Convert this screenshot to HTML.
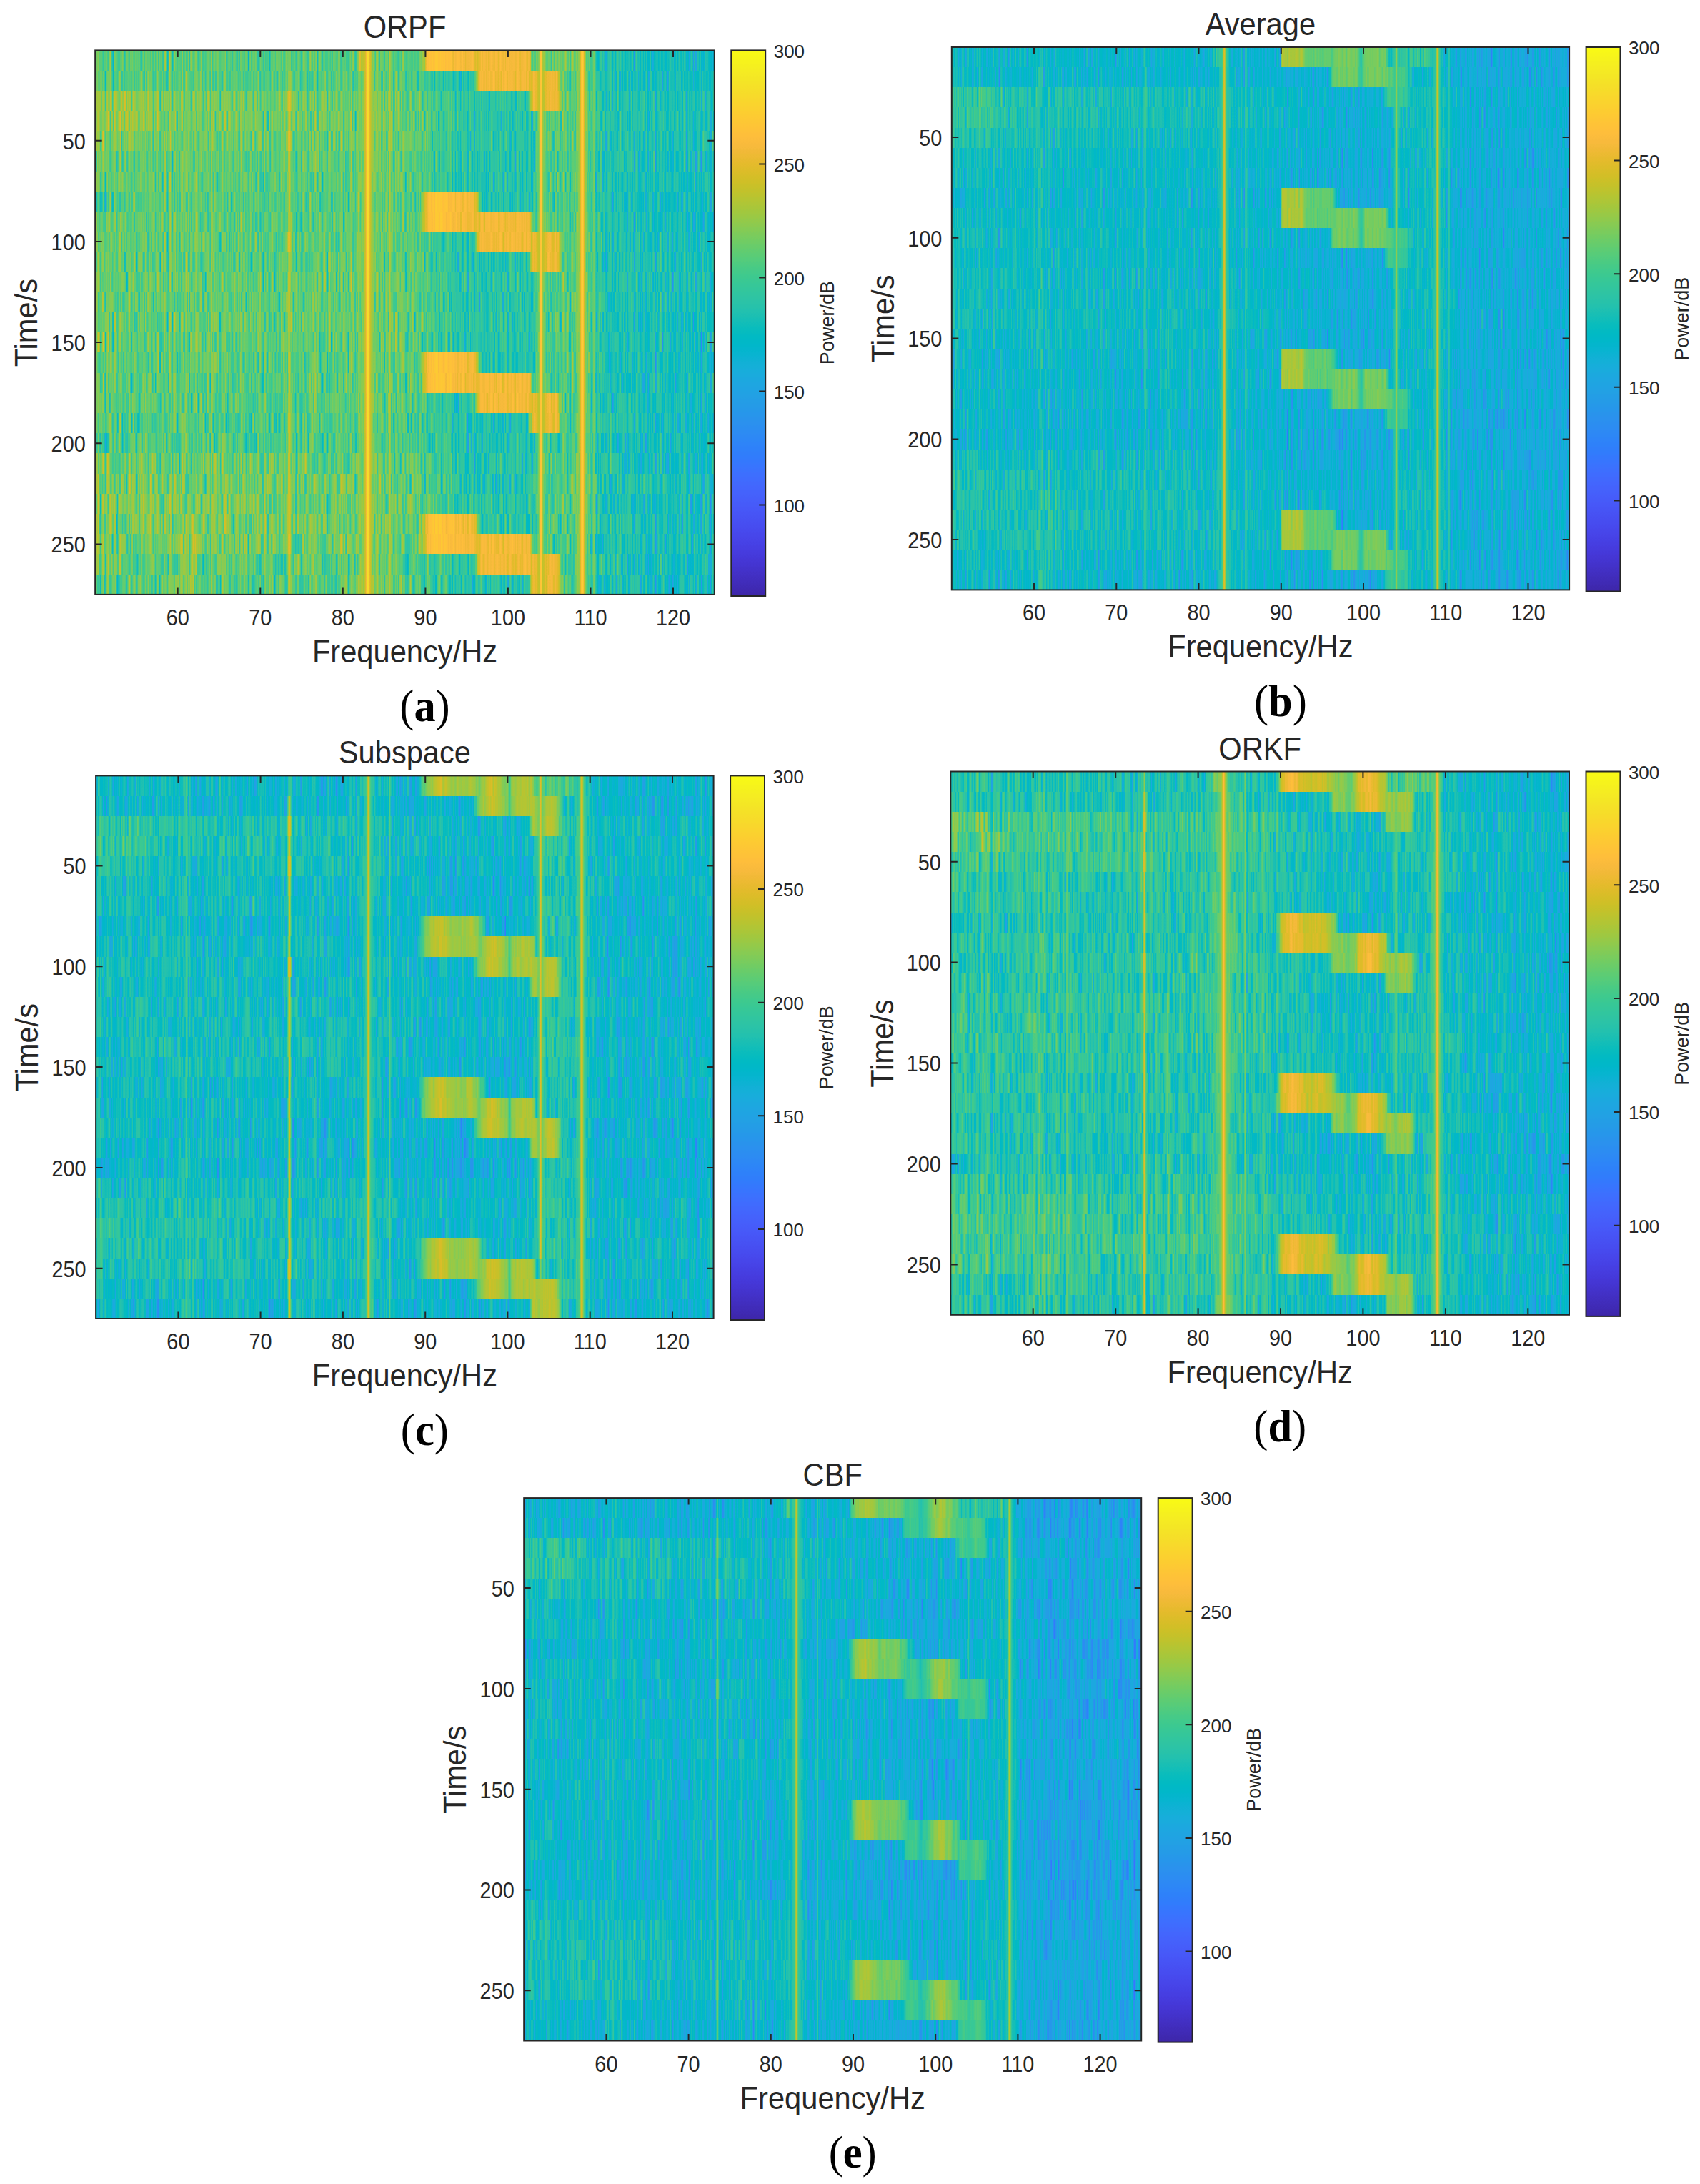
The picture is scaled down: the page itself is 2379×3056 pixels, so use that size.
<!DOCTYPE html>
<html><head><meta charset="utf-8"><title>Figure</title>
<style>
html,body{margin:0;padding:0;background:#fff}
svg{display:block}
text{font-family:"Liberation Sans",sans-serif;fill:#262626}
text.s{font-family:"Liberation Serif",serif;fill:#000}
</style></head><body>
<svg width="2379" height="3056" viewBox="0 0 2379 3056">
<defs>
<linearGradient id="cb" x1="0" y1="0" x2="0" y2="1"><stop offset="0" stop-color="#fff"/><stop offset="1" stop-color="#000"/></linearGradient>
<filter id="cm" x="0" y="0" width="1" height="1" color-interpolation-filters="sRGB"><feComponentTransfer><feFuncR type="table" tableValues=".242 .250 .258 .265 .271 .275 .278 .280 .281 .281 .280 .276 .270 .260 .244 .221 .196 .183 .179 .176 .169 .154 .146 .138 .125 .111 .095 .069 .030 .004 .007 .043 .096 .141 .172 .194 .216 .247 .291 .341 .391 .446 .504 .562 .617 .672 .724 .774 .820 .863 .903 .939 .973 .996 .997 .995 .989 .979 .968 .961 .960 .963 .969 .977"/><feFuncG type="table" tableValues=".150 .165 .182 .198 .215 .234 .256 .278 .301 .323 .345 .367 .389 .412 .436 .460 .485 .507 .529 .550 .570 .590 .609 .628 .646 .663 .680 .695 .708 .720 .731 .741 .750 .758 .767 .776 .784 .792 .797 .801 .803 .802 .799 .794 .788 .779 .770 .760 .750 .741 .733 .729 .730 .743 .766 .789 .814 .839 .864 .889 .913 .937 .961 .984"/><feFuncB type="table" tableValues=".660 .708 .751 .795 .836 .871 .899 .922 .941 .958 .972 .983 .991 .995 .999 .997 .989 .980 .968 .952 .936 .922 .908 .897 .888 .876 .860 .839 .816 .792 .766 .739 .712 .684 .655 .625 .592 .557 .519 .479 .435 .391 .348 .304 .261 .223 .191 .165 .153 .160 .177 .210 .239 .237 .220 .203 .189 .177 .164 .154 .142 .127 .106 .081"/></feComponentTransfer></filter>
<linearGradient id="a0"><stop offset=".0006" stop-color="#4cff00"/><stop offset=".0271" stop-color="#48ff00"/><stop offset=".2659" stop-color="#45ff00"/><stop offset=".3997" stop-color="#46ff00"/><stop offset=".4216" stop-color="#48ff00"/><stop offset=".4227" stop-color="#48ff00"/><stop offset=".4273" stop-color="#6bff00"/><stop offset=".4285" stop-color="#71ff00"/><stop offset=".4423" stop-color="#71ff00"/><stop offset=".4435" stop-color="#6bff00"/><stop offset=".4481" stop-color="#49ff00"/><stop offset=".4608" stop-color="#4aff00"/><stop offset=".5058" stop-color="#46ff00"/><stop offset=".5185" stop-color="#43ff00"/><stop offset=".5208" stop-color="#47f600"/><stop offset=".5219" stop-color="#4bed00"/><stop offset=".5231" stop-color="#51e200"/><stop offset=".5242" stop-color="#58d600"/><stop offset=".5265" stop-color="#69b900"/><stop offset=".5334" stop-color="#a46400"/><stop offset=".5358" stop-color="#b35300"/><stop offset=".5369" stop-color="#b84e00"/><stop offset=".5381" stop-color="#bb4d00"/><stop offset=".5392" stop-color="#bc4d00"/><stop offset=".5496" stop-color="#c34d00"/><stop offset=".5865" stop-color="#b94d00"/><stop offset=".6107" stop-color="#b74d00"/><stop offset=".6119" stop-color="#b74d00"/><stop offset=".6153" stop-color="#a95f00"/><stop offset=".6165" stop-color="#a66300"/><stop offset=".6176" stop-color="#a66300"/><stop offset=".6188" stop-color="#a85f00"/><stop offset=".6223" stop-color="#b64d00"/><stop offset=".6234" stop-color="#b74d00"/><stop offset=".6995" stop-color="#b64d00"/><stop offset=".7007" stop-color="#b25300"/><stop offset=".7018" stop-color="#a86100"/><stop offset=".703" stop-color="#997400"/><stop offset=".7065" stop-color="#64bf00"/><stop offset=".7076" stop-color="#55d600"/><stop offset=".7088" stop-color="#49ea00"/><stop offset=".7099" stop-color="#42f800"/><stop offset=".7111" stop-color="#40ff00"/><stop offset=".7134" stop-color="#45ff00"/><stop offset=".7203" stop-color="#4dff00"/><stop offset=".7734" stop-color="#50ff00"/><stop offset=".7849" stop-color="#3eff00"/><stop offset=".8264" stop-color="#2eff00"/><stop offset=".9994" stop-color="#26ff00"/></linearGradient>
<linearGradient id="a1"><stop offset=".0006" stop-color="#4bff00"/><stop offset=".0271" stop-color="#47ff00"/><stop offset=".267" stop-color="#44ff00"/><stop offset=".3997" stop-color="#45ff00"/><stop offset=".4608" stop-color="#49ff00"/><stop offset=".5069" stop-color="#45ff00"/><stop offset=".5727" stop-color="#35ff00"/><stop offset=".6096" stop-color="#30ff00"/><stop offset=".6107" stop-color="#34fa00"/><stop offset=".6119" stop-color="#3cee00"/><stop offset=".613" stop-color="#49dd00"/><stop offset=".6142" stop-color="#58c900"/><stop offset=".6188" stop-color="#9b7100"/><stop offset=".62" stop-color="#a86000"/><stop offset=".6211" stop-color="#b15300"/><stop offset=".6223" stop-color="#b64d00"/><stop offset=".6234" stop-color="#b74d00"/><stop offset=".6995" stop-color="#b64d00"/><stop offset=".703" stop-color="#a95f00"/><stop offset=".7042" stop-color="#a85f00"/><stop offset=".7076" stop-color="#b64d00"/><stop offset=".7088" stop-color="#b64c00"/><stop offset=".7445" stop-color="#b54d00"/><stop offset=".7457" stop-color="#b25000"/><stop offset=".7468" stop-color="#ab5c00"/><stop offset=".748" stop-color="#9f6e00"/><stop offset=".7526" stop-color="#60cf00"/><stop offset=".7537" stop-color="#52e400"/><stop offset=".7549" stop-color="#48f500"/><stop offset=".7561" stop-color="#42fe00"/><stop offset=".7572" stop-color="#42ff00"/><stop offset=".7734" stop-color="#43ff00"/><stop offset=".8276" stop-color="#2dff00"/><stop offset=".9994" stop-color="#26ff00"/></linearGradient>
<linearGradient id="a2"><stop offset=".0006" stop-color="#5bff00"/><stop offset=".034" stop-color="#57ff00"/><stop offset=".0456" stop-color="#5eff00"/><stop offset=".0606" stop-color="#5eff00"/><stop offset=".0721" stop-color="#56ff00"/><stop offset=".1067" stop-color="#53ff00"/><stop offset=".2659" stop-color="#4fff00"/><stop offset=".3997" stop-color="#4eff00"/><stop offset=".4608" stop-color="#52ff00"/><stop offset=".5069" stop-color="#4dff00"/><stop offset=".5727" stop-color="#3cff00"/><stop offset=".613" stop-color="#35ff00"/><stop offset=".6972" stop-color="#34ff00"/><stop offset=".6984" stop-color="#38fa00"/><stop offset=".6995" stop-color="#43eb00"/><stop offset=".7007" stop-color="#53d500"/><stop offset=".7042" stop-color="#908100"/><stop offset=".7053" stop-color="#a26900"/><stop offset=".7065" stop-color="#af5700"/><stop offset=".7076" stop-color="#b64d00"/><stop offset=".7088" stop-color="#b64d00"/><stop offset=".7445" stop-color="#b54d00"/><stop offset=".7457" stop-color="#b35000"/><stop offset=".7468" stop-color="#ab5c00"/><stop offset=".748" stop-color="#a06e00"/><stop offset=".7526" stop-color="#64cf00"/><stop offset=".7537" stop-color="#57e400"/><stop offset=".7549" stop-color="#4df500"/><stop offset=".7561" stop-color="#47fe00"/><stop offset=".7572" stop-color="#47ff00"/><stop offset=".7734" stop-color="#48ff00"/><stop offset=".8276" stop-color="#32ff00"/><stop offset=".9994" stop-color="#2bff00"/></linearGradient>
<linearGradient id="a3"><stop offset=".0006" stop-color="#5bff00"/><stop offset=".034" stop-color="#57ff00"/><stop offset=".0456" stop-color="#5eff00"/><stop offset=".0606" stop-color="#5eff00"/><stop offset=".0721" stop-color="#56ff00"/><stop offset=".1067" stop-color="#53ff00"/><stop offset=".2659" stop-color="#4fff00"/><stop offset=".3997" stop-color="#4eff00"/><stop offset=".4608" stop-color="#52ff00"/><stop offset=".5069" stop-color="#4dff00"/><stop offset=".5727" stop-color="#3cff00"/><stop offset=".6142" stop-color="#34ff00"/><stop offset=".7065" stop-color="#34ff00"/><stop offset=".7203" stop-color="#44ff00"/><stop offset=".7734" stop-color="#48ff00"/><stop offset=".8276" stop-color="#32ff00"/><stop offset=".9994" stop-color="#2bff00"/></linearGradient>
<linearGradient id="a4"><stop offset=".0006" stop-color="#55ff00"/><stop offset=".0271" stop-color="#51ff00"/><stop offset=".0456" stop-color="#54ff00"/><stop offset=".0606" stop-color="#54ff00"/><stop offset=".0721" stop-color="#50ff00"/><stop offset=".1067" stop-color="#4fff00"/><stop offset=".267" stop-color="#4cff00"/><stop offset=".3997" stop-color="#4cff00"/><stop offset=".4608" stop-color="#50ff00"/><stop offset=".5069" stop-color="#4cff00"/><stop offset=".5727" stop-color="#3aff00"/><stop offset=".6142" stop-color="#33ff00"/><stop offset=".7065" stop-color="#33ff00"/><stop offset=".7203" stop-color="#43ff00"/><stop offset=".7734" stop-color="#47ff00"/><stop offset=".8276" stop-color="#31ff00"/><stop offset=".9994" stop-color="#2aff00"/></linearGradient>
<linearGradient id="a5"><stop offset=".0006" stop-color="#50ff00"/><stop offset=".0271" stop-color="#4bff00"/><stop offset=".267" stop-color="#48ff00"/><stop offset=".3997" stop-color="#49ff00"/><stop offset=".4608" stop-color="#4dff00"/><stop offset=".5069" stop-color="#49ff00"/><stop offset=".5727" stop-color="#38ff00"/><stop offset=".6142" stop-color="#32ff00"/><stop offset=".7065" stop-color="#32ff00"/><stop offset=".7203" stop-color="#42ff00"/><stop offset=".7734" stop-color="#45ff00"/><stop offset=".8276" stop-color="#30ff00"/><stop offset=".9994" stop-color="#28ff00"/></linearGradient>
<linearGradient id="a6"><stop offset=".0006" stop-color="#4fff00"/><stop offset=".0271" stop-color="#4bff00"/><stop offset=".267" stop-color="#47ff00"/><stop offset=".3997" stop-color="#48ff00"/><stop offset=".4608" stop-color="#4dff00"/><stop offset=".5069" stop-color="#48ff00"/><stop offset=".5727" stop-color="#38ff00"/><stop offset=".6142" stop-color="#31ff00"/><stop offset=".7065" stop-color="#31ff00"/><stop offset=".7203" stop-color="#41ff00"/><stop offset=".7734" stop-color="#45ff00"/><stop offset=".8276" stop-color="#2fff00"/><stop offset=".9994" stop-color="#28ff00"/></linearGradient>
<linearGradient id="a7"><stop offset=".0006" stop-color="#35ff00"/><stop offset=".0167" stop-color="#32ff00"/><stop offset=".0179" stop-color="#34ff00"/><stop offset=".0236" stop-color="#47ff00"/><stop offset=".0248" stop-color="#48ff00"/><stop offset=".267" stop-color="#45ff00"/><stop offset=".3997" stop-color="#46ff00"/><stop offset=".4596" stop-color="#4aff00"/><stop offset=".5058" stop-color="#46ff00"/><stop offset=".5185" stop-color="#43ff00"/><stop offset=".5208" stop-color="#47f600"/><stop offset=".5219" stop-color="#4bed00"/><stop offset=".5231" stop-color="#51e200"/><stop offset=".5242" stop-color="#58d600"/><stop offset=".5265" stop-color="#69b900"/><stop offset=".5334" stop-color="#a46400"/><stop offset=".5358" stop-color="#b35300"/><stop offset=".5369" stop-color="#b84e00"/><stop offset=".5381" stop-color="#bb4d00"/><stop offset=".5392" stop-color="#bc4d00"/><stop offset=".5496" stop-color="#c34d00"/><stop offset=".5865" stop-color="#b94d00"/><stop offset=".6119" stop-color="#b74d00"/><stop offset=".613" stop-color="#b25300"/><stop offset=".6142" stop-color="#aa5e00"/><stop offset=".6153" stop-color="#9e6d00"/><stop offset=".6165" stop-color="#907f00"/><stop offset=".6211" stop-color="#53d100"/><stop offset=".6223" stop-color="#46e200"/><stop offset=".6234" stop-color="#3bf000"/><stop offset=".6246" stop-color="#33fa00"/><stop offset=".6257" stop-color="#30ff00"/><stop offset=".7065" stop-color="#30ff00"/><stop offset=".7203" stop-color="#40ff00"/><stop offset=".7734" stop-color="#43ff00"/><stop offset=".8276" stop-color="#2eff00"/><stop offset=".9994" stop-color="#26ff00"/></linearGradient>
<linearGradient id="a8"><stop offset=".0006" stop-color="#4fff00"/><stop offset=".0271" stop-color="#4bff00"/><stop offset=".267" stop-color="#47ff00"/><stop offset=".3997" stop-color="#48ff00"/><stop offset=".4596" stop-color="#4dff00"/><stop offset=".5058" stop-color="#49ff00"/><stop offset=".5185" stop-color="#45ff00"/><stop offset=".5208" stop-color="#49f600"/><stop offset=".5219" stop-color="#4ded00"/><stop offset=".5231" stop-color="#53e200"/><stop offset=".5242" stop-color="#59d600"/><stop offset=".5265" stop-color="#6ab900"/><stop offset=".5334" stop-color="#a46400"/><stop offset=".5358" stop-color="#b35300"/><stop offset=".5369" stop-color="#b84e00"/><stop offset=".5381" stop-color="#bb4d00"/><stop offset=".5392" stop-color="#bc4d00"/><stop offset=".5496" stop-color="#c34d00"/><stop offset=".5865" stop-color="#b94d00"/><stop offset=".6107" stop-color="#b74d00"/><stop offset=".6119" stop-color="#b74d00"/><stop offset=".6153" stop-color="#a95f00"/><stop offset=".6165" stop-color="#a66300"/><stop offset=".6176" stop-color="#a66300"/><stop offset=".6188" stop-color="#a95f00"/><stop offset=".6223" stop-color="#b64d00"/><stop offset=".6234" stop-color="#b74d00"/><stop offset=".6995" stop-color="#b64d00"/><stop offset=".7007" stop-color="#b25300"/><stop offset=".7018" stop-color="#a76100"/><stop offset=".703" stop-color="#997400"/><stop offset=".7065" stop-color="#61bf00"/><stop offset=".7076" stop-color="#51d600"/><stop offset=".7088" stop-color="#43ea00"/><stop offset=".7099" stop-color="#3af800"/><stop offset=".7111" stop-color="#37ff00"/><stop offset=".7203" stop-color="#41ff00"/><stop offset=".7734" stop-color="#45ff00"/><stop offset=".8276" stop-color="#2fff00"/><stop offset=".9994" stop-color="#28ff00"/></linearGradient>
<linearGradient id="a9"><stop offset=".0006" stop-color="#50ff00"/><stop offset=".0271" stop-color="#4bff00"/><stop offset=".267" stop-color="#48ff00"/><stop offset=".3997" stop-color="#49ff00"/><stop offset=".4608" stop-color="#4dff00"/><stop offset=".5069" stop-color="#49ff00"/><stop offset=".5727" stop-color="#38ff00"/><stop offset=".6096" stop-color="#33ff00"/><stop offset=".6107" stop-color="#36fa00"/><stop offset=".6119" stop-color="#3fee00"/><stop offset=".613" stop-color="#4bdd00"/><stop offset=".6142" stop-color="#5ac900"/><stop offset=".6188" stop-color="#9c7100"/><stop offset=".62" stop-color="#a86000"/><stop offset=".6211" stop-color="#b25300"/><stop offset=".6223" stop-color="#b64d00"/><stop offset=".6234" stop-color="#b74d00"/><stop offset=".6995" stop-color="#b64d00"/><stop offset=".703" stop-color="#a95f00"/><stop offset=".7042" stop-color="#a85f00"/><stop offset=".7076" stop-color="#b64d00"/><stop offset=".7088" stop-color="#b64c00"/><stop offset=".7445" stop-color="#b54d00"/><stop offset=".7457" stop-color="#b25000"/><stop offset=".7468" stop-color="#ab5c00"/><stop offset=".748" stop-color="#a06e00"/><stop offset=".7526" stop-color="#62cf00"/><stop offset=".7537" stop-color="#55e400"/><stop offset=".7549" stop-color="#4bf500"/><stop offset=".7561" stop-color="#45fe00"/><stop offset=".7572" stop-color="#44ff00"/><stop offset=".7734" stop-color="#45ff00"/><stop offset=".8276" stop-color="#30ff00"/><stop offset=".9994" stop-color="#28ff00"/></linearGradient>
<linearGradient id="a10"><stop offset=".0006" stop-color="#4fff00"/><stop offset=".0271" stop-color="#4bff00"/><stop offset=".267" stop-color="#47ff00"/><stop offset=".3997" stop-color="#48ff00"/><stop offset=".4608" stop-color="#4dff00"/><stop offset=".5069" stop-color="#48ff00"/><stop offset=".5727" stop-color="#38ff00"/><stop offset=".613" stop-color="#31ff00"/><stop offset=".6972" stop-color="#31ff00"/><stop offset=".6984" stop-color="#35fa00"/><stop offset=".6995" stop-color="#40eb00"/><stop offset=".7007" stop-color="#51d500"/><stop offset=".7042" stop-color="#8f8100"/><stop offset=".7053" stop-color="#a16900"/><stop offset=".7065" stop-color="#af5700"/><stop offset=".7076" stop-color="#b64d00"/><stop offset=".7088" stop-color="#b64d00"/><stop offset=".7445" stop-color="#b54d00"/><stop offset=".7457" stop-color="#b25000"/><stop offset=".7468" stop-color="#ab5c00"/><stop offset=".748" stop-color="#9f6e00"/><stop offset=".7526" stop-color="#62cf00"/><stop offset=".7537" stop-color="#54e400"/><stop offset=".7549" stop-color="#4af500"/><stop offset=".7561" stop-color="#44fe00"/><stop offset=".7572" stop-color="#44ff00"/><stop offset=".7734" stop-color="#45ff00"/><stop offset=".8276" stop-color="#2fff00"/><stop offset=".9994" stop-color="#28ff00"/></linearGradient>
<linearGradient id="a11"><stop offset=".0006" stop-color="#50ff00"/><stop offset=".0271" stop-color="#4cff00"/><stop offset=".267" stop-color="#49ff00"/><stop offset=".3997" stop-color="#4aff00"/><stop offset=".4608" stop-color="#4eff00"/><stop offset=".5069" stop-color="#4aff00"/><stop offset=".5727" stop-color="#39ff00"/><stop offset=".6142" stop-color="#32ff00"/><stop offset=".7065" stop-color="#32ff00"/><stop offset=".7203" stop-color="#42ff00"/><stop offset=".7734" stop-color="#46ff00"/><stop offset=".8276" stop-color="#30ff00"/><stop offset=".9994" stop-color="#29ff00"/></linearGradient>
<linearGradient id="a12"><stop offset=".0006" stop-color="#50ff00"/><stop offset=".0271" stop-color="#4cff00"/><stop offset=".267" stop-color="#49ff00"/><stop offset=".3997" stop-color="#4aff00"/><stop offset=".4608" stop-color="#4eff00"/><stop offset=".5069" stop-color="#4aff00"/><stop offset=".5727" stop-color="#39ff00"/><stop offset=".6142" stop-color="#32ff00"/><stop offset=".7065" stop-color="#32ff00"/><stop offset=".7203" stop-color="#42ff00"/><stop offset=".7734" stop-color="#46ff00"/><stop offset=".8276" stop-color="#30ff00"/><stop offset=".9994" stop-color="#29ff00"/></linearGradient>
<linearGradient id="a13"><stop offset=".0006" stop-color="#51ff00"/><stop offset=".0271" stop-color="#4dff00"/><stop offset=".267" stop-color="#4aff00"/><stop offset=".3997" stop-color="#4bff00"/><stop offset=".4608" stop-color="#4fff00"/><stop offset=".5069" stop-color="#4bff00"/><stop offset=".5727" stop-color="#3aff00"/><stop offset=".6142" stop-color="#33ff00"/><stop offset=".7065" stop-color="#33ff00"/><stop offset=".7203" stop-color="#43ff00"/><stop offset=".7734" stop-color="#46ff00"/><stop offset=".8276" stop-color="#31ff00"/><stop offset=".9994" stop-color="#29ff00"/></linearGradient>
<linearGradient id="a14"><stop offset=".0006" stop-color="#50ff00"/><stop offset=".0271" stop-color="#4bff00"/><stop offset=".267" stop-color="#48ff00"/><stop offset=".3997" stop-color="#49ff00"/><stop offset=".4608" stop-color="#4dff00"/><stop offset=".5069" stop-color="#49ff00"/><stop offset=".5727" stop-color="#38ff00"/><stop offset=".6142" stop-color="#32ff00"/><stop offset=".7065" stop-color="#32ff00"/><stop offset=".7203" stop-color="#42ff00"/><stop offset=".7734" stop-color="#45ff00"/><stop offset=".8276" stop-color="#30ff00"/><stop offset=".9994" stop-color="#28ff00"/></linearGradient>
<linearGradient id="a15"><stop offset=".0006" stop-color="#4dff00"/><stop offset=".0271" stop-color="#49ff00"/><stop offset=".267" stop-color="#46ff00"/><stop offset=".3997" stop-color="#47ff00"/><stop offset=".4596" stop-color="#4bff00"/><stop offset=".5058" stop-color="#47ff00"/><stop offset=".5185" stop-color="#44ff00"/><stop offset=".5208" stop-color="#48f600"/><stop offset=".5219" stop-color="#4ced00"/><stop offset=".5231" stop-color="#51e200"/><stop offset=".5242" stop-color="#58d600"/><stop offset=".5265" stop-color="#69b900"/><stop offset=".5334" stop-color="#a46400"/><stop offset=".5358" stop-color="#b35300"/><stop offset=".5369" stop-color="#b84e00"/><stop offset=".5381" stop-color="#bb4d00"/><stop offset=".5392" stop-color="#bc4d00"/><stop offset=".5496" stop-color="#c34d00"/><stop offset=".5865" stop-color="#b94d00"/><stop offset=".6119" stop-color="#b74d00"/><stop offset=".613" stop-color="#b25300"/><stop offset=".6142" stop-color="#aa5e00"/><stop offset=".6153" stop-color="#9e6d00"/><stop offset=".6165" stop-color="#917f00"/><stop offset=".6211" stop-color="#53d100"/><stop offset=".6223" stop-color="#46e200"/><stop offset=".6234" stop-color="#3bf000"/><stop offset=".6246" stop-color="#34fa00"/><stop offset=".6257" stop-color="#31ff00"/><stop offset=".7065" stop-color="#30ff00"/><stop offset=".7203" stop-color="#40ff00"/><stop offset=".7734" stop-color="#44ff00"/><stop offset=".8276" stop-color="#2eff00"/><stop offset=".9994" stop-color="#27ff00"/></linearGradient>
<linearGradient id="a16"><stop offset=".0006" stop-color="#4dff00"/><stop offset=".0271" stop-color="#49ff00"/><stop offset=".267" stop-color="#46ff00"/><stop offset=".3997" stop-color="#47ff00"/><stop offset=".4596" stop-color="#4bff00"/><stop offset=".5058" stop-color="#47ff00"/><stop offset=".5185" stop-color="#44ff00"/><stop offset=".5208" stop-color="#48f600"/><stop offset=".5219" stop-color="#4ced00"/><stop offset=".5231" stop-color="#51e200"/><stop offset=".5242" stop-color="#58d600"/><stop offset=".5265" stop-color="#69b900"/><stop offset=".5334" stop-color="#a46400"/><stop offset=".5358" stop-color="#b35300"/><stop offset=".5369" stop-color="#b84e00"/><stop offset=".5381" stop-color="#bb4d00"/><stop offset=".5392" stop-color="#bc4d00"/><stop offset=".5496" stop-color="#c34d00"/><stop offset=".5865" stop-color="#b94d00"/><stop offset=".6107" stop-color="#b74d00"/><stop offset=".6119" stop-color="#b74d00"/><stop offset=".6153" stop-color="#a95f00"/><stop offset=".6165" stop-color="#a66300"/><stop offset=".6176" stop-color="#a66300"/><stop offset=".6188" stop-color="#a95f00"/><stop offset=".6223" stop-color="#b64d00"/><stop offset=".6234" stop-color="#b74d00"/><stop offset=".6995" stop-color="#b64d00"/><stop offset=".7007" stop-color="#b25300"/><stop offset=".7018" stop-color="#a76100"/><stop offset=".703" stop-color="#997400"/><stop offset=".7065" stop-color="#61bf00"/><stop offset=".7076" stop-color="#50d600"/><stop offset=".7088" stop-color="#42ea00"/><stop offset=".7099" stop-color="#39f800"/><stop offset=".7111" stop-color="#36ff00"/><stop offset=".7203" stop-color="#40ff00"/><stop offset=".7734" stop-color="#44ff00"/><stop offset=".8276" stop-color="#2eff00"/><stop offset=".9994" stop-color="#27ff00"/></linearGradient>
<linearGradient id="a17"><stop offset=".0006" stop-color="#4cff00"/><stop offset=".0271" stop-color="#48ff00"/><stop offset=".267" stop-color="#45ff00"/><stop offset=".3997" stop-color="#46ff00"/><stop offset=".4608" stop-color="#4aff00"/><stop offset=".5069" stop-color="#46ff00"/><stop offset=".5727" stop-color="#36ff00"/><stop offset=".6096" stop-color="#31ff00"/><stop offset=".6107" stop-color="#34fa00"/><stop offset=".6119" stop-color="#3dee00"/><stop offset=".613" stop-color="#49dd00"/><stop offset=".6142" stop-color="#58c900"/><stop offset=".6188" stop-color="#9b7100"/><stop offset=".62" stop-color="#a86000"/><stop offset=".6211" stop-color="#b15300"/><stop offset=".6223" stop-color="#b64d00"/><stop offset=".6234" stop-color="#b74d00"/><stop offset=".6995" stop-color="#b64d00"/><stop offset=".703" stop-color="#a95f00"/><stop offset=".7042" stop-color="#a85f00"/><stop offset=".7076" stop-color="#b64d00"/><stop offset=".7088" stop-color="#b64c00"/><stop offset=".7445" stop-color="#b54d00"/><stop offset=".7457" stop-color="#b25000"/><stop offset=".7468" stop-color="#ab5c00"/><stop offset=".748" stop-color="#9f6e00"/><stop offset=".7526" stop-color="#60cf00"/><stop offset=".7537" stop-color="#53e400"/><stop offset=".7549" stop-color="#49f500"/><stop offset=".7561" stop-color="#43fe00"/><stop offset=".7572" stop-color="#42ff00"/><stop offset=".7734" stop-color="#43ff00"/><stop offset=".8276" stop-color="#2eff00"/><stop offset=".9994" stop-color="#26ff00"/></linearGradient>
<linearGradient id="a18"><stop offset=".0006" stop-color="#4aff00"/><stop offset=".0271" stop-color="#46ff00"/><stop offset=".267" stop-color="#43ff00"/><stop offset=".3997" stop-color="#44ff00"/><stop offset=".4596" stop-color="#48ff00"/><stop offset=".5069" stop-color="#44ff00"/><stop offset=".5727" stop-color="#35ff00"/><stop offset=".613" stop-color="#2fff00"/><stop offset=".6972" stop-color="#2fff00"/><stop offset=".6984" stop-color="#33fa00"/><stop offset=".6995" stop-color="#3eeb00"/><stop offset=".7007" stop-color="#4fd500"/><stop offset=".7042" stop-color="#8e8100"/><stop offset=".7053" stop-color="#a16900"/><stop offset=".7065" stop-color="#af5700"/><stop offset=".7076" stop-color="#b64d00"/><stop offset=".7088" stop-color="#b64d00"/><stop offset=".7445" stop-color="#b54d00"/><stop offset=".7457" stop-color="#b25000"/><stop offset=".7468" stop-color="#ab5c00"/><stop offset=".748" stop-color="#9f6e00"/><stop offset=".7526" stop-color="#60cf00"/><stop offset=".7537" stop-color="#52e400"/><stop offset=".7549" stop-color="#48f500"/><stop offset=".7561" stop-color="#42fe00"/><stop offset=".7572" stop-color="#41ff00"/><stop offset=".7734" stop-color="#42ff00"/><stop offset=".8276" stop-color="#2dff00"/><stop offset=".9994" stop-color="#25ff00"/></linearGradient>
<linearGradient id="a19"><stop offset=".0006" stop-color="#3bff00"/><stop offset=".0167" stop-color="#38ff00"/><stop offset=".0236" stop-color="#45ff00"/><stop offset=".0248" stop-color="#46ff00"/><stop offset=".267" stop-color="#42ff00"/><stop offset=".3997" stop-color="#43ff00"/><stop offset=".4596" stop-color="#48ff00"/><stop offset=".5069" stop-color="#43ff00"/><stop offset=".5727" stop-color="#34ff00"/><stop offset=".613" stop-color="#2eff00"/><stop offset=".7065" stop-color="#2eff00"/><stop offset=".7203" stop-color="#3eff00"/><stop offset=".7734" stop-color="#41ff00"/><stop offset=".8276" stop-color="#2cff00"/><stop offset=".9994" stop-color="#25ff00"/></linearGradient>
<linearGradient id="a20"><stop offset=".0006" stop-color="#53ff00"/><stop offset=".0271" stop-color="#4fff00"/><stop offset=".267" stop-color="#4aff00"/><stop offset=".3997" stop-color="#4aff00"/><stop offset=".4596" stop-color="#4dff00"/><stop offset=".5069" stop-color="#48ff00"/><stop offset=".5727" stop-color="#37ff00"/><stop offset=".6142" stop-color="#31ff00"/><stop offset=".7065" stop-color="#31ff00"/><stop offset=".7203" stop-color="#41ff00"/><stop offset=".7734" stop-color="#44ff00"/><stop offset=".8276" stop-color="#2fff00"/><stop offset=".9994" stop-color="#27ff00"/></linearGradient>
<linearGradient id="a21"><stop offset=".0006" stop-color="#57ff00"/><stop offset=".0271" stop-color="#53ff00"/><stop offset=".267" stop-color="#4fff00"/><stop offset=".3997" stop-color="#4eff00"/><stop offset=".4596" stop-color="#51ff00"/><stop offset=".5069" stop-color="#4cff00"/><stop offset=".5727" stop-color="#3aff00"/><stop offset=".6142" stop-color="#33ff00"/><stop offset=".7065" stop-color="#33ff00"/><stop offset=".7203" stop-color="#43ff00"/><stop offset=".7734" stop-color="#47ff00"/><stop offset=".8276" stop-color="#31ff00"/><stop offset=".9994" stop-color="#2aff00"/></linearGradient>
<linearGradient id="a22"><stop offset=".0006" stop-color="#57ff00"/><stop offset=".0271" stop-color="#53ff00"/><stop offset=".1298" stop-color="#52ff00"/><stop offset=".1413" stop-color="#58ff00"/><stop offset=".1586" stop-color="#58ff00"/><stop offset=".1701" stop-color="#51ff00"/><stop offset=".267" stop-color="#4fff00"/><stop offset=".3997" stop-color="#4eff00"/><stop offset=".4596" stop-color="#51ff00"/><stop offset=".5069" stop-color="#4cff00"/><stop offset=".5727" stop-color="#3aff00"/><stop offset=".6142" stop-color="#33ff00"/><stop offset=".7065" stop-color="#33ff00"/><stop offset=".7203" stop-color="#43ff00"/><stop offset=".7734" stop-color="#47ff00"/><stop offset=".8276" stop-color="#31ff00"/><stop offset=".9994" stop-color="#2aff00"/></linearGradient>
<linearGradient id="a23"><stop offset=".0006" stop-color="#57ff00"/><stop offset=".0271" stop-color="#53ff00"/><stop offset=".1298" stop-color="#52ff00"/><stop offset=".1413" stop-color="#5cff00"/><stop offset=".1586" stop-color="#5bff00"/><stop offset=".1701" stop-color="#51ff00"/><stop offset=".3997" stop-color="#4eff00"/><stop offset=".4596" stop-color="#51ff00"/><stop offset=".5058" stop-color="#4cff00"/><stop offset=".5185" stop-color="#49ff00"/><stop offset=".5208" stop-color="#4cf600"/><stop offset=".5219" stop-color="#50ed00"/><stop offset=".5231" stop-color="#55e200"/><stop offset=".5242" stop-color="#5cd600"/><stop offset=".5265" stop-color="#6cb900"/><stop offset=".5334" stop-color="#a46400"/><stop offset=".5358" stop-color="#b35300"/><stop offset=".5369" stop-color="#b84e00"/><stop offset=".5381" stop-color="#bb4d00"/><stop offset=".5392" stop-color="#bc4d00"/><stop offset=".5496" stop-color="#c34d00"/><stop offset=".5865" stop-color="#b94d00"/><stop offset=".6119" stop-color="#b74d00"/><stop offset=".613" stop-color="#b25300"/><stop offset=".6142" stop-color="#aa5e00"/><stop offset=".6153" stop-color="#9f6d00"/><stop offset=".6165" stop-color="#917f00"/><stop offset=".6211" stop-color="#55d100"/><stop offset=".6223" stop-color="#49e200"/><stop offset=".6234" stop-color="#3ef000"/><stop offset=".6246" stop-color="#37fa00"/><stop offset=".6257" stop-color="#34ff00"/><stop offset=".7065" stop-color="#33ff00"/><stop offset=".7203" stop-color="#43ff00"/><stop offset=".7734" stop-color="#47ff00"/><stop offset=".8276" stop-color="#31ff00"/><stop offset=".9994" stop-color="#2aff00"/></linearGradient>
<linearGradient id="a24"><stop offset=".0006" stop-color="#57ff00"/><stop offset=".0271" stop-color="#52ff00"/><stop offset=".1298" stop-color="#51ff00"/><stop offset=".1413" stop-color="#5eff00"/><stop offset=".1586" stop-color="#5dff00"/><stop offset=".1701" stop-color="#50ff00"/><stop offset=".3997" stop-color="#4dff00"/><stop offset=".4596" stop-color="#50ff00"/><stop offset=".5058" stop-color="#4bff00"/><stop offset=".5185" stop-color="#48ff00"/><stop offset=".5208" stop-color="#4bf600"/><stop offset=".5219" stop-color="#4fed00"/><stop offset=".5231" stop-color="#55e200"/><stop offset=".5242" stop-color="#5bd600"/><stop offset=".5265" stop-color="#6bb900"/><stop offset=".5334" stop-color="#a46400"/><stop offset=".5358" stop-color="#b35300"/><stop offset=".5369" stop-color="#b84e00"/><stop offset=".5381" stop-color="#bb4d00"/><stop offset=".5392" stop-color="#bc4d00"/><stop offset=".5496" stop-color="#c34d00"/><stop offset=".5865" stop-color="#b94d00"/><stop offset=".6107" stop-color="#b74d00"/><stop offset=".6119" stop-color="#b74d00"/><stop offset=".6153" stop-color="#a95f00"/><stop offset=".6165" stop-color="#a66300"/><stop offset=".6176" stop-color="#a66300"/><stop offset=".6188" stop-color="#a95f00"/><stop offset=".6223" stop-color="#b64d00"/><stop offset=".6234" stop-color="#b74d00"/><stop offset=".6995" stop-color="#b64d00"/><stop offset=".7007" stop-color="#b25300"/><stop offset=".7018" stop-color="#a86100"/><stop offset=".703" stop-color="#997400"/><stop offset=".7065" stop-color="#62bf00"/><stop offset=".7076" stop-color="#52d600"/><stop offset=".7088" stop-color="#45ea00"/><stop offset=".7099" stop-color="#3cf800"/><stop offset=".7111" stop-color="#38ff00"/><stop offset=".7203" stop-color="#43ff00"/><stop offset=".7734" stop-color="#46ff00"/><stop offset=".8276" stop-color="#31ff00"/><stop offset=".9994" stop-color="#29ff00"/></linearGradient>
<linearGradient id="a25"><stop offset=".0006" stop-color="#4fff00"/><stop offset=".0271" stop-color="#4bff00"/><stop offset=".1298" stop-color="#49ff00"/><stop offset=".1424" stop-color="#56ff00"/><stop offset=".1586" stop-color="#56ff00"/><stop offset=".1701" stop-color="#49ff00"/><stop offset=".3997" stop-color="#48ff00"/><stop offset=".4608" stop-color="#4dff00"/><stop offset=".5069" stop-color="#48ff00"/><stop offset=".5727" stop-color="#38ff00"/><stop offset=".6096" stop-color="#32ff00"/><stop offset=".6107" stop-color="#36fa00"/><stop offset=".6119" stop-color="#3eee00"/><stop offset=".613" stop-color="#4bdd00"/><stop offset=".6142" stop-color="#5ac900"/><stop offset=".6188" stop-color="#9b7100"/><stop offset=".62" stop-color="#a86000"/><stop offset=".6211" stop-color="#b25300"/><stop offset=".6223" stop-color="#b64d00"/><stop offset=".6234" stop-color="#b74d00"/><stop offset=".6995" stop-color="#b64d00"/><stop offset=".703" stop-color="#a95f00"/><stop offset=".7042" stop-color="#a85f00"/><stop offset=".7076" stop-color="#b64d00"/><stop offset=".7088" stop-color="#b64c00"/><stop offset=".7445" stop-color="#b54d00"/><stop offset=".7457" stop-color="#b25000"/><stop offset=".7468" stop-color="#ab5c00"/><stop offset=".748" stop-color="#9f6e00"/><stop offset=".7526" stop-color="#62cf00"/><stop offset=".7537" stop-color="#54e400"/><stop offset=".7549" stop-color="#4af500"/><stop offset=".7561" stop-color="#44fe00"/><stop offset=".7572" stop-color="#44ff00"/><stop offset=".7734" stop-color="#45ff00"/><stop offset=".8276" stop-color="#2fff00"/><stop offset=".9994" stop-color="#28ff00"/></linearGradient>
<linearGradient id="a26"><stop offset=".0006" stop-color="#4cff00"/><stop offset=".0271" stop-color="#48ff00"/><stop offset=".1298" stop-color="#47ff00"/><stop offset=".1413" stop-color="#53ff00"/><stop offset=".1586" stop-color="#53ff00"/><stop offset=".1701" stop-color="#46ff00"/><stop offset=".3997" stop-color="#46ff00"/><stop offset=".4262" stop-color="#48ff00"/><stop offset=".4273" stop-color="#4cff00"/><stop offset=".4319" stop-color="#64ff00"/><stop offset=".4469" stop-color="#66ff00"/><stop offset=".4481" stop-color="#65ff00"/><stop offset=".4527" stop-color="#4dff00"/><stop offset=".4539" stop-color="#4aff00"/><stop offset=".5069" stop-color="#46ff00"/><stop offset=".5727" stop-color="#36ff00"/><stop offset=".613" stop-color="#30ff00"/><stop offset=".6972" stop-color="#30ff00"/><stop offset=".6984" stop-color="#34fa00"/><stop offset=".6995" stop-color="#3feb00"/><stop offset=".7007" stop-color="#50d500"/><stop offset=".7042" stop-color="#8f8100"/><stop offset=".7053" stop-color="#a16900"/><stop offset=".7065" stop-color="#af5700"/><stop offset=".7076" stop-color="#b64d00"/><stop offset=".7088" stop-color="#b64d00"/><stop offset=".7445" stop-color="#b54d00"/><stop offset=".7457" stop-color="#b25000"/><stop offset=".7468" stop-color="#ab5c00"/><stop offset=".748" stop-color="#9f6e00"/><stop offset=".7526" stop-color="#60cf00"/><stop offset=".7537" stop-color="#53e400"/><stop offset=".7549" stop-color="#49f500"/><stop offset=".7561" stop-color="#43fe00"/><stop offset=".7572" stop-color="#42ff00"/><stop offset=".7734" stop-color="#43ff00"/><stop offset=".8276" stop-color="#2eff00"/><stop offset=".9994" stop-color="#26ff00"/></linearGradient>
<linearGradient id="aL0" gradientUnits="userSpaceOnUse" x1="245.63" x2="272.66"><stop offset="0" stop-color="#50ff00" stop-opacity=".001"/><stop offset=".1538" stop-color="#50ff00" stop-opacity=".039"/><stop offset=".2692" stop-color="#50ff00" stop-opacity=".237"/><stop offset=".3654" stop-color="#50ff00" stop-opacity=".613"/><stop offset=".4423" stop-color="#50ff00" stop-opacity=".914"/><stop offset=".5" stop-color="#50ff00" stop-opacity="1"/><stop offset=".5577" stop-color="#50ff00" stop-opacity=".914"/><stop offset=".6346" stop-color="#50ff00" stop-opacity=".613"/><stop offset=".7308" stop-color="#50ff00" stop-opacity=".237"/><stop offset=".8462" stop-color="#50ff00" stop-opacity=".039"/><stop offset="1" stop-color="#50ff00" stop-opacity=".001"/></linearGradient>
<linearGradient id="aL1" gradientUnits="userSpaceOnUse" x1="423.57" x2="450.61"><stop offset="0" stop-color="#4eff00" stop-opacity=".001"/><stop offset=".1538" stop-color="#4eff00" stop-opacity=".039"/><stop offset=".2692" stop-color="#4eff00" stop-opacity=".237"/><stop offset=".3654" stop-color="#4eff00" stop-opacity=".613"/><stop offset=".4423" stop-color="#4eff00" stop-opacity=".914"/><stop offset=".5" stop-color="#4eff00" stop-opacity="1"/><stop offset=".5577" stop-color="#4eff00" stop-opacity=".914"/><stop offset=".6346" stop-color="#4eff00" stop-opacity=".613"/><stop offset=".7308" stop-color="#4eff00" stop-opacity=".237"/><stop offset=".8462" stop-color="#4eff00" stop-opacity=".039"/><stop offset="1" stop-color="#4eff00" stop-opacity=".001"/></linearGradient>
<linearGradient id="aL2" gradientUnits="userSpaceOnUse" x1="293.28" x2="298.96"><stop offset="0" stop-color="#b90000" stop-opacity=".001"/><stop offset=".1538" stop-color="#b90000" stop-opacity=".039"/><stop offset=".2692" stop-color="#b90000" stop-opacity=".237"/><stop offset=".3654" stop-color="#b90000" stop-opacity=".613"/><stop offset=".4423" stop-color="#b90000" stop-opacity=".914"/><stop offset=".5" stop-color="#b90000" stop-opacity="1"/><stop offset=".5577" stop-color="#b90000" stop-opacity=".914"/><stop offset=".6346" stop-color="#b90000" stop-opacity=".613"/><stop offset=".7308" stop-color="#b90000" stop-opacity=".237"/><stop offset=".8462" stop-color="#b90000" stop-opacity=".039"/><stop offset="1" stop-color="#b90000" stop-opacity=".001"/></linearGradient>
<linearGradient id="aL3" gradientUnits="userSpaceOnUse" x1="400.68" x2="408.79"><stop offset="0" stop-color="#d20000" stop-opacity=".001"/><stop offset=".1538" stop-color="#d20000" stop-opacity=".039"/><stop offset=".2692" stop-color="#d20000" stop-opacity=".237"/><stop offset=".3654" stop-color="#d20000" stop-opacity=".613"/><stop offset=".4423" stop-color="#d20000" stop-opacity=".914"/><stop offset=".5" stop-color="#d20000" stop-opacity="1"/><stop offset=".5577" stop-color="#d20000" stop-opacity=".914"/><stop offset=".6346" stop-color="#d20000" stop-opacity=".613"/><stop offset=".7308" stop-color="#d20000" stop-opacity=".237"/><stop offset=".8462" stop-color="#d20000" stop-opacity=".039"/><stop offset="1" stop-color="#d20000" stop-opacity=".001"/></linearGradient>
<linearGradient id="aL4" gradientUnits="userSpaceOnUse" x1="398.73" x2="410.74"><stop offset="0" stop-color="#ca0000" stop-opacity=".001"/><stop offset=".1538" stop-color="#ca0000" stop-opacity=".039"/><stop offset=".2692" stop-color="#ca0000" stop-opacity=".237"/><stop offset=".3654" stop-color="#ca0000" stop-opacity=".613"/><stop offset=".4423" stop-color="#ca0000" stop-opacity=".914"/><stop offset=".5" stop-color="#ca0000" stop-opacity="1"/><stop offset=".5577" stop-color="#ca0000" stop-opacity=".914"/><stop offset=".6346" stop-color="#ca0000" stop-opacity=".613"/><stop offset=".7308" stop-color="#ca0000" stop-opacity=".237"/><stop offset=".8462" stop-color="#ca0000" stop-opacity=".039"/><stop offset="1" stop-color="#ca0000" stop-opacity=".001"/></linearGradient>
<linearGradient id="aL5" gradientUnits="userSpaceOnUse" x1="491.97" x2="537.04"><stop offset="0" stop-color="#b70000" stop-opacity=".001"/><stop offset=".1538" stop-color="#b70000" stop-opacity=".039"/><stop offset=".2692" stop-color="#b70000" stop-opacity=".237"/><stop offset=".3654" stop-color="#b70000" stop-opacity=".613"/><stop offset=".4423" stop-color="#b70000" stop-opacity=".914"/><stop offset=".5" stop-color="#b70000" stop-opacity="1"/><stop offset=".5577" stop-color="#b70000" stop-opacity=".914"/><stop offset=".6346" stop-color="#b70000" stop-opacity=".613"/><stop offset=".7308" stop-color="#b70000" stop-opacity=".237"/><stop offset=".8462" stop-color="#b70000" stop-opacity=".039"/><stop offset="1" stop-color="#b70000" stop-opacity=".001"/></linearGradient>
<linearGradient id="aL6" gradientUnits="userSpaceOnUse" x1="505.72" x2="523.75"><stop offset="0" stop-color="#d00000" stop-opacity=".001"/><stop offset=".1538" stop-color="#d00000" stop-opacity=".039"/><stop offset=".2692" stop-color="#d00000" stop-opacity=".237"/><stop offset=".3654" stop-color="#d00000" stop-opacity=".613"/><stop offset=".4423" stop-color="#d00000" stop-opacity=".914"/><stop offset=".5" stop-color="#d00000" stop-opacity="1"/><stop offset=".5577" stop-color="#d00000" stop-opacity=".914"/><stop offset=".6346" stop-color="#d00000" stop-opacity=".613"/><stop offset=".7308" stop-color="#d00000" stop-opacity=".237"/><stop offset=".8462" stop-color="#d00000" stop-opacity=".039"/><stop offset="1" stop-color="#d00000" stop-opacity=".001"/></linearGradient>
<linearGradient id="aL7" gradientUnits="userSpaceOnUse" x1="509.87" x2="519.60"><stop offset="0" stop-color="#ee0000" stop-opacity=".001"/><stop offset=".1538" stop-color="#ee0000" stop-opacity=".039"/><stop offset=".2692" stop-color="#ee0000" stop-opacity=".237"/><stop offset=".3654" stop-color="#ee0000" stop-opacity=".613"/><stop offset=".4423" stop-color="#ee0000" stop-opacity=".914"/><stop offset=".5" stop-color="#ee0000" stop-opacity="1"/><stop offset=".5577" stop-color="#ee0000" stop-opacity=".914"/><stop offset=".6346" stop-color="#ee0000" stop-opacity=".613"/><stop offset=".7308" stop-color="#ee0000" stop-opacity=".237"/><stop offset=".8462" stop-color="#ee0000" stop-opacity=".039"/><stop offset="1" stop-color="#ee0000" stop-opacity=".001"/></linearGradient>
<linearGradient id="aL8" gradientUnits="userSpaceOnUse" x1="542.86" x2="548.54"><stop offset="0" stop-color="#bb0000" stop-opacity=".001"/><stop offset=".1538" stop-color="#bb0000" stop-opacity=".039"/><stop offset=".2692" stop-color="#bb0000" stop-opacity=".237"/><stop offset=".3654" stop-color="#bb0000" stop-opacity=".613"/><stop offset=".4423" stop-color="#bb0000" stop-opacity=".914"/><stop offset=".5" stop-color="#bb0000" stop-opacity="1"/><stop offset=".5577" stop-color="#bb0000" stop-opacity=".914"/><stop offset=".6346" stop-color="#bb0000" stop-opacity=".613"/><stop offset=".7308" stop-color="#bb0000" stop-opacity=".237"/><stop offset=".8462" stop-color="#bb0000" stop-opacity=".039"/><stop offset="1" stop-color="#bb0000" stop-opacity=".001"/></linearGradient>
<linearGradient id="aL9" gradientUnits="userSpaceOnUse" x1="743.63" x2="770.67"><stop offset="0" stop-color="#b20000" stop-opacity=".001"/><stop offset=".1538" stop-color="#b20000" stop-opacity=".039"/><stop offset=".2692" stop-color="#b20000" stop-opacity=".237"/><stop offset=".3654" stop-color="#b20000" stop-opacity=".613"/><stop offset=".4423" stop-color="#b20000" stop-opacity=".914"/><stop offset=".5" stop-color="#b20000" stop-opacity="1"/><stop offset=".5577" stop-color="#b20000" stop-opacity=".914"/><stop offset=".6346" stop-color="#b20000" stop-opacity=".613"/><stop offset=".7308" stop-color="#b20000" stop-opacity=".237"/><stop offset=".8462" stop-color="#b20000" stop-opacity=".039"/><stop offset="1" stop-color="#b20000" stop-opacity=".001"/></linearGradient>
<linearGradient id="aL10" gradientUnits="userSpaceOnUse" x1="753.10" x2="761.21"><stop offset="0" stop-color="#e10000" stop-opacity=".001"/><stop offset=".1538" stop-color="#e10000" stop-opacity=".039"/><stop offset=".2692" stop-color="#e10000" stop-opacity=".237"/><stop offset=".3654" stop-color="#e10000" stop-opacity=".613"/><stop offset=".4423" stop-color="#e10000" stop-opacity=".914"/><stop offset=".5" stop-color="#e10000" stop-opacity="1"/><stop offset=".5577" stop-color="#e10000" stop-opacity=".914"/><stop offset=".6346" stop-color="#e10000" stop-opacity=".613"/><stop offset=".7308" stop-color="#e10000" stop-opacity=".237"/><stop offset=".8462" stop-color="#e10000" stop-opacity=".039"/><stop offset="1" stop-color="#e10000" stop-opacity=".001"/></linearGradient>
<linearGradient id="aL11" gradientUnits="userSpaceOnUse" x1="796.90" x2="832.95"><stop offset="0" stop-color="#bb0000" stop-opacity=".001"/><stop offset=".1538" stop-color="#bb0000" stop-opacity=".039"/><stop offset=".2692" stop-color="#bb0000" stop-opacity=".237"/><stop offset=".3654" stop-color="#bb0000" stop-opacity=".613"/><stop offset=".4423" stop-color="#bb0000" stop-opacity=".914"/><stop offset=".5" stop-color="#bb0000" stop-opacity="1"/><stop offset=".5577" stop-color="#bb0000" stop-opacity=".914"/><stop offset=".6346" stop-color="#bb0000" stop-opacity=".613"/><stop offset=".7308" stop-color="#bb0000" stop-opacity=".237"/><stop offset=".8462" stop-color="#bb0000" stop-opacity=".039"/><stop offset="1" stop-color="#bb0000" stop-opacity=".001"/></linearGradient>
<linearGradient id="aL12" gradientUnits="userSpaceOnUse" x1="809.25" x2="820.60"><stop offset="0" stop-color="#e80000" stop-opacity=".001"/><stop offset=".1538" stop-color="#e80000" stop-opacity=".039"/><stop offset=".2692" stop-color="#e80000" stop-opacity=".237"/><stop offset=".3654" stop-color="#e80000" stop-opacity=".613"/><stop offset=".4423" stop-color="#e80000" stop-opacity=".914"/><stop offset=".5" stop-color="#e80000" stop-opacity="1"/><stop offset=".5577" stop-color="#e80000" stop-opacity=".914"/><stop offset=".6346" stop-color="#e80000" stop-opacity=".613"/><stop offset=".7308" stop-color="#e80000" stop-opacity=".237"/><stop offset=".8462" stop-color="#e80000" stop-opacity=".039"/><stop offset="1" stop-color="#e80000" stop-opacity=".001"/></linearGradient>
<linearGradient id="aL13" gradientUnits="userSpaceOnUse" x1="827.05" x2="835.16"><stop offset="0" stop-color="#a90000" stop-opacity=".001"/><stop offset=".1538" stop-color="#a90000" stop-opacity=".039"/><stop offset=".2692" stop-color="#a90000" stop-opacity=".237"/><stop offset=".3654" stop-color="#a90000" stop-opacity=".613"/><stop offset=".4423" stop-color="#a90000" stop-opacity=".914"/><stop offset=".5" stop-color="#a90000" stop-opacity="1"/><stop offset=".5577" stop-color="#a90000" stop-opacity=".914"/><stop offset=".6346" stop-color="#a90000" stop-opacity=".613"/><stop offset=".7308" stop-color="#a90000" stop-opacity=".237"/><stop offset=".8462" stop-color="#a90000" stop-opacity=".039"/><stop offset="1" stop-color="#a90000" stop-opacity=".001"/></linearGradient>
<filter id="Fa" filterUnits="userSpaceOnUse" x="133" y="70" width="867" height="762" color-interpolation-filters="sRGB"><feTurbulence type="fractalNoise" baseFrequency="0.3 0.0003" numOctaves="3" seed="1" x="133" y="70" width="867" height="29" result="f0"/><feTurbulence type="fractalNoise" baseFrequency="0.045 0.0003" numOctaves="2" seed="101" x="133" y="70" width="867" height="29" result="c0"/><feTurbulence type="fractalNoise" baseFrequency="0.3 0.0003" numOctaves="3" seed="8" x="133" y="99" width="867" height="28" result="f1"/><feTurbulence type="fractalNoise" baseFrequency="0.045 0.0003" numOctaves="2" seed="108" x="133" y="99" width="867" height="28" result="c1"/><feTurbulence type="fractalNoise" baseFrequency="0.3 0.0003" numOctaves="3" seed="15" x="133" y="127" width="867" height="28" result="f2"/><feTurbulence type="fractalNoise" baseFrequency="0.045 0.0003" numOctaves="2" seed="115" x="133" y="127" width="867" height="28" result="c2"/><feTurbulence type="fractalNoise" baseFrequency="0.3 0.0003" numOctaves="3" seed="22" x="133" y="155" width="867" height="28" result="f3"/><feTurbulence type="fractalNoise" baseFrequency="0.045 0.0003" numOctaves="2" seed="122" x="133" y="155" width="867" height="28" result="c3"/><feTurbulence type="fractalNoise" baseFrequency="0.3 0.0003" numOctaves="3" seed="29" x="133" y="183" width="867" height="28" result="f4"/><feTurbulence type="fractalNoise" baseFrequency="0.045 0.0003" numOctaves="2" seed="129" x="133" y="183" width="867" height="28" result="c4"/><feTurbulence type="fractalNoise" baseFrequency="0.3 0.0003" numOctaves="3" seed="36" x="133" y="211" width="867" height="29" result="f5"/><feTurbulence type="fractalNoise" baseFrequency="0.045 0.0003" numOctaves="2" seed="136" x="133" y="211" width="867" height="29" result="c5"/><feTurbulence type="fractalNoise" baseFrequency="0.3 0.0003" numOctaves="3" seed="43" x="133" y="240" width="867" height="28" result="f6"/><feTurbulence type="fractalNoise" baseFrequency="0.045 0.0003" numOctaves="2" seed="143" x="133" y="240" width="867" height="28" result="c6"/><feTurbulence type="fractalNoise" baseFrequency="0.3 0.0003" numOctaves="3" seed="50" x="133" y="268" width="867" height="28" result="f7"/><feTurbulence type="fractalNoise" baseFrequency="0.045 0.0003" numOctaves="2" seed="150" x="133" y="268" width="867" height="28" result="c7"/><feTurbulence type="fractalNoise" baseFrequency="0.3 0.0003" numOctaves="3" seed="57" x="133" y="296" width="867" height="28" result="f8"/><feTurbulence type="fractalNoise" baseFrequency="0.045 0.0003" numOctaves="2" seed="157" x="133" y="296" width="867" height="28" result="c8"/><feTurbulence type="fractalNoise" baseFrequency="0.3 0.0003" numOctaves="3" seed="64" x="133" y="324" width="867" height="28" result="f9"/><feTurbulence type="fractalNoise" baseFrequency="0.045 0.0003" numOctaves="2" seed="164" x="133" y="324" width="867" height="28" result="c9"/><feTurbulence type="fractalNoise" baseFrequency="0.3 0.0003" numOctaves="3" seed="71" x="133" y="352" width="867" height="29" result="f10"/><feTurbulence type="fractalNoise" baseFrequency="0.045 0.0003" numOctaves="2" seed="171" x="133" y="352" width="867" height="29" result="c10"/><feTurbulence type="fractalNoise" baseFrequency="0.3 0.0003" numOctaves="3" seed="78" x="133" y="381" width="867" height="28" result="f11"/><feTurbulence type="fractalNoise" baseFrequency="0.045 0.0003" numOctaves="2" seed="178" x="133" y="381" width="867" height="28" result="c11"/><feTurbulence type="fractalNoise" baseFrequency="0.3 0.0003" numOctaves="3" seed="85" x="133" y="409" width="867" height="28" result="f12"/><feTurbulence type="fractalNoise" baseFrequency="0.045 0.0003" numOctaves="2" seed="185" x="133" y="409" width="867" height="28" result="c12"/><feTurbulence type="fractalNoise" baseFrequency="0.3 0.0003" numOctaves="3" seed="92" x="133" y="437" width="867" height="28" result="f13"/><feTurbulence type="fractalNoise" baseFrequency="0.045 0.0003" numOctaves="2" seed="192" x="133" y="437" width="867" height="28" result="c13"/><feTurbulence type="fractalNoise" baseFrequency="0.3 0.0003" numOctaves="3" seed="2" x="133" y="465" width="867" height="28" result="f14"/><feTurbulence type="fractalNoise" baseFrequency="0.045 0.0003" numOctaves="2" seed="102" x="133" y="465" width="867" height="28" result="c14"/><feTurbulence type="fractalNoise" baseFrequency="0.3 0.0003" numOctaves="3" seed="9" x="133" y="493" width="867" height="29" result="f15"/><feTurbulence type="fractalNoise" baseFrequency="0.045 0.0003" numOctaves="2" seed="109" x="133" y="493" width="867" height="29" result="c15"/><feTurbulence type="fractalNoise" baseFrequency="0.3 0.0003" numOctaves="3" seed="16" x="133" y="522" width="867" height="28" result="f16"/><feTurbulence type="fractalNoise" baseFrequency="0.045 0.0003" numOctaves="2" seed="116" x="133" y="522" width="867" height="28" result="c16"/><feTurbulence type="fractalNoise" baseFrequency="0.3 0.0003" numOctaves="3" seed="23" x="133" y="550" width="867" height="28" result="f17"/><feTurbulence type="fractalNoise" baseFrequency="0.045 0.0003" numOctaves="2" seed="123" x="133" y="550" width="867" height="28" result="c17"/><feTurbulence type="fractalNoise" baseFrequency="0.3 0.0003" numOctaves="3" seed="30" x="133" y="578" width="867" height="28" result="f18"/><feTurbulence type="fractalNoise" baseFrequency="0.045 0.0003" numOctaves="2" seed="130" x="133" y="578" width="867" height="28" result="c18"/><feTurbulence type="fractalNoise" baseFrequency="0.3 0.0003" numOctaves="3" seed="37" x="133" y="606" width="867" height="28" result="f19"/><feTurbulence type="fractalNoise" baseFrequency="0.045 0.0003" numOctaves="2" seed="137" x="133" y="606" width="867" height="28" result="c19"/><feTurbulence type="fractalNoise" baseFrequency="0.3 0.0003" numOctaves="3" seed="44" x="133" y="634" width="867" height="29" result="f20"/><feTurbulence type="fractalNoise" baseFrequency="0.045 0.0003" numOctaves="2" seed="144" x="133" y="634" width="867" height="29" result="c20"/><feTurbulence type="fractalNoise" baseFrequency="0.3 0.0003" numOctaves="3" seed="51" x="133" y="663" width="867" height="28" result="f21"/><feTurbulence type="fractalNoise" baseFrequency="0.045 0.0003" numOctaves="2" seed="151" x="133" y="663" width="867" height="28" result="c21"/><feTurbulence type="fractalNoise" baseFrequency="0.3 0.0003" numOctaves="3" seed="58" x="133" y="691" width="867" height="28" result="f22"/><feTurbulence type="fractalNoise" baseFrequency="0.045 0.0003" numOctaves="2" seed="158" x="133" y="691" width="867" height="28" result="c22"/><feTurbulence type="fractalNoise" baseFrequency="0.3 0.0003" numOctaves="3" seed="65" x="133" y="719" width="867" height="28" result="f23"/><feTurbulence type="fractalNoise" baseFrequency="0.045 0.0003" numOctaves="2" seed="165" x="133" y="719" width="867" height="28" result="c23"/><feTurbulence type="fractalNoise" baseFrequency="0.3 0.0003" numOctaves="3" seed="72" x="133" y="747" width="867" height="28" result="f24"/><feTurbulence type="fractalNoise" baseFrequency="0.045 0.0003" numOctaves="2" seed="172" x="133" y="747" width="867" height="28" result="c24"/><feTurbulence type="fractalNoise" baseFrequency="0.3 0.0003" numOctaves="3" seed="79" x="133" y="775" width="867" height="29" result="f25"/><feTurbulence type="fractalNoise" baseFrequency="0.045 0.0003" numOctaves="2" seed="179" x="133" y="775" width="867" height="29" result="c25"/><feTurbulence type="fractalNoise" baseFrequency="0.3 0.0003" numOctaves="3" seed="86" x="133" y="804" width="867" height="28" result="f26"/><feTurbulence type="fractalNoise" baseFrequency="0.045 0.0003" numOctaves="2" seed="186" x="133" y="804" width="867" height="28" result="c26"/><feMerge><feMergeNode in="f0"/><feMergeNode in="f1"/><feMergeNode in="f2"/><feMergeNode in="f3"/><feMergeNode in="f4"/><feMergeNode in="f5"/><feMergeNode in="f6"/><feMergeNode in="f7"/><feMergeNode in="f8"/><feMergeNode in="f9"/><feMergeNode in="f10"/><feMergeNode in="f11"/><feMergeNode in="f12"/><feMergeNode in="f13"/><feMergeNode in="f14"/><feMergeNode in="f15"/><feMergeNode in="f16"/><feMergeNode in="f17"/><feMergeNode in="f18"/><feMergeNode in="f19"/><feMergeNode in="f20"/><feMergeNode in="f21"/><feMergeNode in="f22"/><feMergeNode in="f23"/><feMergeNode in="f24"/><feMergeNode in="f25"/><feMergeNode in="f26"/></feMerge><feColorMatrix type="matrix" values="1 0 0 0 0 1 0 0 0 0 1 0 0 0 0 0 0 0 0 1"/><feComponentTransfer result="F"><feFuncR type="table" tableValues="0 .2 .5 .66 .78"/><feFuncG type="table" tableValues="0 .2 .5 .66 .78"/><feFuncB type="table" tableValues="0 .2 .5 .66 .78"/></feComponentTransfer><feMerge><feMergeNode in="c0"/><feMergeNode in="c1"/><feMergeNode in="c2"/><feMergeNode in="c3"/><feMergeNode in="c4"/><feMergeNode in="c5"/><feMergeNode in="c6"/><feMergeNode in="c7"/><feMergeNode in="c8"/><feMergeNode in="c9"/><feMergeNode in="c10"/><feMergeNode in="c11"/><feMergeNode in="c12"/><feMergeNode in="c13"/><feMergeNode in="c14"/><feMergeNode in="c15"/><feMergeNode in="c16"/><feMergeNode in="c17"/><feMergeNode in="c18"/><feMergeNode in="c19"/><feMergeNode in="c20"/><feMergeNode in="c21"/><feMergeNode in="c22"/><feMergeNode in="c23"/><feMergeNode in="c24"/><feMergeNode in="c25"/><feMergeNode in="c26"/></feMerge><feColorMatrix type="matrix" values="1 0 0 0 0 1 0 0 0 0 1 0 0 0 0 0 0 0 0 1" result="C"/><feTurbulence type="fractalNoise" baseFrequency="0.3 0.0001" numOctaves="2" seed="97"/><feColorMatrix type="matrix" values="1 0 0 0 0 1 0 0 0 0 1 0 0 0 0 0 0 0 0 1"/><feComponentTransfer result="G"><feFuncR type="table" tableValues="0 .2 .5 .66 .78"/><feFuncG type="table" tableValues="0 .2 .5 .66 .78"/><feFuncB type="table" tableValues="0 .2 .5 .66 .78"/></feComponentTransfer><feComposite in="F" in2="C" operator="arithmetic" k1="0" k2="0.43" k3="0.05" k4="0" result="n1"/><feComposite in="n1" in2="G" operator="arithmetic" k1="0" k2="1" k3="0.22" k4="0" result="n"/><feColorMatrix in="SourceGraphic" type="matrix" values="1 0 0 0 0 1 0 0 0 0 1 0 0 0 0 0 0 0 0 1" result="V"/><feColorMatrix in="SourceGraphic" type="matrix" values="0 1 0 0 0 0 1 0 0 0 0 1 0 0 0 0 0 0 0 1" result="M"/><feComposite in="n" in2="M" operator="arithmetic" k1="1" k2="0" k3="0" k4="0" result="nm"/><feComposite in="V" in2="nm" operator="arithmetic" k1="0" k2="1" k3="1" k4="0"/><feComponentTransfer><feFuncR type="table" tableValues=".242 .250 .258 .265 .271 .275 .278 .280 .281 .281 .280 .276 .270 .260 .244 .221 .196 .183 .179 .176 .169 .154 .146 .138 .125 .111 .095 .069 .030 .004 .007 .043 .096 .141 .172 .194 .216 .247 .291 .341 .391 .446 .504 .562 .617 .672 .724 .774 .820 .863 .903 .939 .973 .996 .997 .995 .989 .979 .968 .961 .960 .963 .969 .977"/><feFuncG type="table" tableValues=".150 .165 .182 .198 .215 .234 .256 .278 .301 .323 .345 .367 .389 .412 .436 .460 .485 .507 .529 .550 .570 .590 .609 .628 .646 .663 .680 .695 .708 .720 .731 .741 .750 .758 .767 .776 .784 .792 .797 .801 .803 .802 .799 .794 .788 .779 .770 .760 .750 .741 .733 .729 .730 .743 .766 .789 .814 .839 .864 .889 .913 .937 .961 .984"/><feFuncB type="table" tableValues=".660 .708 .751 .795 .836 .871 .899 .922 .941 .958 .972 .983 .991 .995 .999 .997 .989 .980 .968 .952 .936 .922 .908 .897 .888 .876 .860 .839 .816 .792 .766 .739 .712 .684 .655 .625 .592 .557 .519 .479 .435 .391 .348 .304 .261 .223 .191 .165 .153 .160 .177 .210 .239 .237 .220 .203 .189 .177 .164 .154 .142 .127 .106 .081"/></feComponentTransfer></filter>
<linearGradient id="b0"><stop offset=".0006" stop-color="#31ff00"/><stop offset=".0272" stop-color="#2cff00"/><stop offset=".4219" stop-color="#28ff00"/><stop offset=".423" stop-color="#2aff00"/><stop offset=".4277" stop-color="#45ff00"/><stop offset=".4288" stop-color="#47ff00"/><stop offset=".4416" stop-color="#47ff00"/><stop offset=".4427" stop-color="#47ff00"/><stop offset=".4473" stop-color="#2bff00"/><stop offset=".4485" stop-color="#27ff00"/><stop offset=".5307" stop-color="#24ff00"/><stop offset=".5318" stop-color="#2ef000"/><stop offset=".533" stop-color="#54b800"/><stop offset=".5341" stop-color="#817500"/><stop offset=".5353" stop-color="#9f4b00"/><stop offset=".5365" stop-color="#a24700"/><stop offset=".5376" stop-color="#a24700"/><stop offset=".5666" stop-color="#a14700"/><stop offset=".5735" stop-color="#8d4700"/><stop offset=".6128" stop-color="#8b4700"/><stop offset=".6163" stop-color="#894800"/><stop offset=".6209" stop-color="#914700"/><stop offset=".6221" stop-color="#924700"/><stop offset=".6557" stop-color="#924700"/><stop offset=".6568" stop-color="#8e4700"/><stop offset=".6626" stop-color="#754700"/><stop offset=".6696" stop-color="#924700"/><stop offset=".7008" stop-color="#924700"/><stop offset=".702" stop-color="#8d4d00"/><stop offset=".7031" stop-color="#845b00"/><stop offset=".7078" stop-color="#4fbc00"/><stop offset=".7089" stop-color="#45d400"/><stop offset=".7101" stop-color="#3de900"/><stop offset=".7112" stop-color="#38f800"/><stop offset=".7124" stop-color="#38ff00"/><stop offset=".7135" stop-color="#3aff00"/><stop offset=".7228" stop-color="#42ff00"/><stop offset=".7726" stop-color="#44ff00"/><stop offset=".7737" stop-color="#43ff00"/><stop offset=".7841" stop-color="#2dff00"/><stop offset=".8003" stop-color="#27ff00"/><stop offset=".827" stop-color="#1fff00"/><stop offset=".9994" stop-color="#1dff00"/></linearGradient>
<linearGradient id="b1"><stop offset=".0006" stop-color="#30ff00"/><stop offset=".0272" stop-color="#2bff00"/><stop offset=".5064" stop-color="#25ff00"/><stop offset=".6071" stop-color="#1eff00"/><stop offset=".6082" stop-color="#1ffc00"/><stop offset=".6094" stop-color="#25f100"/><stop offset=".6105" stop-color="#2fdf00"/><stop offset=".6117" stop-color="#3bc800"/><stop offset=".6163" stop-color="#786400"/><stop offset=".6175" stop-color="#845300"/><stop offset=".6186" stop-color="#8c4900"/><stop offset=".6198" stop-color="#8f4700"/><stop offset=".6209" stop-color="#914700"/><stop offset=".6557" stop-color="#924700"/><stop offset=".6568" stop-color="#8e4700"/><stop offset=".6626" stop-color="#754700"/><stop offset=".6696" stop-color="#924700"/><stop offset=".6997" stop-color="#924700"/><stop offset=".7008" stop-color="#924700"/><stop offset=".7031" stop-color="#895000"/><stop offset=".7043" stop-color="#875300"/><stop offset=".7054" stop-color="#885100"/><stop offset=".7078" stop-color="#8e4800"/><stop offset=".7251" stop-color="#8c4700"/><stop offset=".7321" stop-color="#814700"/><stop offset=".7355" stop-color="#804800"/><stop offset=".7367" stop-color="#7c4e00"/><stop offset=".7378" stop-color="#755c00"/><stop offset=".739" stop-color="#6c7000"/><stop offset=".7436" stop-color="#3ed500"/><stop offset=".7448" stop-color="#35ea00"/><stop offset=".7459" stop-color="#2ef800"/><stop offset=".7471" stop-color="#2bff00"/><stop offset=".7841" stop-color="#2cff00"/><stop offset=".8003" stop-color="#26ff00"/><stop offset=".827" stop-color="#1fff00"/><stop offset=".9994" stop-color="#1cff00"/></linearGradient>
<linearGradient id="b2"><stop offset=".0006" stop-color="#45ff00"/><stop offset=".0341" stop-color="#41ff00"/><stop offset=".0457" stop-color="#4bff00"/><stop offset=".0608" stop-color="#4aff00"/><stop offset=".0723" stop-color="#3fff00"/><stop offset=".1071" stop-color="#3bff00"/><stop offset=".5064" stop-color="#30ff00"/><stop offset=".6128" stop-color="#24ff00"/><stop offset=".6973" stop-color="#23ff00"/><stop offset=".6985" stop-color="#26f900"/><stop offset=".6997" stop-color="#2eea00"/><stop offset=".7008" stop-color="#3ad300"/><stop offset=".7043" stop-color="#678000"/><stop offset=".7054" stop-color="#746800"/><stop offset=".7066" stop-color="#7d5700"/><stop offset=".7078" stop-color="#814f00"/><stop offset=".7089" stop-color="#824f00"/><stop offset=".7228" stop-color="#834f00"/><stop offset=".7251" stop-color="#834f00"/><stop offset=".7321" stop-color="#7a4f00"/><stop offset=".7355" stop-color="#794f00"/><stop offset=".7367" stop-color="#765500"/><stop offset=".7378" stop-color="#706300"/><stop offset=".739" stop-color="#687600"/><stop offset=".7425" stop-color="#4ac000"/><stop offset=".7448" stop-color="#39eb00"/><stop offset=".7459" stop-color="#34f900"/><stop offset=".7471" stop-color="#32ff00"/><stop offset=".7841" stop-color="#33ff00"/><stop offset=".8003" stop-color="#2cff00"/><stop offset=".827" stop-color="#25ff00"/><stop offset=".9994" stop-color="#23ff00"/></linearGradient>
<linearGradient id="b3"><stop offset=".0006" stop-color="#45ff00"/><stop offset=".0341" stop-color="#41ff00"/><stop offset=".0457" stop-color="#4bff00"/><stop offset=".0608" stop-color="#4aff00"/><stop offset=".0723" stop-color="#3fff00"/><stop offset=".1071" stop-color="#3bff00"/><stop offset=".5064" stop-color="#30ff00"/><stop offset=".614" stop-color="#24ff00"/><stop offset=".7066" stop-color="#23ff00"/><stop offset=".7228" stop-color="#31ff00"/><stop offset=".783" stop-color="#33ff00"/><stop offset=".827" stop-color="#25ff00"/><stop offset=".9994" stop-color="#23ff00"/></linearGradient>
<linearGradient id="b4"><stop offset=".0006" stop-color="#3dff00"/><stop offset=".0341" stop-color="#39ff00"/><stop offset=".0457" stop-color="#3dff00"/><stop offset=".0608" stop-color="#3dff00"/><stop offset=".0723" stop-color="#38ff00"/><stop offset=".1071" stop-color="#36ff00"/><stop offset=".5064" stop-color="#2dff00"/><stop offset=".614" stop-color="#23ff00"/><stop offset=".7066" stop-color="#22ff00"/><stop offset=".7228" stop-color="#2fff00"/><stop offset=".7841" stop-color="#31ff00"/><stop offset=".8003" stop-color="#2bff00"/><stop offset=".827" stop-color="#24ff00"/><stop offset=".9994" stop-color="#22ff00"/></linearGradient>
<linearGradient id="b5"><stop offset=".0006" stop-color="#35ff00"/><stop offset=".0272" stop-color="#31ff00"/><stop offset=".5064" stop-color="#2aff00"/><stop offset=".6128" stop-color="#21ff00"/><stop offset=".7066" stop-color="#20ff00"/><stop offset=".7228" stop-color="#2dff00"/><stop offset=".7841" stop-color="#30ff00"/><stop offset=".8003" stop-color="#29ff00"/><stop offset=".827" stop-color="#22ff00"/><stop offset=".9994" stop-color="#20ff00"/></linearGradient>
<linearGradient id="b6"><stop offset=".0006" stop-color="#34ff00"/><stop offset=".0272" stop-color="#30ff00"/><stop offset=".5064" stop-color="#29ff00"/><stop offset=".6128" stop-color="#20ff00"/><stop offset=".7066" stop-color="#1fff00"/><stop offset=".7228" stop-color="#2dff00"/><stop offset=".7841" stop-color="#2fff00"/><stop offset=".8003" stop-color="#28ff00"/><stop offset=".827" stop-color="#21ff00"/><stop offset=".9994" stop-color="#1fff00"/></linearGradient>
<linearGradient id="b7"><stop offset=".0006" stop-color="#25ff00"/><stop offset=".0168" stop-color="#22ff00"/><stop offset=".0249" stop-color="#2dff00"/><stop offset=".3999" stop-color="#28ff00"/><stop offset=".5064" stop-color="#26ff00"/><stop offset=".5307" stop-color="#24ff00"/><stop offset=".5318" stop-color="#2ef000"/><stop offset=".533" stop-color="#54b800"/><stop offset=".5341" stop-color="#817500"/><stop offset=".5353" stop-color="#9f4b00"/><stop offset=".5365" stop-color="#a24700"/><stop offset=".5376" stop-color="#a24700"/><stop offset=".5666" stop-color="#a14700"/><stop offset=".5735" stop-color="#8d4700"/><stop offset=".6128" stop-color="#8b4700"/><stop offset=".6152" stop-color="#894700"/><stop offset=".6163" stop-color="#864a00"/><stop offset=".6175" stop-color="#805200"/><stop offset=".6186" stop-color="#785f00"/><stop offset=".6198" stop-color="#6d7000"/><stop offset=".6244" stop-color="#3dc400"/><stop offset=".6267" stop-color="#2ae800"/><stop offset=".6279" stop-color="#23f500"/><stop offset=".6291" stop-color="#1ffd00"/><stop offset=".6302" stop-color="#1eff00"/><stop offset=".7066" stop-color="#1dff00"/><stop offset=".7228" stop-color="#2bff00"/><stop offset=".783" stop-color="#2dff00"/><stop offset=".827" stop-color="#1fff00"/><stop offset=".9994" stop-color="#1dff00"/></linearGradient>
<linearGradient id="b8"><stop offset=".0006" stop-color="#34ff00"/><stop offset=".0272" stop-color="#30ff00"/><stop offset=".3999" stop-color="#2bff00"/><stop offset=".5064" stop-color="#29ff00"/><stop offset=".5307" stop-color="#27ff00"/><stop offset=".5318" stop-color="#31f000"/><stop offset=".533" stop-color="#56b800"/><stop offset=".5341" stop-color="#827500"/><stop offset=".5353" stop-color="#9f4b00"/><stop offset=".5365" stop-color="#a24700"/><stop offset=".5376" stop-color="#a24700"/><stop offset=".5666" stop-color="#a14700"/><stop offset=".5735" stop-color="#8d4700"/><stop offset=".6128" stop-color="#8b4700"/><stop offset=".6163" stop-color="#894800"/><stop offset=".6209" stop-color="#914700"/><stop offset=".6221" stop-color="#924700"/><stop offset=".6557" stop-color="#924700"/><stop offset=".6568" stop-color="#8e4700"/><stop offset=".6626" stop-color="#754700"/><stop offset=".6696" stop-color="#924700"/><stop offset=".7008" stop-color="#924700"/><stop offset=".702" stop-color="#8d4d00"/><stop offset=".7031" stop-color="#845b00"/><stop offset=".7043" stop-color="#776f00"/><stop offset=".7078" stop-color="#48bc00"/><stop offset=".7089" stop-color="#3ad400"/><stop offset=".7101" stop-color="#2fe900"/><stop offset=".7112" stop-color="#27f800"/><stop offset=".7124" stop-color="#24ff00"/><stop offset=".7228" stop-color="#2dff00"/><stop offset=".783" stop-color="#2fff00"/><stop offset=".827" stop-color="#21ff00"/><stop offset=".9994" stop-color="#1fff00"/></linearGradient>
<linearGradient id="b9"><stop offset=".0006" stop-color="#35ff00"/><stop offset=".0272" stop-color="#31ff00"/><stop offset=".5064" stop-color="#2aff00"/><stop offset=".6071" stop-color="#21ff00"/><stop offset=".6082" stop-color="#23fc00"/><stop offset=".6094" stop-color="#28f100"/><stop offset=".6105" stop-color="#31df00"/><stop offset=".6117" stop-color="#3ec800"/><stop offset=".6163" stop-color="#796400"/><stop offset=".6175" stop-color="#845300"/><stop offset=".6186" stop-color="#8c4900"/><stop offset=".6198" stop-color="#8f4700"/><stop offset=".6209" stop-color="#914700"/><stop offset=".6557" stop-color="#924700"/><stop offset=".6568" stop-color="#8e4700"/><stop offset=".6626" stop-color="#754700"/><stop offset=".6696" stop-color="#924700"/><stop offset=".6997" stop-color="#924700"/><stop offset=".7008" stop-color="#924700"/><stop offset=".7031" stop-color="#8a5000"/><stop offset=".7043" stop-color="#885300"/><stop offset=".7078" stop-color="#8e4800"/><stop offset=".7251" stop-color="#8c4700"/><stop offset=".7321" stop-color="#814700"/><stop offset=".7355" stop-color="#804800"/><stop offset=".7367" stop-color="#7d4e00"/><stop offset=".7378" stop-color="#765c00"/><stop offset=".739" stop-color="#6d7000"/><stop offset=".7436" stop-color="#40d500"/><stop offset=".7448" stop-color="#37ea00"/><stop offset=".7459" stop-color="#31f800"/><stop offset=".7471" stop-color="#2eff00"/><stop offset=".7841" stop-color="#30ff00"/><stop offset=".8003" stop-color="#29ff00"/><stop offset=".827" stop-color="#22ff00"/><stop offset=".9994" stop-color="#20ff00"/></linearGradient>
<linearGradient id="b10"><stop offset=".0006" stop-color="#34ff00"/><stop offset=".0272" stop-color="#30ff00"/><stop offset=".5064" stop-color="#29ff00"/><stop offset=".6128" stop-color="#20ff00"/><stop offset=".6973" stop-color="#1fff00"/><stop offset=".6985" stop-color="#22f900"/><stop offset=".6997" stop-color="#2bea00"/><stop offset=".7008" stop-color="#37d300"/><stop offset=".7043" stop-color="#658000"/><stop offset=".7054" stop-color="#726800"/><stop offset=".7066" stop-color="#7c5700"/><stop offset=".7078" stop-color="#814f00"/><stop offset=".7089" stop-color="#814f00"/><stop offset=".7228" stop-color="#824f00"/><stop offset=".7251" stop-color="#824f00"/><stop offset=".7321" stop-color="#794f00"/><stop offset=".7355" stop-color="#784f00"/><stop offset=".7367" stop-color="#755500"/><stop offset=".7378" stop-color="#6f6300"/><stop offset=".739" stop-color="#677600"/><stop offset=".7425" stop-color="#48c000"/><stop offset=".7448" stop-color="#36eb00"/><stop offset=".7459" stop-color="#30f900"/><stop offset=".7471" stop-color="#2eff00"/><stop offset=".7841" stop-color="#2fff00"/><stop offset=".8003" stop-color="#28ff00"/><stop offset=".827" stop-color="#21ff00"/><stop offset=".9994" stop-color="#1fff00"/></linearGradient>
<linearGradient id="b11"><stop offset=".0006" stop-color="#36ff00"/><stop offset=".0272" stop-color="#32ff00"/><stop offset=".5064" stop-color="#2bff00"/><stop offset=".6128" stop-color="#21ff00"/><stop offset=".7066" stop-color="#20ff00"/><stop offset=".7228" stop-color="#2eff00"/><stop offset=".7841" stop-color="#30ff00"/><stop offset=".8003" stop-color="#2aff00"/><stop offset=".827" stop-color="#22ff00"/><stop offset=".9994" stop-color="#20ff00"/></linearGradient>
<linearGradient id="b12"><stop offset=".0006" stop-color="#36ff00"/><stop offset=".0272" stop-color="#32ff00"/><stop offset=".5064" stop-color="#2bff00"/><stop offset=".6128" stop-color="#21ff00"/><stop offset=".7066" stop-color="#20ff00"/><stop offset=".7228" stop-color="#2eff00"/><stop offset=".7841" stop-color="#30ff00"/><stop offset=".8003" stop-color="#2aff00"/><stop offset=".827" stop-color="#22ff00"/><stop offset=".9994" stop-color="#20ff00"/></linearGradient>
<linearGradient id="b13"><stop offset=".0006" stop-color="#37ff00"/><stop offset=".0272" stop-color="#33ff00"/><stop offset=".5064" stop-color="#2cff00"/><stop offset=".6128" stop-color="#22ff00"/><stop offset=".7066" stop-color="#21ff00"/><stop offset=".7228" stop-color="#2fff00"/><stop offset=".7841" stop-color="#31ff00"/><stop offset=".8003" stop-color="#2aff00"/><stop offset=".827" stop-color="#23ff00"/><stop offset=".9994" stop-color="#21ff00"/></linearGradient>
<linearGradient id="b14"><stop offset=".0006" stop-color="#35ff00"/><stop offset=".0272" stop-color="#31ff00"/><stop offset=".5064" stop-color="#2aff00"/><stop offset=".6128" stop-color="#21ff00"/><stop offset=".7066" stop-color="#20ff00"/><stop offset=".7228" stop-color="#2dff00"/><stop offset=".7841" stop-color="#30ff00"/><stop offset=".8003" stop-color="#29ff00"/><stop offset=".827" stop-color="#22ff00"/><stop offset=".9994" stop-color="#20ff00"/></linearGradient>
<linearGradient id="b15"><stop offset=".0006" stop-color="#32ff00"/><stop offset=".0272" stop-color="#2dff00"/><stop offset=".3999" stop-color="#29ff00"/><stop offset=".5064" stop-color="#27ff00"/><stop offset=".5307" stop-color="#25ff00"/><stop offset=".5318" stop-color="#2ff000"/><stop offset=".533" stop-color="#55b800"/><stop offset=".5341" stop-color="#827500"/><stop offset=".5353" stop-color="#9f4b00"/><stop offset=".5365" stop-color="#a24700"/><stop offset=".5376" stop-color="#a24700"/><stop offset=".5666" stop-color="#a14700"/><stop offset=".5735" stop-color="#8d4700"/><stop offset=".6128" stop-color="#8b4700"/><stop offset=".6152" stop-color="#894700"/><stop offset=".6163" stop-color="#864a00"/><stop offset=".6175" stop-color="#805200"/><stop offset=".6186" stop-color="#785f00"/><stop offset=".6198" stop-color="#6d7000"/><stop offset=".6244" stop-color="#3ec400"/><stop offset=".6267" stop-color="#2be800"/><stop offset=".6279" stop-color="#24f500"/><stop offset=".6291" stop-color="#20fd00"/><stop offset=".6302" stop-color="#1fff00"/><stop offset=".7066" stop-color="#1eff00"/><stop offset=".7228" stop-color="#2cff00"/><stop offset=".783" stop-color="#2eff00"/><stop offset=".827" stop-color="#20ff00"/><stop offset=".9994" stop-color="#1eff00"/></linearGradient>
<linearGradient id="b16"><stop offset=".0006" stop-color="#32ff00"/><stop offset=".0272" stop-color="#2dff00"/><stop offset=".3999" stop-color="#29ff00"/><stop offset=".5064" stop-color="#27ff00"/><stop offset=".5307" stop-color="#25ff00"/><stop offset=".5318" stop-color="#2ff000"/><stop offset=".533" stop-color="#55b800"/><stop offset=".5341" stop-color="#827500"/><stop offset=".5353" stop-color="#9f4b00"/><stop offset=".5365" stop-color="#a24700"/><stop offset=".5376" stop-color="#a24700"/><stop offset=".5666" stop-color="#a14700"/><stop offset=".5735" stop-color="#8d4700"/><stop offset=".6128" stop-color="#8b4700"/><stop offset=".6163" stop-color="#894800"/><stop offset=".6209" stop-color="#914700"/><stop offset=".6221" stop-color="#924700"/><stop offset=".6557" stop-color="#924700"/><stop offset=".6568" stop-color="#8e4700"/><stop offset=".6626" stop-color="#754700"/><stop offset=".6696" stop-color="#924700"/><stop offset=".7008" stop-color="#924700"/><stop offset=".702" stop-color="#8d4d00"/><stop offset=".7031" stop-color="#845b00"/><stop offset=".7043" stop-color="#776f00"/><stop offset=".7078" stop-color="#47bc00"/><stop offset=".7089" stop-color="#39d400"/><stop offset=".7101" stop-color="#2ee900"/><stop offset=".7112" stop-color="#26f800"/><stop offset=".7124" stop-color="#23ff00"/><stop offset=".7228" stop-color="#2cff00"/><stop offset=".783" stop-color="#2eff00"/><stop offset=".827" stop-color="#20ff00"/><stop offset=".9994" stop-color="#1eff00"/></linearGradient>
<linearGradient id="b17"><stop offset=".0006" stop-color="#31ff00"/><stop offset=".0272" stop-color="#2cff00"/><stop offset=".5064" stop-color="#26ff00"/><stop offset=".6071" stop-color="#1fff00"/><stop offset=".6082" stop-color="#20fc00"/><stop offset=".6094" stop-color="#26f100"/><stop offset=".6105" stop-color="#2fdf00"/><stop offset=".6117" stop-color="#3cc800"/><stop offset=".6163" stop-color="#786400"/><stop offset=".6175" stop-color="#845300"/><stop offset=".6186" stop-color="#8c4900"/><stop offset=".6198" stop-color="#8f4700"/><stop offset=".6209" stop-color="#914700"/><stop offset=".6557" stop-color="#924700"/><stop offset=".6568" stop-color="#8e4700"/><stop offset=".6626" stop-color="#754700"/><stop offset=".6696" stop-color="#924700"/><stop offset=".6997" stop-color="#924700"/><stop offset=".7008" stop-color="#924700"/><stop offset=".7031" stop-color="#895000"/><stop offset=".7043" stop-color="#875300"/><stop offset=".7054" stop-color="#885100"/><stop offset=".7078" stop-color="#8e4800"/><stop offset=".7251" stop-color="#8c4700"/><stop offset=".7321" stop-color="#814700"/><stop offset=".7355" stop-color="#804800"/><stop offset=".7367" stop-color="#7c4e00"/><stop offset=".7378" stop-color="#765c00"/><stop offset=".739" stop-color="#6c7000"/><stop offset=".7436" stop-color="#3ed500"/><stop offset=".7448" stop-color="#35ea00"/><stop offset=".7459" stop-color="#2ff800"/><stop offset=".7471" stop-color="#2cff00"/><stop offset=".7841" stop-color="#2dff00"/><stop offset=".8003" stop-color="#27ff00"/><stop offset=".827" stop-color="#1fff00"/><stop offset=".9994" stop-color="#1dff00"/></linearGradient>
<linearGradient id="b18"><stop offset=".0006" stop-color="#2eff00"/><stop offset=".0272" stop-color="#2aff00"/><stop offset=".5064" stop-color="#24ff00"/><stop offset=".6128" stop-color="#1dff00"/><stop offset=".6973" stop-color="#1cff00"/><stop offset=".6985" stop-color="#1ff900"/><stop offset=".6997" stop-color="#28ea00"/><stop offset=".7008" stop-color="#35d300"/><stop offset=".7043" stop-color="#648000"/><stop offset=".7054" stop-color="#716800"/><stop offset=".7066" stop-color="#7b5700"/><stop offset=".7078" stop-color="#804f00"/><stop offset=".7089" stop-color="#804f00"/><stop offset=".7228" stop-color="#814f00"/><stop offset=".7251" stop-color="#814f00"/><stop offset=".7321" stop-color="#794f00"/><stop offset=".7355" stop-color="#784f00"/><stop offset=".7367" stop-color="#755500"/><stop offset=".7378" stop-color="#6e6300"/><stop offset=".739" stop-color="#667600"/><stop offset=".7425" stop-color="#45c000"/><stop offset=".7448" stop-color="#33eb00"/><stop offset=".7459" stop-color="#2df900"/><stop offset=".7471" stop-color="#2bff00"/><stop offset=".7841" stop-color="#2cff00"/><stop offset=".8003" stop-color="#25ff00"/><stop offset=".827" stop-color="#1eff00"/><stop offset=".9994" stop-color="#1cff00"/></linearGradient>
<linearGradient id="b19"><stop offset=".0006" stop-color="#26ff00"/><stop offset=".0168" stop-color="#23ff00"/><stop offset=".0249" stop-color="#2aff00"/><stop offset=".3999" stop-color="#25ff00"/><stop offset=".5064" stop-color="#23ff00"/><stop offset=".6128" stop-color="#1cff00"/><stop offset=".7066" stop-color="#1bff00"/><stop offset=".7228" stop-color="#29ff00"/><stop offset=".783" stop-color="#2bff00"/><stop offset=".827" stop-color="#1dff00"/><stop offset=".9994" stop-color="#1bff00"/></linearGradient>
<linearGradient id="b20"><stop offset=".0006" stop-color="#38ff00"/><stop offset=".0272" stop-color="#34ff00"/><stop offset=".3339" stop-color="#2eff00"/><stop offset=".5064" stop-color="#28ff00"/><stop offset=".614" stop-color="#1fff00"/><stop offset=".7066" stop-color="#1eff00"/><stop offset=".7228" stop-color="#2cff00"/><stop offset=".7841" stop-color="#2eff00"/><stop offset=".8003" stop-color="#28ff00"/><stop offset=".827" stop-color="#21ff00"/><stop offset=".9994" stop-color="#1eff00"/></linearGradient>
<linearGradient id="b21"><stop offset=".0006" stop-color="#3dff00"/><stop offset=".0272" stop-color="#39ff00"/><stop offset=".3339" stop-color="#33ff00"/><stop offset=".5064" stop-color="#2dff00"/><stop offset=".614" stop-color="#23ff00"/><stop offset=".7066" stop-color="#22ff00"/><stop offset=".7228" stop-color="#2fff00"/><stop offset=".7841" stop-color="#31ff00"/><stop offset=".8003" stop-color="#2bff00"/><stop offset=".827" stop-color="#24ff00"/><stop offset=".9994" stop-color="#22ff00"/></linearGradient>
<linearGradient id="b22"><stop offset=".0006" stop-color="#3dff00"/><stop offset=".0272" stop-color="#39ff00"/><stop offset=".1302" stop-color="#38ff00"/><stop offset=".1418" stop-color="#3eff00"/><stop offset=".158" stop-color="#3eff00"/><stop offset=".1696" stop-color="#37ff00"/><stop offset=".5064" stop-color="#2dff00"/><stop offset=".614" stop-color="#23ff00"/><stop offset=".7066" stop-color="#22ff00"/><stop offset=".7228" stop-color="#2fff00"/><stop offset=".7841" stop-color="#31ff00"/><stop offset=".8003" stop-color="#2bff00"/><stop offset=".827" stop-color="#24ff00"/><stop offset=".9994" stop-color="#22ff00"/></linearGradient>
<linearGradient id="b23"><stop offset=".0006" stop-color="#3dff00"/><stop offset=".0272" stop-color="#39ff00"/><stop offset=".1302" stop-color="#38ff00"/><stop offset=".1418" stop-color="#42ff00"/><stop offset=".158" stop-color="#42ff00"/><stop offset=".1696" stop-color="#37ff00"/><stop offset=".3999" stop-color="#32ff00"/><stop offset=".5064" stop-color="#2dff00"/><stop offset=".5307" stop-color="#2bff00"/><stop offset=".5318" stop-color="#34f000"/><stop offset=".533" stop-color="#58b800"/><stop offset=".5341" stop-color="#837500"/><stop offset=".5353" stop-color="#9f4b00"/><stop offset=".5365" stop-color="#a24700"/><stop offset=".5376" stop-color="#a24700"/><stop offset=".5666" stop-color="#a14700"/><stop offset=".5735" stop-color="#8d4700"/><stop offset=".6128" stop-color="#8b4700"/><stop offset=".6152" stop-color="#894700"/><stop offset=".6163" stop-color="#864a00"/><stop offset=".6175" stop-color="#805200"/><stop offset=".6186" stop-color="#785f00"/><stop offset=".6244" stop-color="#40c400"/><stop offset=".6267" stop-color="#2ee800"/><stop offset=".6279" stop-color="#27f500"/><stop offset=".6291" stop-color="#24fd00"/><stop offset=".6302" stop-color="#22ff00"/><stop offset=".7066" stop-color="#22ff00"/><stop offset=".7228" stop-color="#2fff00"/><stop offset=".783" stop-color="#31ff00"/><stop offset=".827" stop-color="#24ff00"/><stop offset=".9994" stop-color="#22ff00"/></linearGradient>
<linearGradient id="b24"><stop offset=".0006" stop-color="#3cff00"/><stop offset=".0272" stop-color="#38ff00"/><stop offset=".1302" stop-color="#37ff00"/><stop offset=".1418" stop-color="#44ff00"/><stop offset=".158" stop-color="#43ff00"/><stop offset=".1696" stop-color="#36ff00"/><stop offset=".3999" stop-color="#31ff00"/><stop offset=".5064" stop-color="#2cff00"/><stop offset=".5307" stop-color="#2aff00"/><stop offset=".5318" stop-color="#34f000"/><stop offset=".533" stop-color="#58b800"/><stop offset=".5341" stop-color="#837500"/><stop offset=".5353" stop-color="#9f4b00"/><stop offset=".5365" stop-color="#a24700"/><stop offset=".5376" stop-color="#a24700"/><stop offset=".5666" stop-color="#a14700"/><stop offset=".5735" stop-color="#8d4700"/><stop offset=".6128" stop-color="#8b4700"/><stop offset=".6163" stop-color="#894800"/><stop offset=".6209" stop-color="#914700"/><stop offset=".6221" stop-color="#924700"/><stop offset=".6557" stop-color="#924700"/><stop offset=".6568" stop-color="#8e4700"/><stop offset=".6626" stop-color="#754700"/><stop offset=".6696" stop-color="#924700"/><stop offset=".7008" stop-color="#924700"/><stop offset=".702" stop-color="#8d4d00"/><stop offset=".7031" stop-color="#845b00"/><stop offset=".7043" stop-color="#776f00"/><stop offset=".7078" stop-color="#49bc00"/><stop offset=".7089" stop-color="#3bd400"/><stop offset=".7101" stop-color="#30e900"/><stop offset=".7112" stop-color="#29f800"/><stop offset=".7124" stop-color="#26ff00"/><stop offset=".7228" stop-color="#2fff00"/><stop offset=".783" stop-color="#31ff00"/><stop offset=".827" stop-color="#23ff00"/><stop offset=".9994" stop-color="#21ff00"/></linearGradient>
<linearGradient id="b25"><stop offset=".0006" stop-color="#34ff00"/><stop offset=".0272" stop-color="#30ff00"/><stop offset=".1302" stop-color="#2fff00"/><stop offset=".1418" stop-color="#3bff00"/><stop offset=".158" stop-color="#3bff00"/><stop offset=".1696" stop-color="#2eff00"/><stop offset=".5064" stop-color="#29ff00"/><stop offset=".6071" stop-color="#21ff00"/><stop offset=".6082" stop-color="#22fc00"/><stop offset=".6094" stop-color="#28f100"/><stop offset=".6105" stop-color="#31df00"/><stop offset=".6117" stop-color="#3dc800"/><stop offset=".6163" stop-color="#796400"/><stop offset=".6175" stop-color="#845300"/><stop offset=".6186" stop-color="#8c4900"/><stop offset=".6198" stop-color="#8f4700"/><stop offset=".6209" stop-color="#914700"/><stop offset=".6557" stop-color="#924700"/><stop offset=".6568" stop-color="#8e4700"/><stop offset=".6626" stop-color="#754700"/><stop offset=".6696" stop-color="#924700"/><stop offset=".6997" stop-color="#924700"/><stop offset=".7008" stop-color="#924700"/><stop offset=".7031" stop-color="#8a5000"/><stop offset=".7043" stop-color="#875300"/><stop offset=".7078" stop-color="#8e4800"/><stop offset=".7251" stop-color="#8c4700"/><stop offset=".7321" stop-color="#814700"/><stop offset=".7355" stop-color="#804800"/><stop offset=".7367" stop-color="#7d4e00"/><stop offset=".7378" stop-color="#765c00"/><stop offset=".739" stop-color="#6c7000"/><stop offset=".7436" stop-color="#40d500"/><stop offset=".7448" stop-color="#37ea00"/><stop offset=".7459" stop-color="#31f800"/><stop offset=".7471" stop-color="#2eff00"/><stop offset=".7841" stop-color="#2fff00"/><stop offset=".8003" stop-color="#28ff00"/><stop offset=".827" stop-color="#21ff00"/><stop offset=".9994" stop-color="#1fff00"/></linearGradient>
<linearGradient id="b26"><stop offset=".0006" stop-color="#31ff00"/><stop offset=".0272" stop-color="#2cff00"/><stop offset=".1302" stop-color="#2bff00"/><stop offset=".1418" stop-color="#38ff00"/><stop offset=".158" stop-color="#38ff00"/><stop offset=".1696" stop-color="#2bff00"/><stop offset=".4265" stop-color="#28ff00"/><stop offset=".4323" stop-color="#3eff00"/><stop offset=".4473" stop-color="#3eff00"/><stop offset=".4485" stop-color="#3bff00"/><stop offset=".4531" stop-color="#28ff00"/><stop offset=".4543" stop-color="#27ff00"/><stop offset=".5064" stop-color="#26ff00"/><stop offset=".6128" stop-color="#1eff00"/><stop offset=".6973" stop-color="#1dff00"/><stop offset=".6985" stop-color="#20f900"/><stop offset=".6997" stop-color="#29ea00"/><stop offset=".7008" stop-color="#36d300"/><stop offset=".7043" stop-color="#658000"/><stop offset=".7054" stop-color="#726800"/><stop offset=".7066" stop-color="#7c5700"/><stop offset=".7078" stop-color="#804f00"/><stop offset=".7089" stop-color="#804f00"/><stop offset=".7228" stop-color="#824f00"/><stop offset=".7251" stop-color="#814f00"/><stop offset=".7321" stop-color="#794f00"/><stop offset=".7355" stop-color="#784f00"/><stop offset=".7367" stop-color="#755500"/><stop offset=".7378" stop-color="#6f6300"/><stop offset=".739" stop-color="#667600"/><stop offset=".7425" stop-color="#46c000"/><stop offset=".7448" stop-color="#34eb00"/><stop offset=".7459" stop-color="#2ef900"/><stop offset=".7471" stop-color="#2cff00"/><stop offset=".7841" stop-color="#2dff00"/><stop offset=".8003" stop-color="#27ff00"/><stop offset=".827" stop-color="#1fff00"/><stop offset=".9994" stop-color="#1dff00"/></linearGradient>
<linearGradient id="bL0" gradientUnits="userSpaceOnUse" x1="1443.93" x2="1470.89"><stop offset="0" stop-color="#3aff00" stop-opacity=".001"/><stop offset=".1538" stop-color="#3aff00" stop-opacity=".039"/><stop offset=".2692" stop-color="#3aff00" stop-opacity=".237"/><stop offset=".3654" stop-color="#3aff00" stop-opacity=".613"/><stop offset=".4423" stop-color="#3aff00" stop-opacity=".914"/><stop offset=".5" stop-color="#3aff00" stop-opacity="1"/><stop offset=".5577" stop-color="#3aff00" stop-opacity=".914"/><stop offset=".6346" stop-color="#3aff00" stop-opacity=".613"/><stop offset=".7308" stop-color="#3aff00" stop-opacity=".237"/><stop offset=".8462" stop-color="#3aff00" stop-opacity=".039"/><stop offset="1" stop-color="#3aff00" stop-opacity=".001"/></linearGradient>
<linearGradient id="bL1" gradientUnits="userSpaceOnUse" x1="1621.40" x2="1648.36"><stop offset="0" stop-color="#38ff00" stop-opacity=".001"/><stop offset=".1538" stop-color="#38ff00" stop-opacity=".039"/><stop offset=".2692" stop-color="#38ff00" stop-opacity=".237"/><stop offset=".3654" stop-color="#38ff00" stop-opacity=".613"/><stop offset=".4423" stop-color="#38ff00" stop-opacity=".914"/><stop offset=".5" stop-color="#38ff00" stop-opacity="1"/><stop offset=".5577" stop-color="#38ff00" stop-opacity=".914"/><stop offset=".6346" stop-color="#38ff00" stop-opacity=".613"/><stop offset=".7308" stop-color="#38ff00" stop-opacity=".237"/><stop offset=".8462" stop-color="#38ff00" stop-opacity=".039"/><stop offset="1" stop-color="#38ff00" stop-opacity=".001"/></linearGradient>
<linearGradient id="bL2" gradientUnits="userSpaceOnUse" x1="1599.38" x2="1605.85"><stop offset="0" stop-color="#9e0000" stop-opacity=".001"/><stop offset=".1538" stop-color="#9e0000" stop-opacity=".039"/><stop offset=".2692" stop-color="#9e0000" stop-opacity=".237"/><stop offset=".3654" stop-color="#9e0000" stop-opacity=".613"/><stop offset=".4423" stop-color="#9e0000" stop-opacity=".914"/><stop offset=".5" stop-color="#9e0000" stop-opacity="1"/><stop offset=".5577" stop-color="#9e0000" stop-opacity=".914"/><stop offset=".6346" stop-color="#9e0000" stop-opacity=".613"/><stop offset=".7308" stop-color="#9e0000" stop-opacity=".237"/><stop offset=".8462" stop-color="#9e0000" stop-opacity=".039"/><stop offset="1" stop-color="#9e0000" stop-opacity=".001"/></linearGradient>
<linearGradient id="bL3" gradientUnits="userSpaceOnUse" x1="1692.27" x2="1734.22"><stop offset="0" stop-color="#900000" stop-opacity=".001"/><stop offset=".1538" stop-color="#900000" stop-opacity=".039"/><stop offset=".2692" stop-color="#900000" stop-opacity=".237"/><stop offset=".3654" stop-color="#900000" stop-opacity=".613"/><stop offset=".4423" stop-color="#900000" stop-opacity=".914"/><stop offset=".5" stop-color="#900000" stop-opacity="1"/><stop offset=".5577" stop-color="#900000" stop-opacity=".914"/><stop offset=".6346" stop-color="#900000" stop-opacity=".613"/><stop offset=".7308" stop-color="#900000" stop-opacity=".237"/><stop offset=".8462" stop-color="#900000" stop-opacity=".039"/><stop offset="1" stop-color="#900000" stop-opacity=".001"/></linearGradient>
<linearGradient id="bL4" gradientUnits="userSpaceOnUse" x1="1708.39" x2="1718.10"><stop offset="0" stop-color="#ca0000" stop-opacity=".001"/><stop offset=".1538" stop-color="#ca0000" stop-opacity=".039"/><stop offset=".2692" stop-color="#ca0000" stop-opacity=".237"/><stop offset=".3654" stop-color="#ca0000" stop-opacity=".613"/><stop offset=".4423" stop-color="#ca0000" stop-opacity=".914"/><stop offset=".5" stop-color="#ca0000" stop-opacity="1"/><stop offset=".5577" stop-color="#ca0000" stop-opacity=".914"/><stop offset=".6346" stop-color="#ca0000" stop-opacity=".613"/><stop offset=".7308" stop-color="#ca0000" stop-opacity=".237"/><stop offset=".8462" stop-color="#ca0000" stop-opacity=".039"/><stop offset="1" stop-color="#ca0000" stop-opacity=".001"/></linearGradient>
<linearGradient id="bL5" gradientUnits="userSpaceOnUse" x1="1740.38" x2="1746.04"><stop offset="0" stop-color="#970000" stop-opacity=".001"/><stop offset=".1538" stop-color="#970000" stop-opacity=".039"/><stop offset=".2692" stop-color="#970000" stop-opacity=".237"/><stop offset=".3654" stop-color="#970000" stop-opacity=".613"/><stop offset=".4423" stop-color="#970000" stop-opacity=".914"/><stop offset=".5" stop-color="#970000" stop-opacity="1"/><stop offset=".5577" stop-color="#970000" stop-opacity=".914"/><stop offset=".6346" stop-color="#970000" stop-opacity=".613"/><stop offset=".7308" stop-color="#970000" stop-opacity=".237"/><stop offset=".8462" stop-color="#970000" stop-opacity=".039"/><stop offset="1" stop-color="#970000" stop-opacity=".001"/></linearGradient>
<linearGradient id="bL6" gradientUnits="userSpaceOnUse" x1="1942.11" x2="1966.08"><stop offset="0" stop-color="#8a0000" stop-opacity=".001"/><stop offset=".1538" stop-color="#8a0000" stop-opacity=".039"/><stop offset=".2692" stop-color="#8a0000" stop-opacity=".237"/><stop offset=".3654" stop-color="#8a0000" stop-opacity=".613"/><stop offset=".4423" stop-color="#8a0000" stop-opacity=".914"/><stop offset=".5" stop-color="#8a0000" stop-opacity="1"/><stop offset=".5577" stop-color="#8a0000" stop-opacity=".914"/><stop offset=".6346" stop-color="#8a0000" stop-opacity=".613"/><stop offset=".7308" stop-color="#8a0000" stop-opacity=".237"/><stop offset=".8462" stop-color="#8a0000" stop-opacity=".039"/><stop offset="1" stop-color="#8a0000" stop-opacity=".001"/></linearGradient>
<linearGradient id="bL7" gradientUnits="userSpaceOnUse" x1="1950.46" x2="1957.74"><stop offset="0" stop-color="#b00000" stop-opacity=".001"/><stop offset=".1538" stop-color="#b00000" stop-opacity=".039"/><stop offset=".2692" stop-color="#b00000" stop-opacity=".237"/><stop offset=".3654" stop-color="#b00000" stop-opacity=".613"/><stop offset=".4423" stop-color="#b00000" stop-opacity=".914"/><stop offset=".5" stop-color="#b00000" stop-opacity="1"/><stop offset=".5577" stop-color="#b00000" stop-opacity=".914"/><stop offset=".6346" stop-color="#b00000" stop-opacity=".613"/><stop offset=".7308" stop-color="#b00000" stop-opacity=".237"/><stop offset=".8462" stop-color="#b00000" stop-opacity=".039"/><stop offset="1" stop-color="#b00000" stop-opacity=".001"/></linearGradient>
<linearGradient id="bL8" gradientUnits="userSpaceOnUse" x1="1995.24" x2="2028.20"><stop offset="0" stop-color="#900000" stop-opacity=".001"/><stop offset=".1538" stop-color="#900000" stop-opacity=".039"/><stop offset=".2692" stop-color="#900000" stop-opacity=".237"/><stop offset=".3654" stop-color="#900000" stop-opacity=".613"/><stop offset=".4423" stop-color="#900000" stop-opacity=".914"/><stop offset=".5" stop-color="#900000" stop-opacity="1"/><stop offset=".5577" stop-color="#900000" stop-opacity=".914"/><stop offset=".6346" stop-color="#900000" stop-opacity=".613"/><stop offset=".7308" stop-color="#900000" stop-opacity=".237"/><stop offset=".8462" stop-color="#900000" stop-opacity=".039"/><stop offset="1" stop-color="#900000" stop-opacity=".001"/></linearGradient>
<linearGradient id="bL9" gradientUnits="userSpaceOnUse" x1="2007.27" x2="2016.17"><stop offset="0" stop-color="#c40000" stop-opacity=".001"/><stop offset=".1538" stop-color="#c40000" stop-opacity=".039"/><stop offset=".2692" stop-color="#c40000" stop-opacity=".237"/><stop offset=".3654" stop-color="#c40000" stop-opacity=".613"/><stop offset=".4423" stop-color="#c40000" stop-opacity=".914"/><stop offset=".5" stop-color="#c40000" stop-opacity="1"/><stop offset=".5577" stop-color="#c40000" stop-opacity=".914"/><stop offset=".6346" stop-color="#c40000" stop-opacity=".613"/><stop offset=".7308" stop-color="#c40000" stop-opacity=".237"/><stop offset=".8462" stop-color="#c40000" stop-opacity=".039"/><stop offset="1" stop-color="#c40000" stop-opacity=".001"/></linearGradient>
<linearGradient id="bL10" gradientUnits="userSpaceOnUse" x1="2024.21" x2="2031.49"><stop offset="0" stop-color="#8e0000" stop-opacity=".001"/><stop offset=".1538" stop-color="#8e0000" stop-opacity=".039"/><stop offset=".2692" stop-color="#8e0000" stop-opacity=".237"/><stop offset=".3654" stop-color="#8e0000" stop-opacity=".613"/><stop offset=".4423" stop-color="#8e0000" stop-opacity=".914"/><stop offset=".5" stop-color="#8e0000" stop-opacity="1"/><stop offset=".5577" stop-color="#8e0000" stop-opacity=".914"/><stop offset=".6346" stop-color="#8e0000" stop-opacity=".613"/><stop offset=".7308" stop-color="#8e0000" stop-opacity=".237"/><stop offset=".8462" stop-color="#8e0000" stop-opacity=".039"/><stop offset="1" stop-color="#8e0000" stop-opacity=".001"/></linearGradient>
<filter id="Fb" filterUnits="userSpaceOnUse" x="1332" y="66" width="864" height="759" color-interpolation-filters="sRGB"><feTurbulence type="fractalNoise" baseFrequency="0.3 0.0003" numOctaves="3" seed="4" x="1332" y="66" width="864" height="28" result="f0"/><feTurbulence type="fractalNoise" baseFrequency="0.045 0.0003" numOctaves="2" seed="104" x="1332" y="66" width="864" height="28" result="c0"/><feTurbulence type="fractalNoise" baseFrequency="0.3 0.0003" numOctaves="3" seed="11" x="1332" y="94" width="864" height="28" result="f1"/><feTurbulence type="fractalNoise" baseFrequency="0.045 0.0003" numOctaves="2" seed="111" x="1332" y="94" width="864" height="28" result="c1"/><feTurbulence type="fractalNoise" baseFrequency="0.3 0.0003" numOctaves="3" seed="18" x="1332" y="122" width="864" height="28" result="f2"/><feTurbulence type="fractalNoise" baseFrequency="0.045 0.0003" numOctaves="2" seed="118" x="1332" y="122" width="864" height="28" result="c2"/><feTurbulence type="fractalNoise" baseFrequency="0.3 0.0003" numOctaves="3" seed="25" x="1332" y="150" width="864" height="29" result="f3"/><feTurbulence type="fractalNoise" baseFrequency="0.045 0.0003" numOctaves="2" seed="125" x="1332" y="150" width="864" height="29" result="c3"/><feTurbulence type="fractalNoise" baseFrequency="0.3 0.0003" numOctaves="3" seed="32" x="1332" y="179" width="864" height="28" result="f4"/><feTurbulence type="fractalNoise" baseFrequency="0.045 0.0003" numOctaves="2" seed="132" x="1332" y="179" width="864" height="28" result="c4"/><feTurbulence type="fractalNoise" baseFrequency="0.3 0.0003" numOctaves="3" seed="39" x="1332" y="207" width="864" height="28" result="f5"/><feTurbulence type="fractalNoise" baseFrequency="0.045 0.0003" numOctaves="2" seed="139" x="1332" y="207" width="864" height="28" result="c5"/><feTurbulence type="fractalNoise" baseFrequency="0.3 0.0003" numOctaves="3" seed="46" x="1332" y="235" width="864" height="28" result="f6"/><feTurbulence type="fractalNoise" baseFrequency="0.045 0.0003" numOctaves="2" seed="146" x="1332" y="235" width="864" height="28" result="c6"/><feTurbulence type="fractalNoise" baseFrequency="0.3 0.0003" numOctaves="3" seed="53" x="1332" y="263" width="864" height="28" result="f7"/><feTurbulence type="fractalNoise" baseFrequency="0.045 0.0003" numOctaves="2" seed="153" x="1332" y="263" width="864" height="28" result="c7"/><feTurbulence type="fractalNoise" baseFrequency="0.3 0.0003" numOctaves="3" seed="60" x="1332" y="291" width="864" height="28" result="f8"/><feTurbulence type="fractalNoise" baseFrequency="0.045 0.0003" numOctaves="2" seed="160" x="1332" y="291" width="864" height="28" result="c8"/><feTurbulence type="fractalNoise" baseFrequency="0.3 0.0003" numOctaves="3" seed="67" x="1332" y="319" width="864" height="28" result="f9"/><feTurbulence type="fractalNoise" baseFrequency="0.045 0.0003" numOctaves="2" seed="167" x="1332" y="319" width="864" height="28" result="c9"/><feTurbulence type="fractalNoise" baseFrequency="0.3 0.0003" numOctaves="3" seed="74" x="1332" y="347" width="864" height="28" result="f10"/><feTurbulence type="fractalNoise" baseFrequency="0.045 0.0003" numOctaves="2" seed="174" x="1332" y="347" width="864" height="28" result="c10"/><feTurbulence type="fractalNoise" baseFrequency="0.3 0.0003" numOctaves="3" seed="81" x="1332" y="375" width="864" height="29" result="f11"/><feTurbulence type="fractalNoise" baseFrequency="0.045 0.0003" numOctaves="2" seed="181" x="1332" y="375" width="864" height="29" result="c11"/><feTurbulence type="fractalNoise" baseFrequency="0.3 0.0003" numOctaves="3" seed="88" x="1332" y="404" width="864" height="28" result="f12"/><feTurbulence type="fractalNoise" baseFrequency="0.045 0.0003" numOctaves="2" seed="188" x="1332" y="404" width="864" height="28" result="c12"/><feTurbulence type="fractalNoise" baseFrequency="0.3 0.0003" numOctaves="3" seed="95" x="1332" y="432" width="864" height="28" result="f13"/><feTurbulence type="fractalNoise" baseFrequency="0.045 0.0003" numOctaves="2" seed="195" x="1332" y="432" width="864" height="28" result="c13"/><feTurbulence type="fractalNoise" baseFrequency="0.3 0.0003" numOctaves="3" seed="5" x="1332" y="460" width="864" height="28" result="f14"/><feTurbulence type="fractalNoise" baseFrequency="0.045 0.0003" numOctaves="2" seed="105" x="1332" y="460" width="864" height="28" result="c14"/><feTurbulence type="fractalNoise" baseFrequency="0.3 0.0003" numOctaves="3" seed="12" x="1332" y="488" width="864" height="28" result="f15"/><feTurbulence type="fractalNoise" baseFrequency="0.045 0.0003" numOctaves="2" seed="112" x="1332" y="488" width="864" height="28" result="c15"/><feTurbulence type="fractalNoise" baseFrequency="0.3 0.0003" numOctaves="3" seed="19" x="1332" y="516" width="864" height="28" result="f16"/><feTurbulence type="fractalNoise" baseFrequency="0.045 0.0003" numOctaves="2" seed="119" x="1332" y="516" width="864" height="28" result="c16"/><feTurbulence type="fractalNoise" baseFrequency="0.3 0.0003" numOctaves="3" seed="26" x="1332" y="544" width="864" height="28" result="f17"/><feTurbulence type="fractalNoise" baseFrequency="0.045 0.0003" numOctaves="2" seed="126" x="1332" y="544" width="864" height="28" result="c17"/><feTurbulence type="fractalNoise" baseFrequency="0.3 0.0003" numOctaves="3" seed="33" x="1332" y="572" width="864" height="28" result="f18"/><feTurbulence type="fractalNoise" baseFrequency="0.045 0.0003" numOctaves="2" seed="133" x="1332" y="572" width="864" height="28" result="c18"/><feTurbulence type="fractalNoise" baseFrequency="0.3 0.0003" numOctaves="3" seed="40" x="1332" y="600" width="864" height="29" result="f19"/><feTurbulence type="fractalNoise" baseFrequency="0.045 0.0003" numOctaves="2" seed="140" x="1332" y="600" width="864" height="29" result="c19"/><feTurbulence type="fractalNoise" baseFrequency="0.3 0.0003" numOctaves="3" seed="47" x="1332" y="629" width="864" height="28" result="f20"/><feTurbulence type="fractalNoise" baseFrequency="0.045 0.0003" numOctaves="2" seed="147" x="1332" y="629" width="864" height="28" result="c20"/><feTurbulence type="fractalNoise" baseFrequency="0.3 0.0003" numOctaves="3" seed="54" x="1332" y="657" width="864" height="28" result="f21"/><feTurbulence type="fractalNoise" baseFrequency="0.045 0.0003" numOctaves="2" seed="154" x="1332" y="657" width="864" height="28" result="c21"/><feTurbulence type="fractalNoise" baseFrequency="0.3 0.0003" numOctaves="3" seed="61" x="1332" y="685" width="864" height="28" result="f22"/><feTurbulence type="fractalNoise" baseFrequency="0.045 0.0003" numOctaves="2" seed="161" x="1332" y="685" width="864" height="28" result="c22"/><feTurbulence type="fractalNoise" baseFrequency="0.3 0.0003" numOctaves="3" seed="68" x="1332" y="713" width="864" height="28" result="f23"/><feTurbulence type="fractalNoise" baseFrequency="0.045 0.0003" numOctaves="2" seed="168" x="1332" y="713" width="864" height="28" result="c23"/><feTurbulence type="fractalNoise" baseFrequency="0.3 0.0003" numOctaves="3" seed="75" x="1332" y="741" width="864" height="28" result="f24"/><feTurbulence type="fractalNoise" baseFrequency="0.045 0.0003" numOctaves="2" seed="175" x="1332" y="741" width="864" height="28" result="c24"/><feTurbulence type="fractalNoise" baseFrequency="0.3 0.0003" numOctaves="3" seed="82" x="1332" y="769" width="864" height="28" result="f25"/><feTurbulence type="fractalNoise" baseFrequency="0.045 0.0003" numOctaves="2" seed="182" x="1332" y="769" width="864" height="28" result="c25"/><feTurbulence type="fractalNoise" baseFrequency="0.3 0.0003" numOctaves="3" seed="89" x="1332" y="797" width="864" height="28" result="f26"/><feTurbulence type="fractalNoise" baseFrequency="0.045 0.0003" numOctaves="2" seed="189" x="1332" y="797" width="864" height="28" result="c26"/><feMerge><feMergeNode in="f0"/><feMergeNode in="f1"/><feMergeNode in="f2"/><feMergeNode in="f3"/><feMergeNode in="f4"/><feMergeNode in="f5"/><feMergeNode in="f6"/><feMergeNode in="f7"/><feMergeNode in="f8"/><feMergeNode in="f9"/><feMergeNode in="f10"/><feMergeNode in="f11"/><feMergeNode in="f12"/><feMergeNode in="f13"/><feMergeNode in="f14"/><feMergeNode in="f15"/><feMergeNode in="f16"/><feMergeNode in="f17"/><feMergeNode in="f18"/><feMergeNode in="f19"/><feMergeNode in="f20"/><feMergeNode in="f21"/><feMergeNode in="f22"/><feMergeNode in="f23"/><feMergeNode in="f24"/><feMergeNode in="f25"/><feMergeNode in="f26"/></feMerge><feColorMatrix type="matrix" values="1 0 0 0 0 1 0 0 0 0 1 0 0 0 0 0 0 0 0 1"/><feComponentTransfer result="F"><feFuncR type="table" tableValues="0 .2 .5 .66 .78"/><feFuncG type="table" tableValues="0 .2 .5 .66 .78"/><feFuncB type="table" tableValues="0 .2 .5 .66 .78"/></feComponentTransfer><feMerge><feMergeNode in="c0"/><feMergeNode in="c1"/><feMergeNode in="c2"/><feMergeNode in="c3"/><feMergeNode in="c4"/><feMergeNode in="c5"/><feMergeNode in="c6"/><feMergeNode in="c7"/><feMergeNode in="c8"/><feMergeNode in="c9"/><feMergeNode in="c10"/><feMergeNode in="c11"/><feMergeNode in="c12"/><feMergeNode in="c13"/><feMergeNode in="c14"/><feMergeNode in="c15"/><feMergeNode in="c16"/><feMergeNode in="c17"/><feMergeNode in="c18"/><feMergeNode in="c19"/><feMergeNode in="c20"/><feMergeNode in="c21"/><feMergeNode in="c22"/><feMergeNode in="c23"/><feMergeNode in="c24"/><feMergeNode in="c25"/><feMergeNode in="c26"/></feMerge><feColorMatrix type="matrix" values="1 0 0 0 0 1 0 0 0 0 1 0 0 0 0 0 0 0 0 1" result="C"/><feTurbulence type="fractalNoise" baseFrequency="0.3 0.0001" numOctaves="2" seed="98"/><feColorMatrix type="matrix" values="1 0 0 0 0 1 0 0 0 0 1 0 0 0 0 0 0 0 0 1"/><feComponentTransfer result="G"><feFuncR type="table" tableValues="0 .2 .5 .66 .78"/><feFuncG type="table" tableValues="0 .2 .5 .66 .78"/><feFuncB type="table" tableValues="0 .2 .5 .66 .78"/></feComponentTransfer><feComposite in="F" in2="C" operator="arithmetic" k1="0" k2="0.36" k3="0.05" k4="0" result="n1"/><feComposite in="n1" in2="G" operator="arithmetic" k1="0" k2="1" k3="0.2" k4="0" result="n"/><feColorMatrix in="SourceGraphic" type="matrix" values="1 0 0 0 0 1 0 0 0 0 1 0 0 0 0 0 0 0 0 1" result="V"/><feColorMatrix in="SourceGraphic" type="matrix" values="0 1 0 0 0 0 1 0 0 0 0 1 0 0 0 0 0 0 0 1" result="M"/><feComposite in="n" in2="M" operator="arithmetic" k1="1" k2="0" k3="0" k4="0" result="nm"/><feComposite in="V" in2="nm" operator="arithmetic" k1="0" k2="1" k3="1" k4="0"/><feComponentTransfer><feFuncR type="table" tableValues=".242 .250 .258 .265 .271 .275 .278 .280 .281 .281 .280 .276 .270 .260 .244 .221 .196 .183 .179 .176 .169 .154 .146 .138 .125 .111 .095 .069 .030 .004 .007 .043 .096 .141 .172 .194 .216 .247 .291 .341 .391 .446 .504 .562 .617 .672 .724 .774 .820 .863 .903 .939 .973 .996 .997 .995 .989 .979 .968 .961 .960 .963 .969 .977"/><feFuncG type="table" tableValues=".150 .165 .182 .198 .215 .234 .256 .278 .301 .323 .345 .367 .389 .412 .436 .460 .485 .507 .529 .550 .570 .590 .609 .628 .646 .663 .680 .695 .708 .720 .731 .741 .750 .758 .767 .776 .784 .792 .797 .801 .803 .802 .799 .794 .788 .779 .770 .760 .750 .741 .733 .729 .730 .743 .766 .789 .814 .839 .864 .889 .913 .937 .961 .984"/><feFuncB type="table" tableValues=".660 .708 .751 .795 .836 .871 .899 .922 .941 .958 .972 .983 .991 .995 .999 .997 .989 .980 .968 .952 .936 .922 .908 .897 .888 .876 .860 .839 .816 .792 .766 .739 .712 .684 .655 .625 .592 .557 .519 .479 .435 .391 .348 .304 .261 .223 .191 .165 .153 .160 .177 .210 .239 .237 .220 .203 .189 .177 .164 .154 .142 .127 .106 .081"/></feComponentTransfer></filter>
<linearGradient id="c0"><stop offset=".0006" stop-color="#33ff00"/><stop offset=".0272" stop-color="#2fff00"/><stop offset=".4225" stop-color="#2cff00"/><stop offset=".4283" stop-color="#46ff00"/><stop offset=".4422" stop-color="#46ff00"/><stop offset=".4434" stop-color="#43ff00"/><stop offset=".448" stop-color="#2cff00"/><stop offset=".515" stop-color="#2aff00"/><stop offset=".5173" stop-color="#2cfa00"/><stop offset=".5185" stop-color="#2ff200"/><stop offset=".5197" stop-color="#34e800"/><stop offset=".5208" stop-color="#3adc00"/><stop offset=".5243" stop-color="#51ae00"/><stop offset=".5312" stop-color="#865500"/><stop offset=".5335" stop-color="#924400"/><stop offset=".5347" stop-color="#964000"/><stop offset=".5358" stop-color="#984000"/><stop offset=".5416" stop-color="#a14000"/><stop offset=".5578" stop-color="#af4000"/><stop offset=".5786" stop-color="#9d4000"/><stop offset=".5948" stop-color="#9f4000"/><stop offset=".6064" stop-color="#a54000"/><stop offset=".6168" stop-color="#9b4000"/><stop offset=".6202" stop-color="#954000"/><stop offset=".6376" stop-color="#ad4000"/><stop offset=".6457" stop-color="#ad4000"/><stop offset=".6595" stop-color="#9d4000"/><stop offset=".6653" stop-color="#994000"/><stop offset=".6665" stop-color="#954000"/><stop offset=".6688" stop-color="#824000"/><stop offset=".6699" stop-color="#824000"/><stop offset=".6723" stop-color="#954000"/><stop offset=".6734" stop-color="#9a4000"/><stop offset=".678" stop-color="#a04000"/><stop offset=".6931" stop-color="#a54000"/><stop offset=".7058" stop-color="#a44100"/><stop offset=".7069" stop-color="#9d4b00"/><stop offset=".7081" stop-color="#916000"/><stop offset=".7116" stop-color="#63b700"/><stop offset=".7127" stop-color="#56d400"/><stop offset=".7139" stop-color="#4deb00"/><stop offset=".715" stop-color="#46fb00"/><stop offset=".7162" stop-color="#46ff00"/><stop offset=".7231" stop-color="#4dff00"/><stop offset=".7728" stop-color="#4fff00"/><stop offset=".7844" stop-color="#3aff00"/><stop offset=".8006" stop-color="#2fff00"/><stop offset=".8272" stop-color="#29ff00"/><stop offset=".9994" stop-color="#28ff00"/></linearGradient>
<linearGradient id="c1"><stop offset=".0006" stop-color="#32ff00"/><stop offset=".0272" stop-color="#2dff00"/><stop offset=".4006" stop-color="#2bff00"/><stop offset=".6064" stop-color="#25ff00"/><stop offset=".6075" stop-color="#26fd00"/><stop offset=".6087" stop-color="#2bf300"/><stop offset=".6098" stop-color="#33e400"/><stop offset=".6121" stop-color="#49b900"/><stop offset=".6168" stop-color="#805c00"/><stop offset=".6179" stop-color="#8a4c00"/><stop offset=".6191" stop-color="#914200"/><stop offset=".6202" stop-color="#954000"/><stop offset=".6214" stop-color="#974000"/><stop offset=".6376" stop-color="#ad4000"/><stop offset=".6445" stop-color="#ad4000"/><stop offset=".6595" stop-color="#9d4000"/><stop offset=".6653" stop-color="#994000"/><stop offset=".6665" stop-color="#954000"/><stop offset=".6688" stop-color="#824000"/><stop offset=".6699" stop-color="#824000"/><stop offset=".6723" stop-color="#954000"/><stop offset=".6734" stop-color="#9a4000"/><stop offset=".6792" stop-color="#a14000"/><stop offset=".6931" stop-color="#a54000"/><stop offset=".7058" stop-color="#a44000"/><stop offset=".7197" stop-color="#a94000"/><stop offset=".7393" stop-color="#a94000"/><stop offset=".7462" stop-color="#a04000"/><stop offset=".7474" stop-color="#9c4200"/><stop offset=".7486" stop-color="#935000"/><stop offset=".7497" stop-color="#856600"/><stop offset=".7532" stop-color="#56bf00"/><stop offset=".7543" stop-color="#49da00"/><stop offset=".7555" stop-color="#3ff000"/><stop offset=".7566" stop-color="#39fd00"/><stop offset=".7578" stop-color="#38ff00"/><stop offset=".7844" stop-color="#39ff00"/><stop offset=".8006" stop-color="#2eff00"/><stop offset=".8272" stop-color="#28ff00"/><stop offset=".9994" stop-color="#27ff00"/></linearGradient>
<linearGradient id="c2"><stop offset=".0006" stop-color="#47ff00"/><stop offset=".0341" stop-color="#43ff00"/><stop offset=".0457" stop-color="#4dff00"/><stop offset=".0607" stop-color="#4cff00"/><stop offset=".0723" stop-color="#41ff00"/><stop offset=".1069" stop-color="#3eff00"/><stop offset=".5058" stop-color="#34ff00"/><stop offset=".6133" stop-color="#2bff00"/><stop offset=".6965" stop-color="#2bff00"/><stop offset=".6977" stop-color="#2cfe00"/><stop offset=".6988" stop-color="#31f500"/><stop offset=".7" stop-color="#3de100"/><stop offset=".7012" stop-color="#4cc700"/><stop offset=".7046" stop-color="#856d00"/><stop offset=".7058" stop-color="#965500"/><stop offset=".7069" stop-color="#a14500"/><stop offset=".7081" stop-color="#a54000"/><stop offset=".7197" stop-color="#a94000"/><stop offset=".7382" stop-color="#aa4000"/><stop offset=".7462" stop-color="#a04000"/><stop offset=".7474" stop-color="#9c4200"/><stop offset=".7486" stop-color="#935000"/><stop offset=".7497" stop-color="#866600"/><stop offset=".7532" stop-color="#5abf00"/><stop offset=".7543" stop-color="#4eda00"/><stop offset=".7555" stop-color="#45f000"/><stop offset=".7566" stop-color="#3ffd00"/><stop offset=".7578" stop-color="#3fff00"/><stop offset=".7844" stop-color="#3fff00"/><stop offset=".8006" stop-color="#35ff00"/><stop offset=".8272" stop-color="#2fff00"/><stop offset=".9994" stop-color="#2dff00"/></linearGradient>
<linearGradient id="c3"><stop offset=".0006" stop-color="#47ff00"/><stop offset=".0341" stop-color="#43ff00"/><stop offset=".0457" stop-color="#4dff00"/><stop offset=".0607" stop-color="#4cff00"/><stop offset=".0723" stop-color="#41ff00"/><stop offset=".1069" stop-color="#3eff00"/><stop offset=".5069" stop-color="#34ff00"/><stop offset=".6133" stop-color="#2bff00"/><stop offset=".7058" stop-color="#2bff00"/><stop offset=".7231" stop-color="#3dff00"/><stop offset=".7832" stop-color="#40ff00"/><stop offset=".8006" stop-color="#35ff00"/><stop offset=".8272" stop-color="#2fff00"/><stop offset=".9994" stop-color="#2dff00"/></linearGradient>
<linearGradient id="c4"><stop offset=".0006" stop-color="#3fff00"/><stop offset=".0341" stop-color="#3bff00"/><stop offset=".0457" stop-color="#3fff00"/><stop offset=".0607" stop-color="#3fff00"/><stop offset=".0723" stop-color="#3aff00"/><stop offset=".1069" stop-color="#38ff00"/><stop offset=".5069" stop-color="#32ff00"/><stop offset=".6145" stop-color="#2aff00"/><stop offset=".7058" stop-color="#2aff00"/><stop offset=".7231" stop-color="#3cff00"/><stop offset=".7832" stop-color="#3eff00"/><stop offset=".8006" stop-color="#33ff00"/><stop offset=".8272" stop-color="#2dff00"/><stop offset=".9994" stop-color="#2cff00"/></linearGradient>
<linearGradient id="c5"><stop offset=".0006" stop-color="#37ff00"/><stop offset=".0272" stop-color="#33ff00"/><stop offset=".4006" stop-color="#31ff00"/><stop offset=".5069" stop-color="#2fff00"/><stop offset=".6133" stop-color="#28ff00"/><stop offset=".7058" stop-color="#28ff00"/><stop offset=".7231" stop-color="#3aff00"/><stop offset=".7832" stop-color="#3cff00"/><stop offset=".8006" stop-color="#32ff00"/><stop offset=".8272" stop-color="#2bff00"/><stop offset=".9994" stop-color="#2aff00"/></linearGradient>
<linearGradient id="c6"><stop offset=".0006" stop-color="#36ff00"/><stop offset=".0272" stop-color="#32ff00"/><stop offset=".4006" stop-color="#30ff00"/><stop offset=".5069" stop-color="#2dff00"/><stop offset=".6133" stop-color="#28ff00"/><stop offset=".7058" stop-color="#28ff00"/><stop offset=".7231" stop-color="#3aff00"/><stop offset=".7832" stop-color="#3cff00"/><stop offset=".8006" stop-color="#31ff00"/><stop offset=".8272" stop-color="#2bff00"/><stop offset=".9994" stop-color="#2aff00"/></linearGradient>
<linearGradient id="c7"><stop offset=".0006" stop-color="#27ff00"/><stop offset=".0168" stop-color="#24ff00"/><stop offset=".0249" stop-color="#2fff00"/><stop offset=".4006" stop-color="#2cff00"/><stop offset=".515" stop-color="#2aff00"/><stop offset=".5173" stop-color="#2cfa00"/><stop offset=".5185" stop-color="#2ff200"/><stop offset=".5197" stop-color="#34e800"/><stop offset=".5208" stop-color="#3adc00"/><stop offset=".5243" stop-color="#51ae00"/><stop offset=".5312" stop-color="#865500"/><stop offset=".5335" stop-color="#924400"/><stop offset=".5347" stop-color="#964000"/><stop offset=".5358" stop-color="#984000"/><stop offset=".5416" stop-color="#a14000"/><stop offset=".5578" stop-color="#af4000"/><stop offset=".5786" stop-color="#9d4000"/><stop offset=".5948" stop-color="#9f4000"/><stop offset=".6064" stop-color="#a54000"/><stop offset=".6179" stop-color="#994000"/><stop offset=".6191" stop-color="#954400"/><stop offset=".6214" stop-color="#865700"/><stop offset=".6225" stop-color="#7d6400"/><stop offset=".6283" stop-color="#4ab900"/><stop offset=".6306" stop-color="#38d900"/><stop offset=".6318" stop-color="#32e600"/><stop offset=".6341" stop-color="#28f900"/><stop offset=".6364" stop-color="#26ff00"/><stop offset=".7058" stop-color="#26ff00"/><stop offset=".7231" stop-color="#38ff00"/><stop offset=".7832" stop-color="#3aff00"/><stop offset=".8006" stop-color="#2fff00"/><stop offset=".8272" stop-color="#29ff00"/><stop offset=".9994" stop-color="#28ff00"/></linearGradient>
<linearGradient id="c8"><stop offset=".0006" stop-color="#36ff00"/><stop offset=".0272" stop-color="#32ff00"/><stop offset=".3994" stop-color="#30ff00"/><stop offset=".515" stop-color="#2dff00"/><stop offset=".5173" stop-color="#2ffa00"/><stop offset=".5185" stop-color="#32f200"/><stop offset=".5197" stop-color="#37e800"/><stop offset=".5208" stop-color="#3cdc00"/><stop offset=".5243" stop-color="#52ae00"/><stop offset=".5312" stop-color="#865500"/><stop offset=".5335" stop-color="#924400"/><stop offset=".5347" stop-color="#964000"/><stop offset=".5358" stop-color="#984000"/><stop offset=".5416" stop-color="#a14000"/><stop offset=".5578" stop-color="#af4000"/><stop offset=".5786" stop-color="#9d4000"/><stop offset=".5948" stop-color="#9f4000"/><stop offset=".6064" stop-color="#a54000"/><stop offset=".6168" stop-color="#9b4000"/><stop offset=".6202" stop-color="#954000"/><stop offset=".6376" stop-color="#ad4000"/><stop offset=".6457" stop-color="#ad4000"/><stop offset=".6595" stop-color="#9d4000"/><stop offset=".6653" stop-color="#994000"/><stop offset=".6665" stop-color="#954000"/><stop offset=".6688" stop-color="#824000"/><stop offset=".6699" stop-color="#824000"/><stop offset=".6723" stop-color="#954000"/><stop offset=".6734" stop-color="#9a4000"/><stop offset=".678" stop-color="#a04000"/><stop offset=".6931" stop-color="#a54000"/><stop offset=".7058" stop-color="#a44100"/><stop offset=".7069" stop-color="#9d4b00"/><stop offset=".7081" stop-color="#8f6000"/><stop offset=".7116" stop-color="#58b700"/><stop offset=".7127" stop-color="#48d400"/><stop offset=".7139" stop-color="#3beb00"/><stop offset=".715" stop-color="#34fb00"/><stop offset=".7162" stop-color="#32ff00"/><stop offset=".7231" stop-color="#3aff00"/><stop offset=".7832" stop-color="#3cff00"/><stop offset=".8006" stop-color="#31ff00"/><stop offset=".8272" stop-color="#2bff00"/><stop offset=".9994" stop-color="#2aff00"/></linearGradient>
<linearGradient id="c9"><stop offset=".0006" stop-color="#37ff00"/><stop offset=".0272" stop-color="#33ff00"/><stop offset=".5058" stop-color="#2fff00"/><stop offset=".6064" stop-color="#29ff00"/><stop offset=".6075" stop-color="#2afd00"/><stop offset=".6087" stop-color="#2ef300"/><stop offset=".6098" stop-color="#35e400"/><stop offset=".6121" stop-color="#4bb900"/><stop offset=".6168" stop-color="#805c00"/><stop offset=".6179" stop-color="#8a4c00"/><stop offset=".6191" stop-color="#914200"/><stop offset=".6202" stop-color="#954000"/><stop offset=".6214" stop-color="#974000"/><stop offset=".6376" stop-color="#ad4000"/><stop offset=".6445" stop-color="#ad4000"/><stop offset=".6595" stop-color="#9d4000"/><stop offset=".6653" stop-color="#994000"/><stop offset=".6665" stop-color="#954000"/><stop offset=".6688" stop-color="#824000"/><stop offset=".6699" stop-color="#824000"/><stop offset=".6723" stop-color="#954000"/><stop offset=".6734" stop-color="#9a4000"/><stop offset=".6792" stop-color="#a14000"/><stop offset=".6931" stop-color="#a54000"/><stop offset=".7058" stop-color="#a44000"/><stop offset=".7197" stop-color="#a94000"/><stop offset=".7393" stop-color="#a94000"/><stop offset=".7462" stop-color="#a04000"/><stop offset=".7474" stop-color="#9c4200"/><stop offset=".7486" stop-color="#935000"/><stop offset=".7497" stop-color="#866600"/><stop offset=".7532" stop-color="#58bf00"/><stop offset=".7543" stop-color="#4bda00"/><stop offset=".7555" stop-color="#42f000"/><stop offset=".7566" stop-color="#3cfd00"/><stop offset=".7578" stop-color="#3bff00"/><stop offset=".7844" stop-color="#3cff00"/><stop offset=".8006" stop-color="#32ff00"/><stop offset=".8272" stop-color="#2bff00"/><stop offset=".9994" stop-color="#2aff00"/></linearGradient>
<linearGradient id="c10"><stop offset=".0006" stop-color="#36ff00"/><stop offset=".0272" stop-color="#32ff00"/><stop offset=".4006" stop-color="#30ff00"/><stop offset=".5069" stop-color="#2dff00"/><stop offset=".6133" stop-color="#28ff00"/><stop offset=".6965" stop-color="#28ff00"/><stop offset=".6977" stop-color="#28fe00"/><stop offset=".6988" stop-color="#2ef500"/><stop offset=".7" stop-color="#3ae100"/><stop offset=".7012" stop-color="#4ac700"/><stop offset=".7046" stop-color="#846d00"/><stop offset=".7058" stop-color="#955500"/><stop offset=".7069" stop-color="#a14500"/><stop offset=".7081" stop-color="#a54000"/><stop offset=".7197" stop-color="#a94000"/><stop offset=".7382" stop-color="#aa4000"/><stop offset=".7462" stop-color="#a04000"/><stop offset=".7474" stop-color="#9c4200"/><stop offset=".7486" stop-color="#935000"/><stop offset=".7497" stop-color="#866600"/><stop offset=".7532" stop-color="#57bf00"/><stop offset=".7543" stop-color="#4bda00"/><stop offset=".7555" stop-color="#41f000"/><stop offset=".7566" stop-color="#3cfd00"/><stop offset=".7578" stop-color="#3bff00"/><stop offset=".7844" stop-color="#3bff00"/><stop offset=".8006" stop-color="#31ff00"/><stop offset=".8272" stop-color="#2bff00"/><stop offset=".9994" stop-color="#2aff00"/></linearGradient>
<linearGradient id="c11"><stop offset=".0006" stop-color="#38ff00"/><stop offset=".0272" stop-color="#34ff00"/><stop offset=".4006" stop-color="#32ff00"/><stop offset=".5069" stop-color="#30ff00"/><stop offset=".6133" stop-color="#29ff00"/><stop offset=".7058" stop-color="#29ff00"/><stop offset=".7231" stop-color="#3bff00"/><stop offset=".7832" stop-color="#3dff00"/><stop offset=".8006" stop-color="#32ff00"/><stop offset=".8272" stop-color="#2cff00"/><stop offset=".9994" stop-color="#2bff00"/></linearGradient>
<linearGradient id="c12"><stop offset=".0006" stop-color="#38ff00"/><stop offset=".0272" stop-color="#34ff00"/><stop offset=".4006" stop-color="#32ff00"/><stop offset=".5069" stop-color="#30ff00"/><stop offset=".6133" stop-color="#29ff00"/><stop offset=".7058" stop-color="#29ff00"/><stop offset=".7231" stop-color="#3bff00"/><stop offset=".7832" stop-color="#3dff00"/><stop offset=".8006" stop-color="#32ff00"/><stop offset=".8272" stop-color="#2cff00"/><stop offset=".9994" stop-color="#2bff00"/></linearGradient>
<linearGradient id="c13"><stop offset=".0006" stop-color="#39ff00"/><stop offset=".0272" stop-color="#35ff00"/><stop offset=".4006" stop-color="#33ff00"/><stop offset=".5069" stop-color="#31ff00"/><stop offset=".6133" stop-color="#29ff00"/><stop offset=".7058" stop-color="#29ff00"/><stop offset=".7231" stop-color="#3cff00"/><stop offset=".7832" stop-color="#3eff00"/><stop offset=".8006" stop-color="#33ff00"/><stop offset=".8272" stop-color="#2dff00"/><stop offset=".9994" stop-color="#2cff00"/></linearGradient>
<linearGradient id="c14"><stop offset=".0006" stop-color="#37ff00"/><stop offset=".0272" stop-color="#33ff00"/><stop offset=".4006" stop-color="#31ff00"/><stop offset=".5069" stop-color="#2fff00"/><stop offset=".6133" stop-color="#28ff00"/><stop offset=".7058" stop-color="#28ff00"/><stop offset=".7231" stop-color="#3aff00"/><stop offset=".7832" stop-color="#3cff00"/><stop offset=".8006" stop-color="#32ff00"/><stop offset=".8272" stop-color="#2bff00"/><stop offset=".9994" stop-color="#2aff00"/></linearGradient>
<linearGradient id="c15"><stop offset=".0006" stop-color="#34ff00"/><stop offset=".0272" stop-color="#30ff00"/><stop offset=".3994" stop-color="#2dff00"/><stop offset=".515" stop-color="#2bff00"/><stop offset=".5173" stop-color="#2dfa00"/><stop offset=".5185" stop-color="#30f200"/><stop offset=".5197" stop-color="#35e800"/><stop offset=".5208" stop-color="#3bdc00"/><stop offset=".5243" stop-color="#51ae00"/><stop offset=".5312" stop-color="#865500"/><stop offset=".5335" stop-color="#924400"/><stop offset=".5347" stop-color="#964000"/><stop offset=".5358" stop-color="#984000"/><stop offset=".5416" stop-color="#a14000"/><stop offset=".5578" stop-color="#af4000"/><stop offset=".5786" stop-color="#9d4000"/><stop offset=".5948" stop-color="#9f4000"/><stop offset=".6064" stop-color="#a54000"/><stop offset=".6179" stop-color="#994000"/><stop offset=".6191" stop-color="#954400"/><stop offset=".6214" stop-color="#875700"/><stop offset=".6225" stop-color="#7d6400"/><stop offset=".6283" stop-color="#4ab900"/><stop offset=".6306" stop-color="#39d900"/><stop offset=".6318" stop-color="#32e600"/><stop offset=".6341" stop-color="#29f900"/><stop offset=".6364" stop-color="#26ff00"/><stop offset=".7058" stop-color="#26ff00"/><stop offset=".7231" stop-color="#38ff00"/><stop offset=".7832" stop-color="#3aff00"/><stop offset=".8006" stop-color="#30ff00"/><stop offset=".8272" stop-color="#29ff00"/><stop offset=".9994" stop-color="#28ff00"/></linearGradient>
<linearGradient id="c16"><stop offset=".0006" stop-color="#34ff00"/><stop offset=".0272" stop-color="#30ff00"/><stop offset=".3994" stop-color="#2dff00"/><stop offset=".515" stop-color="#2bff00"/><stop offset=".5173" stop-color="#2dfa00"/><stop offset=".5185" stop-color="#30f200"/><stop offset=".5197" stop-color="#35e800"/><stop offset=".5208" stop-color="#3bdc00"/><stop offset=".5243" stop-color="#51ae00"/><stop offset=".5312" stop-color="#865500"/><stop offset=".5335" stop-color="#924400"/><stop offset=".5347" stop-color="#964000"/><stop offset=".5358" stop-color="#984000"/><stop offset=".5416" stop-color="#a14000"/><stop offset=".5578" stop-color="#af4000"/><stop offset=".5786" stop-color="#9d4000"/><stop offset=".5948" stop-color="#9f4000"/><stop offset=".6064" stop-color="#a54000"/><stop offset=".6168" stop-color="#9b4000"/><stop offset=".6202" stop-color="#954000"/><stop offset=".6376" stop-color="#ad4000"/><stop offset=".6457" stop-color="#ad4000"/><stop offset=".6595" stop-color="#9d4000"/><stop offset=".6653" stop-color="#994000"/><stop offset=".6665" stop-color="#954000"/><stop offset=".6688" stop-color="#824000"/><stop offset=".6699" stop-color="#824000"/><stop offset=".6723" stop-color="#954000"/><stop offset=".6734" stop-color="#9a4000"/><stop offset=".678" stop-color="#a04000"/><stop offset=".6931" stop-color="#a54000"/><stop offset=".7058" stop-color="#a44100"/><stop offset=".7069" stop-color="#9c4b00"/><stop offset=".7081" stop-color="#8f6000"/><stop offset=".7116" stop-color="#58b700"/><stop offset=".7127" stop-color="#47d400"/><stop offset=".7139" stop-color="#3aeb00"/><stop offset=".715" stop-color="#32fb00"/><stop offset=".7162" stop-color="#31ff00"/><stop offset=".7231" stop-color="#38ff00"/><stop offset=".7832" stop-color="#3aff00"/><stop offset=".8006" stop-color="#30ff00"/><stop offset=".8272" stop-color="#29ff00"/><stop offset=".9994" stop-color="#28ff00"/></linearGradient>
<linearGradient id="c17"><stop offset=".0006" stop-color="#33ff00"/><stop offset=".0272" stop-color="#2fff00"/><stop offset=".4006" stop-color="#2cff00"/><stop offset=".5069" stop-color="#2aff00"/><stop offset=".6064" stop-color="#26ff00"/><stop offset=".6075" stop-color="#27fd00"/><stop offset=".6087" stop-color="#2bf300"/><stop offset=".6098" stop-color="#33e400"/><stop offset=".6121" stop-color="#4ab900"/><stop offset=".6168" stop-color="#805c00"/><stop offset=".6179" stop-color="#8a4c00"/><stop offset=".6191" stop-color="#914200"/><stop offset=".6202" stop-color="#954000"/><stop offset=".6214" stop-color="#974000"/><stop offset=".6376" stop-color="#ad4000"/><stop offset=".6445" stop-color="#ad4000"/><stop offset=".6595" stop-color="#9d4000"/><stop offset=".6653" stop-color="#994000"/><stop offset=".6665" stop-color="#954000"/><stop offset=".6688" stop-color="#824000"/><stop offset=".6699" stop-color="#824000"/><stop offset=".6723" stop-color="#954000"/><stop offset=".6734" stop-color="#9a4000"/><stop offset=".6792" stop-color="#a14000"/><stop offset=".6931" stop-color="#a54000"/><stop offset=".7058" stop-color="#a44000"/><stop offset=".7197" stop-color="#a94000"/><stop offset=".7393" stop-color="#a94000"/><stop offset=".7462" stop-color="#a04000"/><stop offset=".7474" stop-color="#9c4200"/><stop offset=".7486" stop-color="#935000"/><stop offset=".7497" stop-color="#856600"/><stop offset=".7532" stop-color="#56bf00"/><stop offset=".7543" stop-color="#49da00"/><stop offset=".7555" stop-color="#3ff000"/><stop offset=".7566" stop-color="#3afd00"/><stop offset=".7578" stop-color="#39ff00"/><stop offset=".7844" stop-color="#3aff00"/><stop offset=".8006" stop-color="#2fff00"/><stop offset=".8272" stop-color="#29ff00"/><stop offset=".9994" stop-color="#28ff00"/></linearGradient>
<linearGradient id="c18"><stop offset=".0006" stop-color="#31ff00"/><stop offset=".0272" stop-color="#2cff00"/><stop offset=".4006" stop-color="#2aff00"/><stop offset=".6133" stop-color="#24ff00"/><stop offset=".6965" stop-color="#24ff00"/><stop offset=".6977" stop-color="#25fe00"/><stop offset=".6988" stop-color="#2bf500"/><stop offset=".7" stop-color="#37e100"/><stop offset=".7012" stop-color="#48c700"/><stop offset=".7046" stop-color="#846d00"/><stop offset=".7058" stop-color="#955500"/><stop offset=".7069" stop-color="#a14500"/><stop offset=".7081" stop-color="#a54000"/><stop offset=".7197" stop-color="#a94000"/><stop offset=".7382" stop-color="#aa4000"/><stop offset=".7462" stop-color="#a04000"/><stop offset=".7474" stop-color="#9c4200"/><stop offset=".7486" stop-color="#925000"/><stop offset=".7497" stop-color="#856600"/><stop offset=".7532" stop-color="#55bf00"/><stop offset=".7543" stop-color="#48da00"/><stop offset=".7555" stop-color="#3ef000"/><stop offset=".7566" stop-color="#39fd00"/><stop offset=".7578" stop-color="#38ff00"/><stop offset=".7844" stop-color="#38ff00"/><stop offset=".8006" stop-color="#2eff00"/><stop offset=".8272" stop-color="#28ff00"/><stop offset=".9994" stop-color="#26ff00"/></linearGradient>
<linearGradient id="c19"><stop offset=".0006" stop-color="#28ff00"/><stop offset=".0168" stop-color="#25ff00"/><stop offset=".0249" stop-color="#2cff00"/><stop offset=".4006" stop-color="#29ff00"/><stop offset=".6133" stop-color="#24ff00"/><stop offset=".7058" stop-color="#24ff00"/><stop offset=".7231" stop-color="#36ff00"/><stop offset=".7832" stop-color="#38ff00"/><stop offset=".8006" stop-color="#2dff00"/><stop offset=".8272" stop-color="#27ff00"/><stop offset=".9994" stop-color="#26ff00"/></linearGradient>
<linearGradient id="c20"><stop offset=".0006" stop-color="#3aff00"/><stop offset=".0272" stop-color="#36ff00"/><stop offset=".3994" stop-color="#31ff00"/><stop offset=".6133" stop-color="#27ff00"/><stop offset=".7058" stop-color="#27ff00"/><stop offset=".7231" stop-color="#39ff00"/><stop offset=".7832" stop-color="#3bff00"/><stop offset=".8006" stop-color="#30ff00"/><stop offset=".8272" stop-color="#2aff00"/><stop offset=".9994" stop-color="#29ff00"/></linearGradient>
<linearGradient id="c21"><stop offset=".0006" stop-color="#3fff00"/><stop offset=".0272" stop-color="#3bff00"/><stop offset=".4006" stop-color="#36ff00"/><stop offset=".5069" stop-color="#32ff00"/><stop offset=".6145" stop-color="#2aff00"/><stop offset=".7058" stop-color="#2aff00"/><stop offset=".7231" stop-color="#3cff00"/><stop offset=".7832" stop-color="#3eff00"/><stop offset=".8006" stop-color="#33ff00"/><stop offset=".8272" stop-color="#2dff00"/><stop offset=".9994" stop-color="#2cff00"/></linearGradient>
<linearGradient id="c22"><stop offset=".0006" stop-color="#3fff00"/><stop offset=".0272" stop-color="#3bff00"/><stop offset=".1301" stop-color="#3aff00"/><stop offset=".1416" stop-color="#40ff00"/><stop offset=".1578" stop-color="#40ff00"/><stop offset=".1694" stop-color="#3aff00"/><stop offset=".4006" stop-color="#36ff00"/><stop offset=".5069" stop-color="#32ff00"/><stop offset=".6145" stop-color="#2aff00"/><stop offset=".7058" stop-color="#2aff00"/><stop offset=".7231" stop-color="#3cff00"/><stop offset=".7832" stop-color="#3eff00"/><stop offset=".8006" stop-color="#33ff00"/><stop offset=".8272" stop-color="#2dff00"/><stop offset=".9994" stop-color="#2cff00"/></linearGradient>
<linearGradient id="c23"><stop offset=".0006" stop-color="#3fff00"/><stop offset=".0272" stop-color="#3bff00"/><stop offset=".1301" stop-color="#3aff00"/><stop offset=".1416" stop-color="#44ff00"/><stop offset=".1578" stop-color="#44ff00"/><stop offset=".1694" stop-color="#3aff00"/><stop offset=".3994" stop-color="#36ff00"/><stop offset=".515" stop-color="#31ff00"/><stop offset=".5173" stop-color="#33fa00"/><stop offset=".5197" stop-color="#3ae800"/><stop offset=".5208" stop-color="#40dc00"/><stop offset=".5243" stop-color="#55ae00"/><stop offset=".5312" stop-color="#865500"/><stop offset=".5335" stop-color="#924400"/><stop offset=".5347" stop-color="#964000"/><stop offset=".5358" stop-color="#984000"/><stop offset=".5416" stop-color="#a14000"/><stop offset=".5578" stop-color="#af4000"/><stop offset=".5786" stop-color="#9d4000"/><stop offset=".5948" stop-color="#9f4000"/><stop offset=".6064" stop-color="#a54000"/><stop offset=".6179" stop-color="#994000"/><stop offset=".6191" stop-color="#954400"/><stop offset=".6214" stop-color="#875700"/><stop offset=".6225" stop-color="#7e6400"/><stop offset=".6283" stop-color="#4db900"/><stop offset=".6306" stop-color="#3cd900"/><stop offset=".6318" stop-color="#35e600"/><stop offset=".6341" stop-color="#2df900"/><stop offset=".6364" stop-color="#2aff00"/><stop offset=".7058" stop-color="#2aff00"/><stop offset=".7231" stop-color="#3cff00"/><stop offset=".7832" stop-color="#3eff00"/><stop offset=".8006" stop-color="#33ff00"/><stop offset=".8272" stop-color="#2dff00"/><stop offset=".9994" stop-color="#2cff00"/></linearGradient>
<linearGradient id="c24"><stop offset=".0006" stop-color="#3eff00"/><stop offset=".0272" stop-color="#3aff00"/><stop offset=".1301" stop-color="#39ff00"/><stop offset=".1416" stop-color="#46ff00"/><stop offset=".1578" stop-color="#45ff00"/><stop offset=".1694" stop-color="#38ff00"/><stop offset=".3994" stop-color="#35ff00"/><stop offset=".515" stop-color="#30ff00"/><stop offset=".5173" stop-color="#32fa00"/><stop offset=".5197" stop-color="#39e800"/><stop offset=".5208" stop-color="#3fdc00"/><stop offset=".5243" stop-color="#54ae00"/><stop offset=".5312" stop-color="#865500"/><stop offset=".5335" stop-color="#924400"/><stop offset=".5347" stop-color="#964000"/><stop offset=".5358" stop-color="#984000"/><stop offset=".5416" stop-color="#a14000"/><stop offset=".5578" stop-color="#af4000"/><stop offset=".5786" stop-color="#9d4000"/><stop offset=".5948" stop-color="#9f4000"/><stop offset=".6064" stop-color="#a54000"/><stop offset=".6168" stop-color="#9b4000"/><stop offset=".6202" stop-color="#954000"/><stop offset=".6376" stop-color="#ad4000"/><stop offset=".6457" stop-color="#ad4000"/><stop offset=".6595" stop-color="#9d4000"/><stop offset=".6653" stop-color="#994000"/><stop offset=".6665" stop-color="#954000"/><stop offset=".6688" stop-color="#824000"/><stop offset=".6699" stop-color="#824000"/><stop offset=".6723" stop-color="#954000"/><stop offset=".6734" stop-color="#9a4000"/><stop offset=".678" stop-color="#a04000"/><stop offset=".6931" stop-color="#a54000"/><stop offset=".7058" stop-color="#a44100"/><stop offset=".7069" stop-color="#9d4b00"/><stop offset=".7081" stop-color="#8f6000"/><stop offset=".7116" stop-color="#5ab700"/><stop offset=".7127" stop-color="#49d400"/><stop offset=".7139" stop-color="#3deb00"/><stop offset=".715" stop-color="#35fb00"/><stop offset=".7162" stop-color="#34ff00"/><stop offset=".7231" stop-color="#3cff00"/><stop offset=".7832" stop-color="#3eff00"/><stop offset=".8006" stop-color="#33ff00"/><stop offset=".8272" stop-color="#2dff00"/><stop offset=".9994" stop-color="#2cff00"/></linearGradient>
<linearGradient id="c25"><stop offset=".0006" stop-color="#36ff00"/><stop offset=".0272" stop-color="#32ff00"/><stop offset=".1301" stop-color="#31ff00"/><stop offset=".1416" stop-color="#3dff00"/><stop offset=".1578" stop-color="#3dff00"/><stop offset=".1694" stop-color="#30ff00"/><stop offset=".4006" stop-color="#30ff00"/><stop offset=".5069" stop-color="#2dff00"/><stop offset=".6064" stop-color="#28ff00"/><stop offset=".6075" stop-color="#29fd00"/><stop offset=".6087" stop-color="#2df300"/><stop offset=".6098" stop-color="#35e400"/><stop offset=".6121" stop-color="#4bb900"/><stop offset=".6168" stop-color="#805c00"/><stop offset=".6179" stop-color="#8a4c00"/><stop offset=".6191" stop-color="#914200"/><stop offset=".6202" stop-color="#954000"/><stop offset=".6214" stop-color="#974000"/><stop offset=".6376" stop-color="#ad4000"/><stop offset=".6445" stop-color="#ad4000"/><stop offset=".6595" stop-color="#9d4000"/><stop offset=".6653" stop-color="#994000"/><stop offset=".6665" stop-color="#954000"/><stop offset=".6688" stop-color="#824000"/><stop offset=".6699" stop-color="#824000"/><stop offset=".6723" stop-color="#954000"/><stop offset=".6734" stop-color="#9a4000"/><stop offset=".6792" stop-color="#a14000"/><stop offset=".6931" stop-color="#a54000"/><stop offset=".7058" stop-color="#a44000"/><stop offset=".7197" stop-color="#a94000"/><stop offset=".7393" stop-color="#a94000"/><stop offset=".7462" stop-color="#a04000"/><stop offset=".7474" stop-color="#9c4200"/><stop offset=".7486" stop-color="#935000"/><stop offset=".7497" stop-color="#866600"/><stop offset=".7532" stop-color="#57bf00"/><stop offset=".7543" stop-color="#4bda00"/><stop offset=".7555" stop-color="#41f000"/><stop offset=".7566" stop-color="#3cfd00"/><stop offset=".7578" stop-color="#3bff00"/><stop offset=".7844" stop-color="#3bff00"/><stop offset=".8006" stop-color="#31ff00"/><stop offset=".8272" stop-color="#2bff00"/><stop offset=".9994" stop-color="#2aff00"/></linearGradient>
<linearGradient id="c26"><stop offset=".0006" stop-color="#33ff00"/><stop offset=".0272" stop-color="#2fff00"/><stop offset=".1301" stop-color="#2eff00"/><stop offset=".1416" stop-color="#3aff00"/><stop offset=".1578" stop-color="#3aff00"/><stop offset=".1694" stop-color="#2dff00"/><stop offset=".426" stop-color="#2cff00"/><stop offset=".4272" stop-color="#2eff00"/><stop offset=".4318" stop-color="#3eff00"/><stop offset=".4329" stop-color="#3eff00"/><stop offset=".448" stop-color="#3eff00"/><stop offset=".4538" stop-color="#2bff00"/><stop offset=".6133" stop-color="#26ff00"/><stop offset=".6965" stop-color="#26ff00"/><stop offset=".6977" stop-color="#26fe00"/><stop offset=".6988" stop-color="#2cf500"/><stop offset=".7" stop-color="#38e100"/><stop offset=".7012" stop-color="#48c700"/><stop offset=".7046" stop-color="#846d00"/><stop offset=".7058" stop-color="#955500"/><stop offset=".7069" stop-color="#a14500"/><stop offset=".7081" stop-color="#a54000"/><stop offset=".7197" stop-color="#a94000"/><stop offset=".7382" stop-color="#aa4000"/><stop offset=".7462" stop-color="#a04000"/><stop offset=".7474" stop-color="#9c4200"/><stop offset=".7486" stop-color="#935000"/><stop offset=".7497" stop-color="#856600"/><stop offset=".7532" stop-color="#56bf00"/><stop offset=".7543" stop-color="#49da00"/><stop offset=".7555" stop-color="#3ff000"/><stop offset=".7566" stop-color="#3afd00"/><stop offset=".7578" stop-color="#39ff00"/><stop offset=".7844" stop-color="#3aff00"/><stop offset=".8006" stop-color="#2fff00"/><stop offset=".8272" stop-color="#29ff00"/><stop offset=".9994" stop-color="#28ff00"/></linearGradient>
<linearGradient id="cL0" gradientUnits="userSpaceOnUse" x1="246.25" x2="273.23"><stop offset="0" stop-color="#3aff00" stop-opacity=".001"/><stop offset=".1538" stop-color="#3aff00" stop-opacity=".039"/><stop offset=".2692" stop-color="#3aff00" stop-opacity=".237"/><stop offset=".3654" stop-color="#3aff00" stop-opacity=".613"/><stop offset=".4423" stop-color="#3aff00" stop-opacity=".914"/><stop offset=".5" stop-color="#3aff00" stop-opacity="1"/><stop offset=".5577" stop-color="#3aff00" stop-opacity=".914"/><stop offset=".6346" stop-color="#3aff00" stop-opacity=".613"/><stop offset=".7308" stop-color="#3aff00" stop-opacity=".237"/><stop offset=".8462" stop-color="#3aff00" stop-opacity=".039"/><stop offset="1" stop-color="#3aff00" stop-opacity=".001"/></linearGradient>
<linearGradient id="cL1" gradientUnits="userSpaceOnUse" x1="423.77" x2="450.74"><stop offset="0" stop-color="#39ff00" stop-opacity=".001"/><stop offset=".1538" stop-color="#39ff00" stop-opacity=".039"/><stop offset=".2692" stop-color="#39ff00" stop-opacity=".237"/><stop offset=".3654" stop-color="#39ff00" stop-opacity=".613"/><stop offset=".4423" stop-color="#39ff00" stop-opacity=".914"/><stop offset=".5" stop-color="#39ff00" stop-opacity="1"/><stop offset=".5577" stop-color="#39ff00" stop-opacity=".914"/><stop offset=".6346" stop-color="#39ff00" stop-opacity=".613"/><stop offset=".7308" stop-color="#39ff00" stop-opacity=".237"/><stop offset=".8462" stop-color="#39ff00" stop-opacity=".039"/><stop offset="1" stop-color="#39ff00" stop-opacity=".001"/></linearGradient>
<linearGradient id="cL2" gradientUnits="userSpaceOnUse" x1="258.06" x2="263.73"><stop offset="0" stop-color="#990000" stop-opacity=".001"/><stop offset=".1538" stop-color="#990000" stop-opacity=".039"/><stop offset=".2692" stop-color="#990000" stop-opacity=".237"/><stop offset=".3654" stop-color="#990000" stop-opacity=".613"/><stop offset=".4423" stop-color="#990000" stop-opacity=".914"/><stop offset=".5" stop-color="#990000" stop-opacity="1"/><stop offset=".5577" stop-color="#990000" stop-opacity=".914"/><stop offset=".6346" stop-color="#990000" stop-opacity=".613"/><stop offset=".7308" stop-color="#990000" stop-opacity=".237"/><stop offset=".8462" stop-color="#990000" stop-opacity=".039"/><stop offset="1" stop-color="#990000" stop-opacity=".001"/></linearGradient>
<linearGradient id="cL3" gradientUnits="userSpaceOnUse" x1="293.79" x2="299.46"><stop offset="0" stop-color="#950000" stop-opacity=".001"/><stop offset=".1538" stop-color="#950000" stop-opacity=".039"/><stop offset=".2692" stop-color="#950000" stop-opacity=".237"/><stop offset=".3654" stop-color="#950000" stop-opacity=".613"/><stop offset=".4423" stop-color="#950000" stop-opacity=".914"/><stop offset=".5" stop-color="#950000" stop-opacity="1"/><stop offset=".5577" stop-color="#950000" stop-opacity=".914"/><stop offset=".6346" stop-color="#950000" stop-opacity=".613"/><stop offset=".7308" stop-color="#950000" stop-opacity=".237"/><stop offset=".8462" stop-color="#950000" stop-opacity=".039"/><stop offset="1" stop-color="#950000" stop-opacity=".001"/></linearGradient>
<linearGradient id="cL4" gradientUnits="userSpaceOnUse" x1="399.72" x2="410.24"><stop offset="0" stop-color="#ce0000" stop-opacity=".001"/><stop offset=".1538" stop-color="#ce0000" stop-opacity=".039"/><stop offset=".2692" stop-color="#ce0000" stop-opacity=".237"/><stop offset=".3654" stop-color="#ce0000" stop-opacity=".613"/><stop offset=".4423" stop-color="#ce0000" stop-opacity=".914"/><stop offset=".5" stop-color="#ce0000" stop-opacity="1"/><stop offset=".5577" stop-color="#ce0000" stop-opacity=".914"/><stop offset=".6346" stop-color="#ce0000" stop-opacity=".613"/><stop offset=".7308" stop-color="#ce0000" stop-opacity=".237"/><stop offset=".8462" stop-color="#ce0000" stop-opacity=".039"/><stop offset="1" stop-color="#ce0000" stop-opacity=".001"/></linearGradient>
<linearGradient id="cL5" gradientUnits="userSpaceOnUse" x1="398.98" x2="410.97"><stop offset="0" stop-color="#c80000" stop-opacity=".001"/><stop offset=".1538" stop-color="#c80000" stop-opacity=".039"/><stop offset=".2692" stop-color="#c80000" stop-opacity=".237"/><stop offset=".3654" stop-color="#c80000" stop-opacity=".613"/><stop offset=".4423" stop-color="#c80000" stop-opacity=".914"/><stop offset=".5" stop-color="#c80000" stop-opacity="1"/><stop offset=".5577" stop-color="#c80000" stop-opacity=".914"/><stop offset=".6346" stop-color="#c80000" stop-opacity=".613"/><stop offset=".7308" stop-color="#c80000" stop-opacity=".237"/><stop offset=".8462" stop-color="#c80000" stop-opacity=".039"/><stop offset="1" stop-color="#c80000" stop-opacity=".001"/></linearGradient>
<linearGradient id="cL6" gradientUnits="userSpaceOnUse" x1="497.65" x2="533.61"><stop offset="0" stop-color="#950000" stop-opacity=".001"/><stop offset=".1538" stop-color="#950000" stop-opacity=".039"/><stop offset=".2692" stop-color="#950000" stop-opacity=".237"/><stop offset=".3654" stop-color="#950000" stop-opacity=".613"/><stop offset=".4423" stop-color="#950000" stop-opacity=".914"/><stop offset=".5" stop-color="#950000" stop-opacity="1"/><stop offset=".5577" stop-color="#950000" stop-opacity=".914"/><stop offset=".6346" stop-color="#950000" stop-opacity=".613"/><stop offset=".7308" stop-color="#950000" stop-opacity=".237"/><stop offset=".8462" stop-color="#950000" stop-opacity=".039"/><stop offset="1" stop-color="#950000" stop-opacity=".001"/></linearGradient>
<linearGradient id="cL7" gradientUnits="userSpaceOnUse" x1="510.78" x2="520.49"><stop offset="0" stop-color="#c40000" stop-opacity=".001"/><stop offset=".1538" stop-color="#c40000" stop-opacity=".039"/><stop offset=".2692" stop-color="#c40000" stop-opacity=".237"/><stop offset=".3654" stop-color="#c40000" stop-opacity=".613"/><stop offset=".4423" stop-color="#c40000" stop-opacity=".914"/><stop offset=".5" stop-color="#c40000" stop-opacity="1"/><stop offset=".5577" stop-color="#c40000" stop-opacity=".914"/><stop offset=".6346" stop-color="#c40000" stop-opacity=".613"/><stop offset=".7308" stop-color="#c40000" stop-opacity=".237"/><stop offset=".8462" stop-color="#c40000" stop-opacity=".039"/><stop offset="1" stop-color="#c40000" stop-opacity=".001"/></linearGradient>
<linearGradient id="cL8" gradientUnits="userSpaceOnUse" x1="542.77" x2="548.43"><stop offset="0" stop-color="#9e0000" stop-opacity=".001"/><stop offset=".1538" stop-color="#9e0000" stop-opacity=".039"/><stop offset=".2692" stop-color="#9e0000" stop-opacity=".237"/><stop offset=".3654" stop-color="#9e0000" stop-opacity=".613"/><stop offset=".4423" stop-color="#9e0000" stop-opacity=".914"/><stop offset=".5" stop-color="#9e0000" stop-opacity="1"/><stop offset=".5577" stop-color="#9e0000" stop-opacity=".914"/><stop offset=".6346" stop-color="#9e0000" stop-opacity=".613"/><stop offset=".7308" stop-color="#9e0000" stop-opacity=".237"/><stop offset=".8462" stop-color="#9e0000" stop-opacity=".039"/><stop offset="1" stop-color="#9e0000" stop-opacity=".001"/></linearGradient>
<linearGradient id="cL9" gradientUnits="userSpaceOnUse" x1="743.05" x2="770.03"><stop offset="0" stop-color="#9f0000" stop-opacity=".001"/><stop offset=".1538" stop-color="#9f0000" stop-opacity=".039"/><stop offset=".2692" stop-color="#9f0000" stop-opacity=".237"/><stop offset=".3654" stop-color="#9f0000" stop-opacity=".613"/><stop offset=".4423" stop-color="#9f0000" stop-opacity=".914"/><stop offset=".5" stop-color="#9f0000" stop-opacity="1"/><stop offset=".5577" stop-color="#9f0000" stop-opacity=".914"/><stop offset=".6346" stop-color="#9f0000" stop-opacity=".613"/><stop offset=".7308" stop-color="#9f0000" stop-opacity=".237"/><stop offset=".8462" stop-color="#9f0000" stop-opacity=".039"/><stop offset="1" stop-color="#9f0000" stop-opacity=".001"/></linearGradient>
<linearGradient id="cL10" gradientUnits="userSpaceOnUse" x1="752.49" x2="760.59"><stop offset="0" stop-color="#c80000" stop-opacity=".001"/><stop offset=".1538" stop-color="#c80000" stop-opacity=".039"/><stop offset=".2692" stop-color="#c80000" stop-opacity=".237"/><stop offset=".3654" stop-color="#c80000" stop-opacity=".613"/><stop offset=".4423" stop-color="#c80000" stop-opacity=".914"/><stop offset=".5" stop-color="#c80000" stop-opacity="1"/><stop offset=".5577" stop-color="#c80000" stop-opacity=".914"/><stop offset=".6346" stop-color="#c80000" stop-opacity=".613"/><stop offset=".7308" stop-color="#c80000" stop-opacity=".237"/><stop offset=".8462" stop-color="#c80000" stop-opacity=".039"/><stop offset="1" stop-color="#c80000" stop-opacity=".001"/></linearGradient>
<linearGradient id="cL11" gradientUnits="userSpaceOnUse" x1="797.69" x2="830.66"><stop offset="0" stop-color="#9d0000" stop-opacity=".001"/><stop offset=".1538" stop-color="#9d0000" stop-opacity=".039"/><stop offset=".2692" stop-color="#9d0000" stop-opacity=".237"/><stop offset=".3654" stop-color="#9d0000" stop-opacity=".613"/><stop offset=".4423" stop-color="#9d0000" stop-opacity=".914"/><stop offset=".5" stop-color="#9d0000" stop-opacity="1"/><stop offset=".5577" stop-color="#9d0000" stop-opacity=".914"/><stop offset=".6346" stop-color="#9d0000" stop-opacity=".613"/><stop offset=".7308" stop-color="#9d0000" stop-opacity=".237"/><stop offset=".8462" stop-color="#9d0000" stop-opacity=".039"/><stop offset="1" stop-color="#9d0000" stop-opacity=".001"/></linearGradient>
<linearGradient id="cL12" gradientUnits="userSpaceOnUse" x1="809.32" x2="819.03"><stop offset="0" stop-color="#cb0000" stop-opacity=".001"/><stop offset=".1538" stop-color="#cb0000" stop-opacity=".039"/><stop offset=".2692" stop-color="#cb0000" stop-opacity=".237"/><stop offset=".3654" stop-color="#cb0000" stop-opacity=".613"/><stop offset=".4423" stop-color="#cb0000" stop-opacity=".914"/><stop offset=".5" stop-color="#cb0000" stop-opacity="1"/><stop offset=".5577" stop-color="#cb0000" stop-opacity=".914"/><stop offset=".6346" stop-color="#cb0000" stop-opacity=".613"/><stop offset=".7308" stop-color="#cb0000" stop-opacity=".237"/><stop offset=".8462" stop-color="#cb0000" stop-opacity=".039"/><stop offset="1" stop-color="#cb0000" stop-opacity=".001"/></linearGradient>
<filter id="Fc" filterUnits="userSpaceOnUse" x="134" y="1085" width="865" height="760" color-interpolation-filters="sRGB"><feTurbulence type="fractalNoise" baseFrequency="0.3 0.0003" numOctaves="3" seed="7" x="134" y="1085" width="865" height="29" result="f0"/><feTurbulence type="fractalNoise" baseFrequency="0.045 0.0003" numOctaves="2" seed="107" x="134" y="1085" width="865" height="29" result="c0"/><feTurbulence type="fractalNoise" baseFrequency="0.3 0.0003" numOctaves="3" seed="14" x="134" y="1114" width="865" height="28" result="f1"/><feTurbulence type="fractalNoise" baseFrequency="0.045 0.0003" numOctaves="2" seed="114" x="134" y="1114" width="865" height="28" result="c1"/><feTurbulence type="fractalNoise" baseFrequency="0.3 0.0003" numOctaves="3" seed="21" x="134" y="1142" width="865" height="28" result="f2"/><feTurbulence type="fractalNoise" baseFrequency="0.045 0.0003" numOctaves="2" seed="121" x="134" y="1142" width="865" height="28" result="c2"/><feTurbulence type="fractalNoise" baseFrequency="0.3 0.0003" numOctaves="3" seed="28" x="134" y="1170" width="865" height="28" result="f3"/><feTurbulence type="fractalNoise" baseFrequency="0.045 0.0003" numOctaves="2" seed="128" x="134" y="1170" width="865" height="28" result="c3"/><feTurbulence type="fractalNoise" baseFrequency="0.3 0.0003" numOctaves="3" seed="35" x="134" y="1198" width="865" height="28" result="f4"/><feTurbulence type="fractalNoise" baseFrequency="0.045 0.0003" numOctaves="2" seed="135" x="134" y="1198" width="865" height="28" result="c4"/><feTurbulence type="fractalNoise" baseFrequency="0.3 0.0003" numOctaves="3" seed="42" x="134" y="1226" width="865" height="28" result="f5"/><feTurbulence type="fractalNoise" baseFrequency="0.045 0.0003" numOctaves="2" seed="142" x="134" y="1226" width="865" height="28" result="c5"/><feTurbulence type="fractalNoise" baseFrequency="0.3 0.0003" numOctaves="3" seed="49" x="134" y="1254" width="865" height="28" result="f6"/><feTurbulence type="fractalNoise" baseFrequency="0.045 0.0003" numOctaves="2" seed="149" x="134" y="1254" width="865" height="28" result="c6"/><feTurbulence type="fractalNoise" baseFrequency="0.3 0.0003" numOctaves="3" seed="56" x="134" y="1282" width="865" height="28" result="f7"/><feTurbulence type="fractalNoise" baseFrequency="0.045 0.0003" numOctaves="2" seed="156" x="134" y="1282" width="865" height="28" result="c7"/><feTurbulence type="fractalNoise" baseFrequency="0.3 0.0003" numOctaves="3" seed="63" x="134" y="1310" width="865" height="29" result="f8"/><feTurbulence type="fractalNoise" baseFrequency="0.045 0.0003" numOctaves="2" seed="163" x="134" y="1310" width="865" height="29" result="c8"/><feTurbulence type="fractalNoise" baseFrequency="0.3 0.0003" numOctaves="3" seed="70" x="134" y="1339" width="865" height="28" result="f9"/><feTurbulence type="fractalNoise" baseFrequency="0.045 0.0003" numOctaves="2" seed="170" x="134" y="1339" width="865" height="28" result="c9"/><feTurbulence type="fractalNoise" baseFrequency="0.3 0.0003" numOctaves="3" seed="77" x="134" y="1367" width="865" height="28" result="f10"/><feTurbulence type="fractalNoise" baseFrequency="0.045 0.0003" numOctaves="2" seed="177" x="134" y="1367" width="865" height="28" result="c10"/><feTurbulence type="fractalNoise" baseFrequency="0.3 0.0003" numOctaves="3" seed="84" x="134" y="1395" width="865" height="28" result="f11"/><feTurbulence type="fractalNoise" baseFrequency="0.045 0.0003" numOctaves="2" seed="184" x="134" y="1395" width="865" height="28" result="c11"/><feTurbulence type="fractalNoise" baseFrequency="0.3 0.0003" numOctaves="3" seed="91" x="134" y="1423" width="865" height="28" result="f12"/><feTurbulence type="fractalNoise" baseFrequency="0.045 0.0003" numOctaves="2" seed="191" x="134" y="1423" width="865" height="28" result="c12"/><feTurbulence type="fractalNoise" baseFrequency="0.3 0.0003" numOctaves="3" seed="1" x="134" y="1451" width="865" height="28" result="f13"/><feTurbulence type="fractalNoise" baseFrequency="0.045 0.0003" numOctaves="2" seed="101" x="134" y="1451" width="865" height="28" result="c13"/><feTurbulence type="fractalNoise" baseFrequency="0.3 0.0003" numOctaves="3" seed="8" x="134" y="1479" width="865" height="28" result="f14"/><feTurbulence type="fractalNoise" baseFrequency="0.045 0.0003" numOctaves="2" seed="108" x="134" y="1479" width="865" height="28" result="c14"/><feTurbulence type="fractalNoise" baseFrequency="0.3 0.0003" numOctaves="3" seed="15" x="134" y="1507" width="865" height="29" result="f15"/><feTurbulence type="fractalNoise" baseFrequency="0.045 0.0003" numOctaves="2" seed="115" x="134" y="1507" width="865" height="29" result="c15"/><feTurbulence type="fractalNoise" baseFrequency="0.3 0.0003" numOctaves="3" seed="22" x="134" y="1536" width="865" height="28" result="f16"/><feTurbulence type="fractalNoise" baseFrequency="0.045 0.0003" numOctaves="2" seed="122" x="134" y="1536" width="865" height="28" result="c16"/><feTurbulence type="fractalNoise" baseFrequency="0.3 0.0003" numOctaves="3" seed="29" x="134" y="1564" width="865" height="28" result="f17"/><feTurbulence type="fractalNoise" baseFrequency="0.045 0.0003" numOctaves="2" seed="129" x="134" y="1564" width="865" height="28" result="c17"/><feTurbulence type="fractalNoise" baseFrequency="0.3 0.0003" numOctaves="3" seed="36" x="134" y="1592" width="865" height="28" result="f18"/><feTurbulence type="fractalNoise" baseFrequency="0.045 0.0003" numOctaves="2" seed="136" x="134" y="1592" width="865" height="28" result="c18"/><feTurbulence type="fractalNoise" baseFrequency="0.3 0.0003" numOctaves="3" seed="43" x="134" y="1620" width="865" height="28" result="f19"/><feTurbulence type="fractalNoise" baseFrequency="0.045 0.0003" numOctaves="2" seed="143" x="134" y="1620" width="865" height="28" result="c19"/><feTurbulence type="fractalNoise" baseFrequency="0.3 0.0003" numOctaves="3" seed="50" x="134" y="1648" width="865" height="28" result="f20"/><feTurbulence type="fractalNoise" baseFrequency="0.045 0.0003" numOctaves="2" seed="150" x="134" y="1648" width="865" height="28" result="c20"/><feTurbulence type="fractalNoise" baseFrequency="0.3 0.0003" numOctaves="3" seed="57" x="134" y="1676" width="865" height="28" result="f21"/><feTurbulence type="fractalNoise" baseFrequency="0.045 0.0003" numOctaves="2" seed="157" x="134" y="1676" width="865" height="28" result="c21"/><feTurbulence type="fractalNoise" baseFrequency="0.3 0.0003" numOctaves="3" seed="64" x="134" y="1704" width="865" height="28" result="f22"/><feTurbulence type="fractalNoise" baseFrequency="0.045 0.0003" numOctaves="2" seed="164" x="134" y="1704" width="865" height="28" result="c22"/><feTurbulence type="fractalNoise" baseFrequency="0.3 0.0003" numOctaves="3" seed="71" x="134" y="1732" width="865" height="29" result="f23"/><feTurbulence type="fractalNoise" baseFrequency="0.045 0.0003" numOctaves="2" seed="171" x="134" y="1732" width="865" height="29" result="c23"/><feTurbulence type="fractalNoise" baseFrequency="0.3 0.0003" numOctaves="3" seed="78" x="134" y="1761" width="865" height="28" result="f24"/><feTurbulence type="fractalNoise" baseFrequency="0.045 0.0003" numOctaves="2" seed="178" x="134" y="1761" width="865" height="28" result="c24"/><feTurbulence type="fractalNoise" baseFrequency="0.3 0.0003" numOctaves="3" seed="85" x="134" y="1789" width="865" height="28" result="f25"/><feTurbulence type="fractalNoise" baseFrequency="0.045 0.0003" numOctaves="2" seed="185" x="134" y="1789" width="865" height="28" result="c25"/><feTurbulence type="fractalNoise" baseFrequency="0.3 0.0003" numOctaves="3" seed="92" x="134" y="1817" width="865" height="28" result="f26"/><feTurbulence type="fractalNoise" baseFrequency="0.045 0.0003" numOctaves="2" seed="192" x="134" y="1817" width="865" height="28" result="c26"/><feMerge><feMergeNode in="f0"/><feMergeNode in="f1"/><feMergeNode in="f2"/><feMergeNode in="f3"/><feMergeNode in="f4"/><feMergeNode in="f5"/><feMergeNode in="f6"/><feMergeNode in="f7"/><feMergeNode in="f8"/><feMergeNode in="f9"/><feMergeNode in="f10"/><feMergeNode in="f11"/><feMergeNode in="f12"/><feMergeNode in="f13"/><feMergeNode in="f14"/><feMergeNode in="f15"/><feMergeNode in="f16"/><feMergeNode in="f17"/><feMergeNode in="f18"/><feMergeNode in="f19"/><feMergeNode in="f20"/><feMergeNode in="f21"/><feMergeNode in="f22"/><feMergeNode in="f23"/><feMergeNode in="f24"/><feMergeNode in="f25"/><feMergeNode in="f26"/></feMerge><feColorMatrix type="matrix" values="1 0 0 0 0 1 0 0 0 0 1 0 0 0 0 0 0 0 0 1"/><feComponentTransfer result="F"><feFuncR type="table" tableValues="0 .2 .5 .66 .78"/><feFuncG type="table" tableValues="0 .2 .5 .66 .78"/><feFuncB type="table" tableValues="0 .2 .5 .66 .78"/></feComponentTransfer><feMerge><feMergeNode in="c0"/><feMergeNode in="c1"/><feMergeNode in="c2"/><feMergeNode in="c3"/><feMergeNode in="c4"/><feMergeNode in="c5"/><feMergeNode in="c6"/><feMergeNode in="c7"/><feMergeNode in="c8"/><feMergeNode in="c9"/><feMergeNode in="c10"/><feMergeNode in="c11"/><feMergeNode in="c12"/><feMergeNode in="c13"/><feMergeNode in="c14"/><feMergeNode in="c15"/><feMergeNode in="c16"/><feMergeNode in="c17"/><feMergeNode in="c18"/><feMergeNode in="c19"/><feMergeNode in="c20"/><feMergeNode in="c21"/><feMergeNode in="c22"/><feMergeNode in="c23"/><feMergeNode in="c24"/><feMergeNode in="c25"/><feMergeNode in="c26"/></feMerge><feColorMatrix type="matrix" values="1 0 0 0 0 1 0 0 0 0 1 0 0 0 0 0 0 0 0 1" result="C"/><feTurbulence type="fractalNoise" baseFrequency="0.3 0.0001" numOctaves="2" seed="99"/><feColorMatrix type="matrix" values="1 0 0 0 0 1 0 0 0 0 1 0 0 0 0 0 0 0 0 1"/><feComponentTransfer result="G"><feFuncR type="table" tableValues="0 .2 .5 .66 .78"/><feFuncG type="table" tableValues="0 .2 .5 .66 .78"/><feFuncB type="table" tableValues="0 .2 .5 .66 .78"/></feComponentTransfer><feComposite in="F" in2="C" operator="arithmetic" k1="0" k2="0.36" k3="0.05" k4="0" result="n1"/><feComposite in="n1" in2="G" operator="arithmetic" k1="0" k2="1" k3="0.2" k4="0" result="n"/><feColorMatrix in="SourceGraphic" type="matrix" values="1 0 0 0 0 1 0 0 0 0 1 0 0 0 0 0 0 0 0 1" result="V"/><feColorMatrix in="SourceGraphic" type="matrix" values="0 1 0 0 0 0 1 0 0 0 0 1 0 0 0 0 0 0 0 1" result="M"/><feComposite in="n" in2="M" operator="arithmetic" k1="1" k2="0" k3="0" k4="0" result="nm"/><feComposite in="V" in2="nm" operator="arithmetic" k1="0" k2="1" k3="1" k4="0"/><feComponentTransfer><feFuncR type="table" tableValues=".242 .250 .258 .265 .271 .275 .278 .280 .281 .281 .280 .276 .270 .260 .244 .221 .196 .183 .179 .176 .169 .154 .146 .138 .125 .111 .095 .069 .030 .004 .007 .043 .096 .141 .172 .194 .216 .247 .291 .341 .391 .446 .504 .562 .617 .672 .724 .774 .820 .863 .903 .939 .973 .996 .997 .995 .989 .979 .968 .961 .960 .963 .969 .977"/><feFuncG type="table" tableValues=".150 .165 .182 .198 .215 .234 .256 .278 .301 .323 .345 .367 .389 .412 .436 .460 .485 .507 .529 .550 .570 .590 .609 .628 .646 .663 .680 .695 .708 .720 .731 .741 .750 .758 .767 .776 .784 .792 .797 .801 .803 .802 .799 .794 .788 .779 .770 .760 .750 .741 .733 .729 .730 .743 .766 .789 .814 .839 .864 .889 .913 .937 .961 .984"/><feFuncB type="table" tableValues=".660 .708 .751 .795 .836 .871 .899 .922 .941 .958 .972 .983 .991 .995 .999 .997 .989 .980 .968 .952 .936 .922 .908 .897 .888 .876 .860 .839 .816 .792 .766 .739 .712 .684 .655 .625 .592 .557 .519 .479 .435 .391 .348 .304 .261 .223 .191 .165 .153 .160 .177 .210 .239 .237 .220 .203 .189 .177 .164 .154 .142 .127 .106 .081"/></feComponentTransfer></filter>
<linearGradient id="d0"><stop offset=".0006" stop-color="#42ff00"/><stop offset=".0271" stop-color="#3eff00"/><stop offset=".2662" stop-color="#3bff00"/><stop offset=".4001" stop-color="#3cff00"/><stop offset=".4221" stop-color="#3eff00"/><stop offset=".4232" stop-color="#43ff00"/><stop offset=".4278" stop-color="#68ff00"/><stop offset=".429" stop-color="#69ff00"/><stop offset=".4417" stop-color="#6aff00"/><stop offset=".4428" stop-color="#69ff00"/><stop offset=".4475" stop-color="#44ff00"/><stop offset=".4486" stop-color="#40ff00"/><stop offset=".4602" stop-color="#41ff00"/><stop offset=".5225" stop-color="#38ff00"/><stop offset=".5237" stop-color="#38ff00"/><stop offset=".5248" stop-color="#3cf700"/><stop offset=".526" stop-color="#43e900"/><stop offset=".5271" stop-color="#4ed500"/><stop offset=".5283" stop-color="#5cbd00"/><stop offset=".5318" stop-color="#8b7300"/><stop offset=".5329" stop-color="#985f00"/><stop offset=".5341" stop-color="#a35200"/><stop offset=".5352" stop-color="#a84d00"/><stop offset=".5364" stop-color="#ab4d00"/><stop offset=".5421" stop-color="#b54d00"/><stop offset=".5537" stop-color="#bb4d00"/><stop offset=".5652" stop-color="#b34d00"/><stop offset=".5779" stop-color="#a64d00"/><stop offset=".5953" stop-color="#ae4d00"/><stop offset=".608" stop-color="#a64d00"/><stop offset=".6172" stop-color="#9c4c00"/><stop offset=".6195" stop-color="#974d00"/><stop offset=".6345" stop-color="#974d00"/><stop offset=".6426" stop-color="#884d00"/><stop offset=".6518" stop-color="#954d00"/><stop offset=".6611" stop-color="#ae4d00"/><stop offset=".6749" stop-color="#ba4d00"/><stop offset=".6876" stop-color="#b34d00"/><stop offset=".6957" stop-color="#a44d00"/><stop offset=".7015" stop-color="#a14d00"/><stop offset=".7027" stop-color="#9c5400"/><stop offset=".7038" stop-color="#916500"/><stop offset=".7073" stop-color="#64b500"/><stop offset=".7084" stop-color="#57d000"/><stop offset=".7096" stop-color="#4de800"/><stop offset=".7107" stop-color="#48f800"/><stop offset=".7119" stop-color="#47ff00"/><stop offset=".7142" stop-color="#4cff00"/><stop offset=".72" stop-color="#50ff00"/><stop offset=".7731" stop-color="#54ff00"/><stop offset=".7835" stop-color="#39ff00"/><stop offset=".7846" stop-color="#37ff00"/><stop offset=".8262" stop-color="#2cff00"/><stop offset=".9994" stop-color="#26ff00"/></linearGradient>
<linearGradient id="d1"><stop offset=".0006" stop-color="#41ff00"/><stop offset=".0271" stop-color="#3dff00"/><stop offset=".2662" stop-color="#3aff00"/><stop offset=".4001" stop-color="#3bff00"/><stop offset=".4602" stop-color="#40ff00"/><stop offset=".5733" stop-color="#30ff00"/><stop offset=".608" stop-color="#2dff00"/><stop offset=".6091" stop-color="#2dfe00"/><stop offset=".6103" stop-color="#31f600"/><stop offset=".6114" stop-color="#39e700"/><stop offset=".6126" stop-color="#45d200"/><stop offset=".6172" stop-color="#7d7000"/><stop offset=".6184" stop-color="#895e00"/><stop offset=".6195" stop-color="#925100"/><stop offset=".6207" stop-color="#964d00"/><stop offset=".6345" stop-color="#974d00"/><stop offset=".6426" stop-color="#884d00"/><stop offset=".6518" stop-color="#954d00"/><stop offset=".6611" stop-color="#ae4d00"/><stop offset=".6749" stop-color="#ba4d00"/><stop offset=".6876" stop-color="#b34d00"/><stop offset=".6957" stop-color="#a44d00"/><stop offset=".7015" stop-color="#a14d00"/><stop offset=".7038" stop-color="#985500"/><stop offset=".705" stop-color="#975600"/><stop offset=".7073" stop-color="#9c4e00"/><stop offset=".7084" stop-color="#9d4d00"/><stop offset=".7165" stop-color="#9b4d00"/><stop offset=".7177" stop-color="#994d00"/><stop offset=".72" stop-color="#8d4d00"/><stop offset=".7223" stop-color="#994d00"/><stop offset=".7234" stop-color="#9b4d00"/><stop offset=".7373" stop-color="#a04d00"/><stop offset=".7442" stop-color="#984d00"/><stop offset=".7454" stop-color="#925500"/><stop offset=".7465" stop-color="#886600"/><stop offset=".75" stop-color="#59b600"/><stop offset=".7512" stop-color="#4cd200"/><stop offset=".7523" stop-color="#41e900"/><stop offset=".7535" stop-color="#3af900"/><stop offset=".7546" stop-color="#38ff00"/><stop offset=".7731" stop-color="#39ff00"/><stop offset=".8274" stop-color="#2bff00"/><stop offset=".9994" stop-color="#25ff00"/></linearGradient>
<linearGradient id="d2"><stop offset=".0006" stop-color="#54ff00"/><stop offset=".0341" stop-color="#51ff00"/><stop offset=".0456" stop-color="#59ff00"/><stop offset=".0606" stop-color="#59ff00"/><stop offset=".0722" stop-color="#50ff00"/><stop offset=".1068" stop-color="#4cff00"/><stop offset=".2662" stop-color="#47ff00"/><stop offset=".4001" stop-color="#47ff00"/><stop offset=".4602" stop-color="#4aff00"/><stop offset=".5064" stop-color="#45ff00"/><stop offset=".5733" stop-color="#38ff00"/><stop offset=".6126" stop-color="#33ff00"/><stop offset=".6969" stop-color="#32ff00"/><stop offset=".698" stop-color="#33fd00"/><stop offset=".6992" stop-color="#3af100"/><stop offset=".7003" stop-color="#45dc00"/><stop offset=".7015" stop-color="#54c300"/><stop offset=".705" stop-color="#837000"/><stop offset=".7061" stop-color="#8f5b00"/><stop offset=".7073" stop-color="#974f00"/><stop offset=".7084" stop-color="#984d00"/><stop offset=".7165" stop-color="#974d00"/><stop offset=".7177" stop-color="#954d00"/><stop offset=".72" stop-color="#8b4d00"/><stop offset=".7223" stop-color="#954d00"/><stop offset=".7234" stop-color="#974d00"/><stop offset=".7373" stop-color="#9c4d00"/><stop offset=".7442" stop-color="#944d00"/><stop offset=".7454" stop-color="#8f5500"/><stop offset=".7465" stop-color="#866600"/><stop offset=".75" stop-color="#5cb600"/><stop offset=".7512" stop-color="#50d200"/><stop offset=".7523" stop-color="#46e900"/><stop offset=".7535" stop-color="#40f900"/><stop offset=".7546" stop-color="#3eff00"/><stop offset=".7731" stop-color="#40ff00"/><stop offset=".8274" stop-color="#32ff00"/><stop offset=".9994" stop-color="#2bff00"/></linearGradient>
<linearGradient id="d3"><stop offset=".0006" stop-color="#54ff00"/><stop offset=".0341" stop-color="#51ff00"/><stop offset=".0456" stop-color="#59ff00"/><stop offset=".0606" stop-color="#59ff00"/><stop offset=".0722" stop-color="#50ff00"/><stop offset=".1068" stop-color="#4cff00"/><stop offset=".2662" stop-color="#47ff00"/><stop offset=".4001" stop-color="#47ff00"/><stop offset=".4602" stop-color="#4aff00"/><stop offset=".5064" stop-color="#45ff00"/><stop offset=".5733" stop-color="#38ff00"/><stop offset=".6137" stop-color="#33ff00"/><stop offset=".7061" stop-color="#32ff00"/><stop offset=".72" stop-color="#3bff00"/><stop offset=".7731" stop-color="#40ff00"/><stop offset=".8274" stop-color="#32ff00"/><stop offset=".9994" stop-color="#2bff00"/></linearGradient>
<linearGradient id="d4"><stop offset=".0006" stop-color="#4dff00"/><stop offset=".0341" stop-color="#4aff00"/><stop offset=".0456" stop-color="#4eff00"/><stop offset=".0606" stop-color="#4dff00"/><stop offset=".0722" stop-color="#49ff00"/><stop offset=".1068" stop-color="#47ff00"/><stop offset=".2662" stop-color="#44ff00"/><stop offset=".4001" stop-color="#44ff00"/><stop offset=".4602" stop-color="#48ff00"/><stop offset=".5064" stop-color="#43ff00"/><stop offset=".5733" stop-color="#36ff00"/><stop offset=".6137" stop-color="#32ff00"/><stop offset=".7061" stop-color="#30ff00"/><stop offset=".72" stop-color="#3aff00"/><stop offset=".7731" stop-color="#3eff00"/><stop offset=".8274" stop-color="#30ff00"/><stop offset=".9994" stop-color="#2aff00"/></linearGradient>
<linearGradient id="d5"><stop offset=".0006" stop-color="#46ff00"/><stop offset=".0271" stop-color="#43ff00"/><stop offset=".2662" stop-color="#40ff00"/><stop offset=".4001" stop-color="#41ff00"/><stop offset=".4602" stop-color="#45ff00"/><stop offset=".5064" stop-color="#40ff00"/><stop offset=".5733" stop-color="#34ff00"/><stop offset=".6137" stop-color="#30ff00"/><stop offset=".7061" stop-color="#2fff00"/><stop offset=".72" stop-color="#38ff00"/><stop offset=".7731" stop-color="#3cff00"/><stop offset=".8274" stop-color="#2fff00"/><stop offset=".9994" stop-color="#28ff00"/></linearGradient>
<linearGradient id="d6"><stop offset=".0006" stop-color="#45ff00"/><stop offset=".0271" stop-color="#42ff00"/><stop offset=".2662" stop-color="#3eff00"/><stop offset=".4001" stop-color="#40ff00"/><stop offset=".4602" stop-color="#44ff00"/><stop offset=".5064" stop-color="#3fff00"/><stop offset=".5733" stop-color="#33ff00"/><stop offset=".6137" stop-color="#2fff00"/><stop offset=".7061" stop-color="#2eff00"/><stop offset=".72" stop-color="#37ff00"/><stop offset=".7731" stop-color="#3cff00"/><stop offset=".8274" stop-color="#2eff00"/><stop offset=".9994" stop-color="#28ff00"/></linearGradient>
<linearGradient id="d7"><stop offset=".0006" stop-color="#2aff00"/><stop offset=".0167" stop-color="#28ff00"/><stop offset=".0179" stop-color="#2aff00"/><stop offset=".0237" stop-color="#3eff00"/><stop offset=".0248" stop-color="#3fff00"/><stop offset=".2673" stop-color="#3bff00"/><stop offset=".4001" stop-color="#3cff00"/><stop offset=".4602" stop-color="#41ff00"/><stop offset=".5225" stop-color="#38ff00"/><stop offset=".5237" stop-color="#38ff00"/><stop offset=".5248" stop-color="#3cf700"/><stop offset=".526" stop-color="#43e900"/><stop offset=".5271" stop-color="#4ed500"/><stop offset=".5283" stop-color="#5cbd00"/><stop offset=".5318" stop-color="#8b7300"/><stop offset=".5329" stop-color="#985f00"/><stop offset=".5341" stop-color="#a35200"/><stop offset=".5352" stop-color="#a84d00"/><stop offset=".5364" stop-color="#ab4d00"/><stop offset=".541" stop-color="#b44d00"/><stop offset=".5537" stop-color="#bb4d00"/><stop offset=".5652" stop-color="#b34d00"/><stop offset=".5768" stop-color="#a64d00"/><stop offset=".5953" stop-color="#ae4d00"/><stop offset=".608" stop-color="#a64d00"/><stop offset=".6172" stop-color="#9c4d00"/><stop offset=".6184" stop-color="#994f00"/><stop offset=".6195" stop-color="#945600"/><stop offset=".6207" stop-color="#8c6100"/><stop offset=".6218" stop-color="#826f00"/><stop offset=".6264" stop-color="#53b800"/><stop offset=".6288" stop-color="#3fdb00"/><stop offset=".6299" stop-color="#37ea00"/><stop offset=".6311" stop-color="#32f500"/><stop offset=".6322" stop-color="#2efd00"/><stop offset=".6334" stop-color="#2dff00"/><stop offset=".7061" stop-color="#2cff00"/><stop offset=".72" stop-color="#36ff00"/><stop offset=".7731" stop-color="#3aff00"/><stop offset=".8274" stop-color="#2cff00"/><stop offset=".9994" stop-color="#26ff00"/></linearGradient>
<linearGradient id="d8"><stop offset=".0006" stop-color="#45ff00"/><stop offset=".0271" stop-color="#42ff00"/><stop offset=".2662" stop-color="#3eff00"/><stop offset=".4001" stop-color="#40ff00"/><stop offset=".4602" stop-color="#44ff00"/><stop offset=".5225" stop-color="#3bff00"/><stop offset=".5237" stop-color="#3bff00"/><stop offset=".5248" stop-color="#3ff700"/><stop offset=".526" stop-color="#46e900"/><stop offset=".5271" stop-color="#50d500"/><stop offset=".5283" stop-color="#5dbd00"/><stop offset=".5318" stop-color="#8b7300"/><stop offset=".5329" stop-color="#995f00"/><stop offset=".5341" stop-color="#a35200"/><stop offset=".5352" stop-color="#a84d00"/><stop offset=".5364" stop-color="#ab4d00"/><stop offset=".5421" stop-color="#b54d00"/><stop offset=".5537" stop-color="#bb4d00"/><stop offset=".5652" stop-color="#b34d00"/><stop offset=".5779" stop-color="#a64d00"/><stop offset=".5953" stop-color="#ae4d00"/><stop offset=".608" stop-color="#a64d00"/><stop offset=".6172" stop-color="#9c4c00"/><stop offset=".6195" stop-color="#974d00"/><stop offset=".6207" stop-color="#964c00"/><stop offset=".6345" stop-color="#974d00"/><stop offset=".6426" stop-color="#884d00"/><stop offset=".6518" stop-color="#954d00"/><stop offset=".6611" stop-color="#ae4d00"/><stop offset=".6749" stop-color="#ba4d00"/><stop offset=".6876" stop-color="#b34d00"/><stop offset=".6957" stop-color="#a44d00"/><stop offset=".7015" stop-color="#a14d00"/><stop offset=".7027" stop-color="#9c5400"/><stop offset=".7038" stop-color="#916500"/><stop offset=".705" stop-color="#817c00"/><stop offset=".7084" stop-color="#4cd000"/><stop offset=".7096" stop-color="#3ee800"/><stop offset=".7107" stop-color="#35f800"/><stop offset=".7119" stop-color="#32ff00"/><stop offset=".72" stop-color="#37ff00"/><stop offset=".7731" stop-color="#3cff00"/><stop offset=".8274" stop-color="#2eff00"/><stop offset=".9994" stop-color="#28ff00"/></linearGradient>
<linearGradient id="d9"><stop offset=".0006" stop-color="#46ff00"/><stop offset=".0271" stop-color="#43ff00"/><stop offset=".2662" stop-color="#40ff00"/><stop offset=".4001" stop-color="#41ff00"/><stop offset=".4602" stop-color="#45ff00"/><stop offset=".608" stop-color="#30ff00"/><stop offset=".6091" stop-color="#30fe00"/><stop offset=".6103" stop-color="#34f600"/><stop offset=".6114" stop-color="#3ce700"/><stop offset=".6126" stop-color="#47d200"/><stop offset=".6172" stop-color="#7e7000"/><stop offset=".6184" stop-color="#8a5e00"/><stop offset=".6195" stop-color="#925100"/><stop offset=".6207" stop-color="#964d00"/><stop offset=".6345" stop-color="#974d00"/><stop offset=".6426" stop-color="#884d00"/><stop offset=".6518" stop-color="#954d00"/><stop offset=".6611" stop-color="#ae4d00"/><stop offset=".6749" stop-color="#ba4d00"/><stop offset=".6876" stop-color="#b34d00"/><stop offset=".6957" stop-color="#a44d00"/><stop offset=".7015" stop-color="#a14d00"/><stop offset=".7038" stop-color="#985500"/><stop offset=".705" stop-color="#975600"/><stop offset=".7073" stop-color="#9c4e00"/><stop offset=".7084" stop-color="#9d4d00"/><stop offset=".7165" stop-color="#9b4d00"/><stop offset=".7177" stop-color="#994d00"/><stop offset=".72" stop-color="#8d4d00"/><stop offset=".7223" stop-color="#994d00"/><stop offset=".7234" stop-color="#9b4d00"/><stop offset=".7373" stop-color="#a04d00"/><stop offset=".7442" stop-color="#984d00"/><stop offset=".7454" stop-color="#925500"/><stop offset=".7465" stop-color="#886600"/><stop offset=".75" stop-color="#5bb600"/><stop offset=".7512" stop-color="#4ed200"/><stop offset=".7523" stop-color="#44e900"/><stop offset=".7535" stop-color="#3df900"/><stop offset=".7546" stop-color="#3bff00"/><stop offset=".7731" stop-color="#3cff00"/><stop offset=".8274" stop-color="#2fff00"/><stop offset=".9994" stop-color="#28ff00"/></linearGradient>
<linearGradient id="d10"><stop offset=".0006" stop-color="#45ff00"/><stop offset=".0271" stop-color="#42ff00"/><stop offset=".2662" stop-color="#3eff00"/><stop offset=".4001" stop-color="#40ff00"/><stop offset=".4602" stop-color="#44ff00"/><stop offset=".5064" stop-color="#3fff00"/><stop offset=".5733" stop-color="#33ff00"/><stop offset=".6126" stop-color="#2fff00"/><stop offset=".6969" stop-color="#2eff00"/><stop offset=".698" stop-color="#2ffd00"/><stop offset=".6992" stop-color="#36f100"/><stop offset=".7003" stop-color="#42dc00"/><stop offset=".7015" stop-color="#51c300"/><stop offset=".705" stop-color="#827000"/><stop offset=".7061" stop-color="#8f5b00"/><stop offset=".7073" stop-color="#964f00"/><stop offset=".7084" stop-color="#974d00"/><stop offset=".7165" stop-color="#974d00"/><stop offset=".7177" stop-color="#954d00"/><stop offset=".72" stop-color="#8a4d00"/><stop offset=".7223" stop-color="#954d00"/><stop offset=".7234" stop-color="#974d00"/><stop offset=".7373" stop-color="#9c4d00"/><stop offset=".7442" stop-color="#944d00"/><stop offset=".7454" stop-color="#8e5500"/><stop offset=".7465" stop-color="#856600"/><stop offset=".75" stop-color="#5ab600"/><stop offset=".7512" stop-color="#4dd200"/><stop offset=".7523" stop-color="#43e900"/><stop offset=".7535" stop-color="#3df900"/><stop offset=".7546" stop-color="#3aff00"/><stop offset=".7731" stop-color="#3cff00"/><stop offset=".8274" stop-color="#2eff00"/><stop offset=".9994" stop-color="#28ff00"/></linearGradient>
<linearGradient id="d11"><stop offset=".0006" stop-color="#47ff00"/><stop offset=".0271" stop-color="#44ff00"/><stop offset=".2662" stop-color="#41ff00"/><stop offset=".4001" stop-color="#42ff00"/><stop offset=".4602" stop-color="#46ff00"/><stop offset=".5064" stop-color="#41ff00"/><stop offset=".5733" stop-color="#35ff00"/><stop offset=".6137" stop-color="#30ff00"/><stop offset=".7061" stop-color="#2fff00"/><stop offset=".72" stop-color="#39ff00"/><stop offset=".7731" stop-color="#3dff00"/><stop offset=".8274" stop-color="#2fff00"/><stop offset=".9994" stop-color="#29ff00"/></linearGradient>
<linearGradient id="d12"><stop offset=".0006" stop-color="#47ff00"/><stop offset=".0271" stop-color="#44ff00"/><stop offset=".2662" stop-color="#41ff00"/><stop offset=".4001" stop-color="#42ff00"/><stop offset=".4602" stop-color="#46ff00"/><stop offset=".5064" stop-color="#41ff00"/><stop offset=".5733" stop-color="#35ff00"/><stop offset=".6137" stop-color="#30ff00"/><stop offset=".7061" stop-color="#2fff00"/><stop offset=".72" stop-color="#39ff00"/><stop offset=".7731" stop-color="#3dff00"/><stop offset=".8274" stop-color="#2fff00"/><stop offset=".9994" stop-color="#29ff00"/></linearGradient>
<linearGradient id="d13"><stop offset=".0006" stop-color="#48ff00"/><stop offset=".0271" stop-color="#45ff00"/><stop offset=".2662" stop-color="#42ff00"/><stop offset=".4001" stop-color="#43ff00"/><stop offset=".4602" stop-color="#47ff00"/><stop offset=".5064" stop-color="#42ff00"/><stop offset=".5733" stop-color="#35ff00"/><stop offset=".6137" stop-color="#31ff00"/><stop offset=".7061" stop-color="#30ff00"/><stop offset=".72" stop-color="#39ff00"/><stop offset=".7731" stop-color="#3eff00"/><stop offset=".8274" stop-color="#30ff00"/><stop offset=".9994" stop-color="#29ff00"/></linearGradient>
<linearGradient id="d14"><stop offset=".0006" stop-color="#46ff00"/><stop offset=".0271" stop-color="#43ff00"/><stop offset=".2662" stop-color="#40ff00"/><stop offset=".4001" stop-color="#41ff00"/><stop offset=".4602" stop-color="#45ff00"/><stop offset=".5064" stop-color="#40ff00"/><stop offset=".5733" stop-color="#34ff00"/><stop offset=".6137" stop-color="#30ff00"/><stop offset=".7061" stop-color="#2fff00"/><stop offset=".72" stop-color="#38ff00"/><stop offset=".7731" stop-color="#3cff00"/><stop offset=".8274" stop-color="#2fff00"/><stop offset=".9994" stop-color="#28ff00"/></linearGradient>
<linearGradient id="d15"><stop offset=".0006" stop-color="#43ff00"/><stop offset=".0271" stop-color="#40ff00"/><stop offset=".2662" stop-color="#3cff00"/><stop offset=".4001" stop-color="#3dff00"/><stop offset=".4602" stop-color="#42ff00"/><stop offset=".5225" stop-color="#39ff00"/><stop offset=".5237" stop-color="#39ff00"/><stop offset=".5248" stop-color="#3df700"/><stop offset=".526" stop-color="#44e900"/><stop offset=".5271" stop-color="#4fd500"/><stop offset=".5283" stop-color="#5cbd00"/><stop offset=".5318" stop-color="#8b7300"/><stop offset=".5329" stop-color="#985f00"/><stop offset=".5341" stop-color="#a35200"/><stop offset=".5352" stop-color="#a84d00"/><stop offset=".5364" stop-color="#ab4d00"/><stop offset=".541" stop-color="#b44d00"/><stop offset=".5537" stop-color="#bb4d00"/><stop offset=".5652" stop-color="#b34d00"/><stop offset=".5768" stop-color="#a64d00"/><stop offset=".5953" stop-color="#ae4d00"/><stop offset=".608" stop-color="#a64d00"/><stop offset=".6172" stop-color="#9c4d00"/><stop offset=".6184" stop-color="#994f00"/><stop offset=".6195" stop-color="#945600"/><stop offset=".6207" stop-color="#8c6100"/><stop offset=".6218" stop-color="#826f00"/><stop offset=".6264" stop-color="#53b800"/><stop offset=".6288" stop-color="#40db00"/><stop offset=".6299" stop-color="#38ea00"/><stop offset=".6311" stop-color="#32f500"/><stop offset=".6334" stop-color="#2dff00"/><stop offset=".7061" stop-color="#2dff00"/><stop offset=".72" stop-color="#36ff00"/><stop offset=".7731" stop-color="#3aff00"/><stop offset=".8274" stop-color="#2dff00"/><stop offset=".9994" stop-color="#26ff00"/></linearGradient>
<linearGradient id="d16"><stop offset=".0006" stop-color="#43ff00"/><stop offset=".0271" stop-color="#40ff00"/><stop offset=".2662" stop-color="#3cff00"/><stop offset=".4001" stop-color="#3dff00"/><stop offset=".4602" stop-color="#42ff00"/><stop offset=".5225" stop-color="#39ff00"/><stop offset=".5237" stop-color="#39ff00"/><stop offset=".5248" stop-color="#3df700"/><stop offset=".526" stop-color="#44e900"/><stop offset=".5271" stop-color="#4fd500"/><stop offset=".5283" stop-color="#5cbd00"/><stop offset=".5318" stop-color="#8b7300"/><stop offset=".5329" stop-color="#985f00"/><stop offset=".5341" stop-color="#a35200"/><stop offset=".5352" stop-color="#a84d00"/><stop offset=".5364" stop-color="#ab4d00"/><stop offset=".5421" stop-color="#b54d00"/><stop offset=".5537" stop-color="#bb4d00"/><stop offset=".5652" stop-color="#b34d00"/><stop offset=".5779" stop-color="#a64d00"/><stop offset=".5953" stop-color="#ae4d00"/><stop offset=".608" stop-color="#a64d00"/><stop offset=".6172" stop-color="#9c4c00"/><stop offset=".6195" stop-color="#974d00"/><stop offset=".6345" stop-color="#974d00"/><stop offset=".6426" stop-color="#884d00"/><stop offset=".6518" stop-color="#954d00"/><stop offset=".6611" stop-color="#ae4d00"/><stop offset=".6749" stop-color="#ba4d00"/><stop offset=".6876" stop-color="#b34d00"/><stop offset=".6957" stop-color="#a44d00"/><stop offset=".7015" stop-color="#a14d00"/><stop offset=".7027" stop-color="#9c5400"/><stop offset=".7038" stop-color="#906500"/><stop offset=".705" stop-color="#817c00"/><stop offset=".7084" stop-color="#4bd000"/><stop offset=".7096" stop-color="#3de800"/><stop offset=".7107" stop-color="#34f800"/><stop offset=".7119" stop-color="#30ff00"/><stop offset=".72" stop-color="#36ff00"/><stop offset=".7731" stop-color="#3aff00"/><stop offset=".8274" stop-color="#2dff00"/><stop offset=".9994" stop-color="#26ff00"/></linearGradient>
<linearGradient id="d17"><stop offset=".0006" stop-color="#42ff00"/><stop offset=".0271" stop-color="#3eff00"/><stop offset=".2662" stop-color="#3bff00"/><stop offset=".4001" stop-color="#3cff00"/><stop offset=".4602" stop-color="#41ff00"/><stop offset=".5064" stop-color="#3bff00"/><stop offset=".5733" stop-color="#31ff00"/><stop offset=".608" stop-color="#2eff00"/><stop offset=".6091" stop-color="#2efe00"/><stop offset=".6103" stop-color="#32f600"/><stop offset=".6114" stop-color="#3ae700"/><stop offset=".6126" stop-color="#45d200"/><stop offset=".6172" stop-color="#7e7000"/><stop offset=".6184" stop-color="#895e00"/><stop offset=".6195" stop-color="#925100"/><stop offset=".6207" stop-color="#964d00"/><stop offset=".6345" stop-color="#974d00"/><stop offset=".6426" stop-color="#884d00"/><stop offset=".6518" stop-color="#954d00"/><stop offset=".6611" stop-color="#ae4d00"/><stop offset=".6749" stop-color="#ba4d00"/><stop offset=".6876" stop-color="#b34d00"/><stop offset=".6957" stop-color="#a44d00"/><stop offset=".7015" stop-color="#a14d00"/><stop offset=".7038" stop-color="#985500"/><stop offset=".705" stop-color="#975600"/><stop offset=".7073" stop-color="#9c4e00"/><stop offset=".7084" stop-color="#9d4d00"/><stop offset=".7165" stop-color="#9b4d00"/><stop offset=".7177" stop-color="#994d00"/><stop offset=".72" stop-color="#8d4d00"/><stop offset=".7223" stop-color="#994d00"/><stop offset=".7234" stop-color="#9b4d00"/><stop offset=".7373" stop-color="#a04d00"/><stop offset=".7442" stop-color="#984d00"/><stop offset=".7454" stop-color="#925500"/><stop offset=".7465" stop-color="#886600"/><stop offset=".75" stop-color="#5ab600"/><stop offset=".7512" stop-color="#4cd200"/><stop offset=".7523" stop-color="#42e900"/><stop offset=".7535" stop-color="#3bf900"/><stop offset=".7546" stop-color="#38ff00"/><stop offset=".7731" stop-color="#3aff00"/><stop offset=".8274" stop-color="#2cff00"/><stop offset=".9994" stop-color="#26ff00"/></linearGradient>
<linearGradient id="d18"><stop offset=".0006" stop-color="#3fff00"/><stop offset=".0271" stop-color="#3cff00"/><stop offset=".2662" stop-color="#39ff00"/><stop offset=".4001" stop-color="#3aff00"/><stop offset=".4602" stop-color="#3eff00"/><stop offset=".5733" stop-color="#2fff00"/><stop offset=".6137" stop-color="#2cff00"/><stop offset=".6969" stop-color="#2bff00"/><stop offset=".698" stop-color="#2cfd00"/><stop offset=".6992" stop-color="#33f100"/><stop offset=".7003" stop-color="#3fdc00"/><stop offset=".7015" stop-color="#4fc300"/><stop offset=".705" stop-color="#817000"/><stop offset=".7061" stop-color="#8e5b00"/><stop offset=".7073" stop-color="#964f00"/><stop offset=".7084" stop-color="#974d00"/><stop offset=".7165" stop-color="#964d00"/><stop offset=".7177" stop-color="#954d00"/><stop offset=".72" stop-color="#8a4d00"/><stop offset=".7223" stop-color="#954d00"/><stop offset=".7234" stop-color="#974d00"/><stop offset=".7373" stop-color="#9b4d00"/><stop offset=".7442" stop-color="#934d00"/><stop offset=".7454" stop-color="#8e5500"/><stop offset=".7465" stop-color="#846600"/><stop offset=".75" stop-color="#58b600"/><stop offset=".7512" stop-color="#4bd200"/><stop offset=".7523" stop-color="#40e900"/><stop offset=".7535" stop-color="#39f900"/><stop offset=".7546" stop-color="#37ff00"/><stop offset=".7731" stop-color="#39ff00"/><stop offset=".8274" stop-color="#2bff00"/><stop offset=".9994" stop-color="#24ff00"/></linearGradient>
<linearGradient id="d19"><stop offset=".0006" stop-color="#30ff00"/><stop offset=".0167" stop-color="#2eff00"/><stop offset=".0237" stop-color="#3bff00"/><stop offset=".0248" stop-color="#3cff00"/><stop offset=".2673" stop-color="#38ff00"/><stop offset=".4001" stop-color="#39ff00"/><stop offset=".4602" stop-color="#3dff00"/><stop offset=".5733" stop-color="#2eff00"/><stop offset=".6137" stop-color="#2bff00"/><stop offset=".7061" stop-color="#2aff00"/><stop offset=".72" stop-color="#34ff00"/><stop offset=".7731" stop-color="#38ff00"/><stop offset=".8274" stop-color="#2aff00"/><stop offset=".9994" stop-color="#24ff00"/></linearGradient>
<linearGradient id="d20"><stop offset=".0006" stop-color="#49ff00"/><stop offset=".0271" stop-color="#46ff00"/><stop offset=".2662" stop-color="#41ff00"/><stop offset=".4001" stop-color="#40ff00"/><stop offset=".4602" stop-color="#44ff00"/><stop offset=".5733" stop-color="#32ff00"/><stop offset=".6137" stop-color="#2eff00"/><stop offset=".7061" stop-color="#2dff00"/><stop offset=".72" stop-color="#37ff00"/><stop offset=".7731" stop-color="#3bff00"/><stop offset=".8274" stop-color="#2dff00"/><stop offset=".9994" stop-color="#27ff00"/></linearGradient>
<linearGradient id="d21"><stop offset=".0006" stop-color="#4eff00"/><stop offset=".0271" stop-color="#4bff00"/><stop offset=".2662" stop-color="#47ff00"/><stop offset=".4001" stop-color="#46ff00"/><stop offset=".4602" stop-color="#49ff00"/><stop offset=".5064" stop-color="#43ff00"/><stop offset=".5733" stop-color="#36ff00"/><stop offset=".6137" stop-color="#32ff00"/><stop offset=".7061" stop-color="#30ff00"/><stop offset=".72" stop-color="#3aff00"/><stop offset=".7731" stop-color="#3eff00"/><stop offset=".8274" stop-color="#30ff00"/><stop offset=".9994" stop-color="#2aff00"/></linearGradient>
<linearGradient id="d22"><stop offset=".0006" stop-color="#4eff00"/><stop offset=".0271" stop-color="#4bff00"/><stop offset=".1299" stop-color="#4aff00"/><stop offset=".1415" stop-color="#50ff00"/><stop offset=".1576" stop-color="#50ff00"/><stop offset=".1703" stop-color="#49ff00"/><stop offset=".2662" stop-color="#47ff00"/><stop offset=".4001" stop-color="#46ff00"/><stop offset=".4602" stop-color="#49ff00"/><stop offset=".5064" stop-color="#43ff00"/><stop offset=".5733" stop-color="#36ff00"/><stop offset=".6137" stop-color="#32ff00"/><stop offset=".7061" stop-color="#30ff00"/><stop offset=".72" stop-color="#3aff00"/><stop offset=".7731" stop-color="#3eff00"/><stop offset=".8274" stop-color="#30ff00"/><stop offset=".9994" stop-color="#2aff00"/></linearGradient>
<linearGradient id="d23"><stop offset=".0006" stop-color="#4eff00"/><stop offset=".0271" stop-color="#4bff00"/><stop offset=".1299" stop-color="#4aff00"/><stop offset=".1415" stop-color="#54ff00"/><stop offset=".1576" stop-color="#53ff00"/><stop offset=".1703" stop-color="#49ff00"/><stop offset=".4001" stop-color="#46ff00"/><stop offset=".4602" stop-color="#49ff00"/><stop offset=".5225" stop-color="#3fff00"/><stop offset=".5237" stop-color="#3fff00"/><stop offset=".5248" stop-color="#42f700"/><stop offset=".526" stop-color="#49e900"/><stop offset=".5271" stop-color="#53d500"/><stop offset=".5283" stop-color="#60bd00"/><stop offset=".5318" stop-color="#8c7300"/><stop offset=".5329" stop-color="#995f00"/><stop offset=".5341" stop-color="#a35200"/><stop offset=".5352" stop-color="#a84d00"/><stop offset=".5364" stop-color="#ab4d00"/><stop offset=".541" stop-color="#b44d00"/><stop offset=".5537" stop-color="#bb4d00"/><stop offset=".5652" stop-color="#b34d00"/><stop offset=".5768" stop-color="#a64d00"/><stop offset=".5953" stop-color="#ae4d00"/><stop offset=".608" stop-color="#a64d00"/><stop offset=".6172" stop-color="#9c4d00"/><stop offset=".6184" stop-color="#9a4f00"/><stop offset=".6195" stop-color="#945600"/><stop offset=".6207" stop-color="#8c6100"/><stop offset=".6218" stop-color="#826f00"/><stop offset=".6264" stop-color="#56b800"/><stop offset=".6288" stop-color="#43db00"/><stop offset=".6299" stop-color="#3bea00"/><stop offset=".6311" stop-color="#36f500"/><stop offset=".6334" stop-color="#31ff00"/><stop offset=".7061" stop-color="#30ff00"/><stop offset=".72" stop-color="#3aff00"/><stop offset=".7731" stop-color="#3eff00"/><stop offset=".8274" stop-color="#30ff00"/><stop offset=".9994" stop-color="#2aff00"/></linearGradient>
<linearGradient id="d24"><stop offset=".0006" stop-color="#4dff00"/><stop offset=".0271" stop-color="#4aff00"/><stop offset=".1299" stop-color="#49ff00"/><stop offset=".1415" stop-color="#55ff00"/><stop offset=".1576" stop-color="#55ff00"/><stop offset=".1703" stop-color="#48ff00"/><stop offset=".4001" stop-color="#45ff00"/><stop offset=".4602" stop-color="#48ff00"/><stop offset=".5225" stop-color="#3eff00"/><stop offset=".5237" stop-color="#3eff00"/><stop offset=".5248" stop-color="#41f700"/><stop offset=".526" stop-color="#48e900"/><stop offset=".5271" stop-color="#52d500"/><stop offset=".5283" stop-color="#5fbd00"/><stop offset=".5318" stop-color="#8c7300"/><stop offset=".5329" stop-color="#995f00"/><stop offset=".5341" stop-color="#a35200"/><stop offset=".5352" stop-color="#a84d00"/><stop offset=".5364" stop-color="#ab4d00"/><stop offset=".5421" stop-color="#b54d00"/><stop offset=".5537" stop-color="#bb4d00"/><stop offset=".5652" stop-color="#b34d00"/><stop offset=".5779" stop-color="#a64d00"/><stop offset=".5953" stop-color="#ae4d00"/><stop offset=".608" stop-color="#a64d00"/><stop offset=".6172" stop-color="#9c4c00"/><stop offset=".6207" stop-color="#964c00"/><stop offset=".6345" stop-color="#974d00"/><stop offset=".6426" stop-color="#884d00"/><stop offset=".6518" stop-color="#954d00"/><stop offset=".6611" stop-color="#ae4d00"/><stop offset=".6749" stop-color="#ba4d00"/><stop offset=".6876" stop-color="#b34d00"/><stop offset=".6957" stop-color="#a44d00"/><stop offset=".7015" stop-color="#a14d00"/><stop offset=".7027" stop-color="#9c5400"/><stop offset=".7038" stop-color="#916500"/><stop offset=".705" stop-color="#827c00"/><stop offset=".7084" stop-color="#4ed000"/><stop offset=".7096" stop-color="#40e800"/><stop offset=".7107" stop-color="#37f800"/><stop offset=".7119" stop-color="#34ff00"/><stop offset=".72" stop-color="#39ff00"/><stop offset=".7731" stop-color="#3eff00"/><stop offset=".8274" stop-color="#30ff00"/><stop offset=".9994" stop-color="#29ff00"/></linearGradient>
<linearGradient id="d25"><stop offset=".0006" stop-color="#45ff00"/><stop offset=".0271" stop-color="#42ff00"/><stop offset=".1299" stop-color="#40ff00"/><stop offset=".1415" stop-color="#4dff00"/><stop offset=".1588" stop-color="#4dff00"/><stop offset=".1703" stop-color="#40ff00"/><stop offset=".399" stop-color="#40ff00"/><stop offset=".4602" stop-color="#44ff00"/><stop offset=".5064" stop-color="#3fff00"/><stop offset=".5733" stop-color="#33ff00"/><stop offset=".608" stop-color="#30ff00"/><stop offset=".6091" stop-color="#30fe00"/><stop offset=".6103" stop-color="#34f600"/><stop offset=".6114" stop-color="#3ce700"/><stop offset=".6126" stop-color="#46d200"/><stop offset=".6172" stop-color="#7e7000"/><stop offset=".6184" stop-color="#8a5e00"/><stop offset=".6195" stop-color="#925100"/><stop offset=".6207" stop-color="#964d00"/><stop offset=".6345" stop-color="#974d00"/><stop offset=".6426" stop-color="#884d00"/><stop offset=".6518" stop-color="#954d00"/><stop offset=".6611" stop-color="#ae4d00"/><stop offset=".6749" stop-color="#ba4d00"/><stop offset=".6876" stop-color="#b34d00"/><stop offset=".6957" stop-color="#a44d00"/><stop offset=".7015" stop-color="#a14d00"/><stop offset=".7038" stop-color="#985500"/><stop offset=".705" stop-color="#975600"/><stop offset=".7073" stop-color="#9c4e00"/><stop offset=".7084" stop-color="#9d4d00"/><stop offset=".7165" stop-color="#9b4d00"/><stop offset=".7177" stop-color="#994d00"/><stop offset=".72" stop-color="#8d4d00"/><stop offset=".7223" stop-color="#994d00"/><stop offset=".7234" stop-color="#9b4d00"/><stop offset=".7373" stop-color="#a04d00"/><stop offset=".7442" stop-color="#984d00"/><stop offset=".7454" stop-color="#925500"/><stop offset=".7465" stop-color="#886600"/><stop offset=".75" stop-color="#5bb600"/><stop offset=".7512" stop-color="#4ed200"/><stop offset=".7523" stop-color="#43e900"/><stop offset=".7535" stop-color="#3df900"/><stop offset=".7546" stop-color="#3aff00"/><stop offset=".7731" stop-color="#3cff00"/><stop offset=".8274" stop-color="#2eff00"/><stop offset=".9994" stop-color="#28ff00"/></linearGradient>
<linearGradient id="d26"><stop offset=".0006" stop-color="#42ff00"/><stop offset=".0271" stop-color="#3eff00"/><stop offset=".1299" stop-color="#3dff00"/><stop offset=".1415" stop-color="#4aff00"/><stop offset=".1588" stop-color="#49ff00"/><stop offset=".1703" stop-color="#3dff00"/><stop offset=".4001" stop-color="#3cff00"/><stop offset=".4267" stop-color="#3fff00"/><stop offset=".4313" stop-color="#59ff00"/><stop offset=".4324" stop-color="#5dff00"/><stop offset=".4475" stop-color="#5eff00"/><stop offset=".4486" stop-color="#5aff00"/><stop offset=".4532" stop-color="#41ff00"/><stop offset=".4544" stop-color="#40ff00"/><stop offset=".5064" stop-color="#3bff00"/><stop offset=".5733" stop-color="#31ff00"/><stop offset=".6126" stop-color="#2dff00"/><stop offset=".6969" stop-color="#2cff00"/><stop offset=".698" stop-color="#2dfd00"/><stop offset=".6992" stop-color="#34f100"/><stop offset=".7003" stop-color="#40dc00"/><stop offset=".7015" stop-color="#50c300"/><stop offset=".705" stop-color="#827000"/><stop offset=".7061" stop-color="#8e5b00"/><stop offset=".7073" stop-color="#964f00"/><stop offset=".7084" stop-color="#974d00"/><stop offset=".7165" stop-color="#964d00"/><stop offset=".7177" stop-color="#954d00"/><stop offset=".72" stop-color="#8a4d00"/><stop offset=".7223" stop-color="#954d00"/><stop offset=".7234" stop-color="#974d00"/><stop offset=".7373" stop-color="#9b4d00"/><stop offset=".7442" stop-color="#944d00"/><stop offset=".7454" stop-color="#8e5500"/><stop offset=".7465" stop-color="#846600"/><stop offset=".75" stop-color="#59b600"/><stop offset=".7512" stop-color="#4cd200"/><stop offset=".7523" stop-color="#41e900"/><stop offset=".7535" stop-color="#3bf900"/><stop offset=".7546" stop-color="#38ff00"/><stop offset=".7731" stop-color="#3aff00"/><stop offset=".8274" stop-color="#2cff00"/><stop offset=".9994" stop-color="#26ff00"/></linearGradient>
<linearGradient id="dL0" gradientUnits="userSpaceOnUse" x1="1442.61" x2="1469.62"><stop offset="0" stop-color="#4cff00" stop-opacity=".001"/><stop offset=".1538" stop-color="#4cff00" stop-opacity=".039"/><stop offset=".2692" stop-color="#4cff00" stop-opacity=".237"/><stop offset=".3654" stop-color="#4cff00" stop-opacity=".613"/><stop offset=".4423" stop-color="#4cff00" stop-opacity=".914"/><stop offset=".5" stop-color="#4cff00" stop-opacity="1"/><stop offset=".5577" stop-color="#4cff00" stop-opacity=".914"/><stop offset=".6346" stop-color="#4cff00" stop-opacity=".613"/><stop offset=".7308" stop-color="#4cff00" stop-opacity=".237"/><stop offset=".8462" stop-color="#4cff00" stop-opacity=".039"/><stop offset="1" stop-color="#4cff00" stop-opacity=".001"/></linearGradient>
<linearGradient id="dL1" gradientUnits="userSpaceOnUse" x1="1620.37" x2="1647.38"><stop offset="0" stop-color="#4bff00" stop-opacity=".001"/><stop offset=".1538" stop-color="#4bff00" stop-opacity=".039"/><stop offset=".2692" stop-color="#4bff00" stop-opacity=".237"/><stop offset=".3654" stop-color="#4bff00" stop-opacity=".613"/><stop offset=".4423" stop-color="#4bff00" stop-opacity=".914"/><stop offset=".5" stop-color="#4bff00" stop-opacity="1"/><stop offset=".5577" stop-color="#4bff00" stop-opacity=".914"/><stop offset=".6346" stop-color="#4bff00" stop-opacity=".613"/><stop offset=".7308" stop-color="#4bff00" stop-opacity=".237"/><stop offset=".8462" stop-color="#4bff00" stop-opacity=".039"/><stop offset="1" stop-color="#4bff00" stop-opacity=".001"/></linearGradient>
<linearGradient id="dL2" gradientUnits="userSpaceOnUse" x1="1490.22" x2="1495.89"><stop offset="0" stop-color="#a60000" stop-opacity=".001"/><stop offset=".1538" stop-color="#a60000" stop-opacity=".039"/><stop offset=".2692" stop-color="#a60000" stop-opacity=".237"/><stop offset=".3654" stop-color="#a60000" stop-opacity=".613"/><stop offset=".4423" stop-color="#a60000" stop-opacity=".914"/><stop offset=".5" stop-color="#a60000" stop-opacity="1"/><stop offset=".5577" stop-color="#a60000" stop-opacity=".914"/><stop offset=".6346" stop-color="#a60000" stop-opacity=".613"/><stop offset=".7308" stop-color="#a60000" stop-opacity=".237"/><stop offset=".8462" stop-color="#a60000" stop-opacity=".039"/><stop offset="1" stop-color="#a60000" stop-opacity=".001"/></linearGradient>
<linearGradient id="dL3" gradientUnits="userSpaceOnUse" x1="1597.10" x2="1606.01"><stop offset="0" stop-color="#ce0000" stop-opacity=".001"/><stop offset=".1538" stop-color="#ce0000" stop-opacity=".039"/><stop offset=".2692" stop-color="#ce0000" stop-opacity=".237"/><stop offset=".3654" stop-color="#ce0000" stop-opacity=".613"/><stop offset=".4423" stop-color="#ce0000" stop-opacity=".914"/><stop offset=".5" stop-color="#ce0000" stop-opacity="1"/><stop offset=".5577" stop-color="#ce0000" stop-opacity=".914"/><stop offset=".6346" stop-color="#ce0000" stop-opacity=".613"/><stop offset=".7308" stop-color="#ce0000" stop-opacity=".237"/><stop offset=".8462" stop-color="#ce0000" stop-opacity=".039"/><stop offset="1" stop-color="#ce0000" stop-opacity=".001"/></linearGradient>
<linearGradient id="dL4" gradientUnits="userSpaceOnUse" x1="1596.15" x2="1606.95"><stop offset="0" stop-color="#c60000" stop-opacity=".001"/><stop offset=".1538" stop-color="#c60000" stop-opacity=".039"/><stop offset=".2692" stop-color="#c60000" stop-opacity=".237"/><stop offset=".3654" stop-color="#c60000" stop-opacity=".613"/><stop offset=".4423" stop-color="#c60000" stop-opacity=".914"/><stop offset=".5" stop-color="#c60000" stop-opacity="1"/><stop offset=".5577" stop-color="#c60000" stop-opacity=".914"/><stop offset=".6346" stop-color="#c60000" stop-opacity=".613"/><stop offset=".7308" stop-color="#c60000" stop-opacity=".237"/><stop offset=".8462" stop-color="#c60000" stop-opacity=".039"/><stop offset="1" stop-color="#c60000" stop-opacity=".001"/></linearGradient>
<linearGradient id="dL5" gradientUnits="userSpaceOnUse" x1="1686.85" x2="1737.87"><stop offset="0" stop-color="#ac0000" stop-opacity=".001"/><stop offset=".1538" stop-color="#ac0000" stop-opacity=".039"/><stop offset=".2692" stop-color="#ac0000" stop-opacity=".237"/><stop offset=".3654" stop-color="#ac0000" stop-opacity=".613"/><stop offset=".4423" stop-color="#ac0000" stop-opacity=".914"/><stop offset=".5" stop-color="#ac0000" stop-opacity="1"/><stop offset=".5577" stop-color="#ac0000" stop-opacity=".914"/><stop offset=".6346" stop-color="#ac0000" stop-opacity=".613"/><stop offset=".7308" stop-color="#ac0000" stop-opacity=".237"/><stop offset=".8462" stop-color="#ac0000" stop-opacity=".039"/><stop offset="1" stop-color="#ac0000" stop-opacity=".001"/></linearGradient>
<linearGradient id="dL6" gradientUnits="userSpaceOnUse" x1="1707.26" x2="1717.46"><stop offset="0" stop-color="#d70000" stop-opacity=".001"/><stop offset=".1538" stop-color="#d70000" stop-opacity=".039"/><stop offset=".2692" stop-color="#d70000" stop-opacity=".237"/><stop offset=".3654" stop-color="#d70000" stop-opacity=".613"/><stop offset=".4423" stop-color="#d70000" stop-opacity=".914"/><stop offset=".5" stop-color="#d70000" stop-opacity="1"/><stop offset=".5577" stop-color="#d70000" stop-opacity=".914"/><stop offset=".6346" stop-color="#d70000" stop-opacity=".613"/><stop offset=".7308" stop-color="#d70000" stop-opacity=".237"/><stop offset=".8462" stop-color="#d70000" stop-opacity=".039"/><stop offset="1" stop-color="#d70000" stop-opacity=".001"/></linearGradient>
<linearGradient id="dL7" gradientUnits="userSpaceOnUse" x1="1739.54" x2="1745.21"><stop offset="0" stop-color="#a90000" stop-opacity=".001"/><stop offset=".1538" stop-color="#a90000" stop-opacity=".039"/><stop offset=".2692" stop-color="#a90000" stop-opacity=".237"/><stop offset=".3654" stop-color="#a90000" stop-opacity=".613"/><stop offset=".4423" stop-color="#a90000" stop-opacity=".914"/><stop offset=".5" stop-color="#a90000" stop-opacity="1"/><stop offset=".5577" stop-color="#a90000" stop-opacity=".914"/><stop offset=".6346" stop-color="#a90000" stop-opacity=".613"/><stop offset=".7308" stop-color="#a90000" stop-opacity=".237"/><stop offset=".8462" stop-color="#a90000" stop-opacity=".039"/><stop offset="1" stop-color="#a90000" stop-opacity=".001"/></linearGradient>
<linearGradient id="dL8" gradientUnits="userSpaceOnUse" x1="1949.55" x2="1957.66"><stop offset="0" stop-color="#a60000" stop-opacity=".001"/><stop offset=".1538" stop-color="#a60000" stop-opacity=".039"/><stop offset=".2692" stop-color="#a60000" stop-opacity=".237"/><stop offset=".3654" stop-color="#a60000" stop-opacity=".613"/><stop offset=".4423" stop-color="#a60000" stop-opacity=".914"/><stop offset=".5" stop-color="#a60000" stop-opacity="1"/><stop offset=".5577" stop-color="#a60000" stop-opacity=".914"/><stop offset=".6346" stop-color="#a60000" stop-opacity=".613"/><stop offset=".7308" stop-color="#a60000" stop-opacity=".237"/><stop offset=".8462" stop-color="#a60000" stop-opacity=".039"/><stop offset="1" stop-color="#a60000" stop-opacity=".001"/></linearGradient>
<linearGradient id="dL9" gradientUnits="userSpaceOnUse" x1="1993.31" x2="2029.32"><stop offset="0" stop-color="#a50000" stop-opacity=".001"/><stop offset=".1538" stop-color="#a50000" stop-opacity=".039"/><stop offset=".2692" stop-color="#a50000" stop-opacity=".237"/><stop offset=".3654" stop-color="#a50000" stop-opacity=".613"/><stop offset=".4423" stop-color="#a50000" stop-opacity=".914"/><stop offset=".5" stop-color="#a50000" stop-opacity="1"/><stop offset=".5577" stop-color="#a50000" stop-opacity=".914"/><stop offset=".6346" stop-color="#a50000" stop-opacity=".613"/><stop offset=".7308" stop-color="#a50000" stop-opacity=".237"/><stop offset=".8462" stop-color="#a50000" stop-opacity=".039"/><stop offset="1" stop-color="#a50000" stop-opacity=".001"/></linearGradient>
<linearGradient id="dL10" gradientUnits="userSpaceOnUse" x1="2006.05" x2="2016.58"><stop offset="0" stop-color="#d20000" stop-opacity=".001"/><stop offset=".1538" stop-color="#d20000" stop-opacity=".039"/><stop offset=".2692" stop-color="#d20000" stop-opacity=".237"/><stop offset=".3654" stop-color="#d20000" stop-opacity=".613"/><stop offset=".4423" stop-color="#d20000" stop-opacity=".914"/><stop offset=".5" stop-color="#d20000" stop-opacity="1"/><stop offset=".5577" stop-color="#d20000" stop-opacity=".914"/><stop offset=".6346" stop-color="#d20000" stop-opacity=".613"/><stop offset=".7308" stop-color="#d20000" stop-opacity=".237"/><stop offset=".8462" stop-color="#d20000" stop-opacity=".039"/><stop offset="1" stop-color="#d20000" stop-opacity=".001"/></linearGradient>
<filter id="Fd" filterUnits="userSpaceOnUse" x="1330" y="1080" width="866" height="760" color-interpolation-filters="sRGB"><feTurbulence type="fractalNoise" baseFrequency="0.3 0.0003" numOctaves="3" seed="10" x="1330" y="1080" width="866" height="28" result="f0"/><feTurbulence type="fractalNoise" baseFrequency="0.045 0.0003" numOctaves="2" seed="110" x="1330" y="1080" width="866" height="28" result="c0"/><feTurbulence type="fractalNoise" baseFrequency="0.3 0.0003" numOctaves="3" seed="17" x="1330" y="1108" width="866" height="28" result="f1"/><feTurbulence type="fractalNoise" baseFrequency="0.045 0.0003" numOctaves="2" seed="117" x="1330" y="1108" width="866" height="28" result="c1"/><feTurbulence type="fractalNoise" baseFrequency="0.3 0.0003" numOctaves="3" seed="24" x="1330" y="1136" width="866" height="28" result="f2"/><feTurbulence type="fractalNoise" baseFrequency="0.045 0.0003" numOctaves="2" seed="124" x="1330" y="1136" width="866" height="28" result="c2"/><feTurbulence type="fractalNoise" baseFrequency="0.3 0.0003" numOctaves="3" seed="31" x="1330" y="1164" width="866" height="28" result="f3"/><feTurbulence type="fractalNoise" baseFrequency="0.045 0.0003" numOctaves="2" seed="131" x="1330" y="1164" width="866" height="28" result="c3"/><feTurbulence type="fractalNoise" baseFrequency="0.3 0.0003" numOctaves="3" seed="38" x="1330" y="1192" width="866" height="28" result="f4"/><feTurbulence type="fractalNoise" baseFrequency="0.045 0.0003" numOctaves="2" seed="138" x="1330" y="1192" width="866" height="28" result="c4"/><feTurbulence type="fractalNoise" baseFrequency="0.3 0.0003" numOctaves="3" seed="45" x="1330" y="1220" width="866" height="28" result="f5"/><feTurbulence type="fractalNoise" baseFrequency="0.045 0.0003" numOctaves="2" seed="145" x="1330" y="1220" width="866" height="28" result="c5"/><feTurbulence type="fractalNoise" baseFrequency="0.3 0.0003" numOctaves="3" seed="52" x="1330" y="1248" width="866" height="29" result="f6"/><feTurbulence type="fractalNoise" baseFrequency="0.045 0.0003" numOctaves="2" seed="152" x="1330" y="1248" width="866" height="29" result="c6"/><feTurbulence type="fractalNoise" baseFrequency="0.3 0.0003" numOctaves="3" seed="59" x="1330" y="1277" width="866" height="28" result="f7"/><feTurbulence type="fractalNoise" baseFrequency="0.045 0.0003" numOctaves="2" seed="159" x="1330" y="1277" width="866" height="28" result="c7"/><feTurbulence type="fractalNoise" baseFrequency="0.3 0.0003" numOctaves="3" seed="66" x="1330" y="1305" width="866" height="28" result="f8"/><feTurbulence type="fractalNoise" baseFrequency="0.045 0.0003" numOctaves="2" seed="166" x="1330" y="1305" width="866" height="28" result="c8"/><feTurbulence type="fractalNoise" baseFrequency="0.3 0.0003" numOctaves="3" seed="73" x="1330" y="1333" width="866" height="28" result="f9"/><feTurbulence type="fractalNoise" baseFrequency="0.045 0.0003" numOctaves="2" seed="173" x="1330" y="1333" width="866" height="28" result="c9"/><feTurbulence type="fractalNoise" baseFrequency="0.3 0.0003" numOctaves="3" seed="80" x="1330" y="1361" width="866" height="28" result="f10"/><feTurbulence type="fractalNoise" baseFrequency="0.045 0.0003" numOctaves="2" seed="180" x="1330" y="1361" width="866" height="28" result="c10"/><feTurbulence type="fractalNoise" baseFrequency="0.3 0.0003" numOctaves="3" seed="87" x="1330" y="1389" width="866" height="28" result="f11"/><feTurbulence type="fractalNoise" baseFrequency="0.045 0.0003" numOctaves="2" seed="187" x="1330" y="1389" width="866" height="28" result="c11"/><feTurbulence type="fractalNoise" baseFrequency="0.3 0.0003" numOctaves="3" seed="94" x="1330" y="1417" width="866" height="29" result="f12"/><feTurbulence type="fractalNoise" baseFrequency="0.045 0.0003" numOctaves="2" seed="194" x="1330" y="1417" width="866" height="29" result="c12"/><feTurbulence type="fractalNoise" baseFrequency="0.3 0.0003" numOctaves="3" seed="4" x="1330" y="1446" width="866" height="28" result="f13"/><feTurbulence type="fractalNoise" baseFrequency="0.045 0.0003" numOctaves="2" seed="104" x="1330" y="1446" width="866" height="28" result="c13"/><feTurbulence type="fractalNoise" baseFrequency="0.3 0.0003" numOctaves="3" seed="11" x="1330" y="1474" width="866" height="28" result="f14"/><feTurbulence type="fractalNoise" baseFrequency="0.045 0.0003" numOctaves="2" seed="111" x="1330" y="1474" width="866" height="28" result="c14"/><feTurbulence type="fractalNoise" baseFrequency="0.3 0.0003" numOctaves="3" seed="18" x="1330" y="1502" width="866" height="28" result="f15"/><feTurbulence type="fractalNoise" baseFrequency="0.045 0.0003" numOctaves="2" seed="118" x="1330" y="1502" width="866" height="28" result="c15"/><feTurbulence type="fractalNoise" baseFrequency="0.3 0.0003" numOctaves="3" seed="25" x="1330" y="1530" width="866" height="28" result="f16"/><feTurbulence type="fractalNoise" baseFrequency="0.045 0.0003" numOctaves="2" seed="125" x="1330" y="1530" width="866" height="28" result="c16"/><feTurbulence type="fractalNoise" baseFrequency="0.3 0.0003" numOctaves="3" seed="32" x="1330" y="1558" width="866" height="28" result="f17"/><feTurbulence type="fractalNoise" baseFrequency="0.045 0.0003" numOctaves="2" seed="132" x="1330" y="1558" width="866" height="28" result="c17"/><feTurbulence type="fractalNoise" baseFrequency="0.3 0.0003" numOctaves="3" seed="39" x="1330" y="1586" width="866" height="29" result="f18"/><feTurbulence type="fractalNoise" baseFrequency="0.045 0.0003" numOctaves="2" seed="139" x="1330" y="1586" width="866" height="29" result="c18"/><feTurbulence type="fractalNoise" baseFrequency="0.3 0.0003" numOctaves="3" seed="46" x="1330" y="1615" width="866" height="28" result="f19"/><feTurbulence type="fractalNoise" baseFrequency="0.045 0.0003" numOctaves="2" seed="146" x="1330" y="1615" width="866" height="28" result="c19"/><feTurbulence type="fractalNoise" baseFrequency="0.3 0.0003" numOctaves="3" seed="53" x="1330" y="1643" width="866" height="28" result="f20"/><feTurbulence type="fractalNoise" baseFrequency="0.045 0.0003" numOctaves="2" seed="153" x="1330" y="1643" width="866" height="28" result="c20"/><feTurbulence type="fractalNoise" baseFrequency="0.3 0.0003" numOctaves="3" seed="60" x="1330" y="1671" width="866" height="28" result="f21"/><feTurbulence type="fractalNoise" baseFrequency="0.045 0.0003" numOctaves="2" seed="160" x="1330" y="1671" width="866" height="28" result="c21"/><feTurbulence type="fractalNoise" baseFrequency="0.3 0.0003" numOctaves="3" seed="67" x="1330" y="1699" width="866" height="28" result="f22"/><feTurbulence type="fractalNoise" baseFrequency="0.045 0.0003" numOctaves="2" seed="167" x="1330" y="1699" width="866" height="28" result="c22"/><feTurbulence type="fractalNoise" baseFrequency="0.3 0.0003" numOctaves="3" seed="74" x="1330" y="1727" width="866" height="28" result="f23"/><feTurbulence type="fractalNoise" baseFrequency="0.045 0.0003" numOctaves="2" seed="174" x="1330" y="1727" width="866" height="28" result="c23"/><feTurbulence type="fractalNoise" baseFrequency="0.3 0.0003" numOctaves="3" seed="81" x="1330" y="1755" width="866" height="28" result="f24"/><feTurbulence type="fractalNoise" baseFrequency="0.045 0.0003" numOctaves="2" seed="181" x="1330" y="1755" width="866" height="28" result="c24"/><feTurbulence type="fractalNoise" baseFrequency="0.3 0.0003" numOctaves="3" seed="88" x="1330" y="1783" width="866" height="29" result="f25"/><feTurbulence type="fractalNoise" baseFrequency="0.045 0.0003" numOctaves="2" seed="188" x="1330" y="1783" width="866" height="29" result="c25"/><feTurbulence type="fractalNoise" baseFrequency="0.3 0.0003" numOctaves="3" seed="95" x="1330" y="1812" width="866" height="28" result="f26"/><feTurbulence type="fractalNoise" baseFrequency="0.045 0.0003" numOctaves="2" seed="195" x="1330" y="1812" width="866" height="28" result="c26"/><feMerge><feMergeNode in="f0"/><feMergeNode in="f1"/><feMergeNode in="f2"/><feMergeNode in="f3"/><feMergeNode in="f4"/><feMergeNode in="f5"/><feMergeNode in="f6"/><feMergeNode in="f7"/><feMergeNode in="f8"/><feMergeNode in="f9"/><feMergeNode in="f10"/><feMergeNode in="f11"/><feMergeNode in="f12"/><feMergeNode in="f13"/><feMergeNode in="f14"/><feMergeNode in="f15"/><feMergeNode in="f16"/><feMergeNode in="f17"/><feMergeNode in="f18"/><feMergeNode in="f19"/><feMergeNode in="f20"/><feMergeNode in="f21"/><feMergeNode in="f22"/><feMergeNode in="f23"/><feMergeNode in="f24"/><feMergeNode in="f25"/><feMergeNode in="f26"/></feMerge><feColorMatrix type="matrix" values="1 0 0 0 0 1 0 0 0 0 1 0 0 0 0 0 0 0 0 1"/><feComponentTransfer result="F"><feFuncR type="table" tableValues="0 .2 .5 .66 .78"/><feFuncG type="table" tableValues="0 .2 .5 .66 .78"/><feFuncB type="table" tableValues="0 .2 .5 .66 .78"/></feComponentTransfer><feMerge><feMergeNode in="c0"/><feMergeNode in="c1"/><feMergeNode in="c2"/><feMergeNode in="c3"/><feMergeNode in="c4"/><feMergeNode in="c5"/><feMergeNode in="c6"/><feMergeNode in="c7"/><feMergeNode in="c8"/><feMergeNode in="c9"/><feMergeNode in="c10"/><feMergeNode in="c11"/><feMergeNode in="c12"/><feMergeNode in="c13"/><feMergeNode in="c14"/><feMergeNode in="c15"/><feMergeNode in="c16"/><feMergeNode in="c17"/><feMergeNode in="c18"/><feMergeNode in="c19"/><feMergeNode in="c20"/><feMergeNode in="c21"/><feMergeNode in="c22"/><feMergeNode in="c23"/><feMergeNode in="c24"/><feMergeNode in="c25"/><feMergeNode in="c26"/></feMerge><feColorMatrix type="matrix" values="1 0 0 0 0 1 0 0 0 0 1 0 0 0 0 0 0 0 0 1" result="C"/><feTurbulence type="fractalNoise" baseFrequency="0.3 0.0001" numOctaves="2" seed="100"/><feColorMatrix type="matrix" values="1 0 0 0 0 1 0 0 0 0 1 0 0 0 0 0 0 0 0 1"/><feComponentTransfer result="G"><feFuncR type="table" tableValues="0 .2 .5 .66 .78"/><feFuncG type="table" tableValues="0 .2 .5 .66 .78"/><feFuncB type="table" tableValues="0 .2 .5 .66 .78"/></feComponentTransfer><feComposite in="F" in2="C" operator="arithmetic" k1="0" k2="0.34" k3="0.05" k4="0" result="n1"/><feComposite in="n1" in2="G" operator="arithmetic" k1="0" k2="1" k3="0.22" k4="0" result="n"/><feColorMatrix in="SourceGraphic" type="matrix" values="1 0 0 0 0 1 0 0 0 0 1 0 0 0 0 0 0 0 0 1" result="V"/><feColorMatrix in="SourceGraphic" type="matrix" values="0 1 0 0 0 0 1 0 0 0 0 1 0 0 0 0 0 0 0 1" result="M"/><feComposite in="n" in2="M" operator="arithmetic" k1="1" k2="0" k3="0" k4="0" result="nm"/><feComposite in="V" in2="nm" operator="arithmetic" k1="0" k2="1" k3="1" k4="0"/><feComponentTransfer><feFuncR type="table" tableValues=".242 .250 .258 .265 .271 .275 .278 .280 .281 .281 .280 .276 .270 .260 .244 .221 .196 .183 .179 .176 .169 .154 .146 .138 .125 .111 .095 .069 .030 .004 .007 .043 .096 .141 .172 .194 .216 .247 .291 .341 .391 .446 .504 .562 .617 .672 .724 .774 .820 .863 .903 .939 .973 .996 .997 .995 .989 .979 .968 .961 .960 .963 .969 .977"/><feFuncG type="table" tableValues=".150 .165 .182 .198 .215 .234 .256 .278 .301 .323 .345 .367 .389 .412 .436 .460 .485 .507 .529 .550 .570 .590 .609 .628 .646 .663 .680 .695 .708 .720 .731 .741 .750 .758 .767 .776 .784 .792 .797 .801 .803 .802 .799 .794 .788 .779 .770 .760 .750 .741 .733 .729 .730 .743 .766 .789 .814 .839 .864 .889 .913 .937 .961 .984"/><feFuncB type="table" tableValues=".660 .708 .751 .795 .836 .871 .899 .922 .941 .958 .972 .983 .991 .995 .999 .997 .989 .980 .968 .952 .936 .922 .908 .897 .888 .876 .860 .839 .816 .792 .766 .739 .712 .684 .655 .625 .592 .557 .519 .479 .435 .391 .348 .304 .261 .223 .191 .165 .153 .160 .177 .210 .239 .237 .220 .203 .189 .177 .164 .154 .142 .127 .106 .081"/></feComponentTransfer></filter>
<linearGradient id="e0"><stop offset=".0006" stop-color="#30ff00"/><stop offset=".0272" stop-color="#2cff00"/><stop offset=".4219" stop-color="#29ff00"/><stop offset=".423" stop-color="#2cff00"/><stop offset=".4277" stop-color="#4fff00"/><stop offset=".4288" stop-color="#52ff00"/><stop offset=".4427" stop-color="#51ff00"/><stop offset=".4473" stop-color="#2eff00"/><stop offset=".4485" stop-color="#29ff00"/><stop offset=".5226" stop-color="#27ff00"/><stop offset=".5237" stop-color="#27fe00"/><stop offset=".5249" stop-color="#2af700"/><stop offset=".526" stop-color="#32e700"/><stop offset=".5272" stop-color="#3cd200"/><stop offset=".5284" stop-color="#4ab900"/><stop offset=".5318" stop-color="#766d00"/><stop offset=".533" stop-color="#835a00"/><stop offset=".5341" stop-color="#8d4c00"/><stop offset=".5353" stop-color="#924700"/><stop offset=".5365" stop-color="#944700"/><stop offset=".5411" stop-color="#9d4700"/><stop offset=".5538" stop-color="#a44700"/><stop offset=".5654" stop-color="#9c4700"/><stop offset=".577" stop-color="#8f4700"/><stop offset=".5943" stop-color="#964700"/><stop offset=".6082" stop-color="#8f4700"/><stop offset=".6175" stop-color="#864700"/><stop offset=".6198" stop-color="#814800"/><stop offset=".6221" stop-color="#824700"/><stop offset=".6348" stop-color="#824700"/><stop offset=".6429" stop-color="#744700"/><stop offset=".6522" stop-color="#804700"/><stop offset=".6615" stop-color="#954700"/><stop offset=".6742" stop-color="#a04700"/><stop offset=".6881" stop-color="#994700"/><stop offset=".6962" stop-color="#8c4700"/><stop offset=".7008" stop-color="#8a4700"/><stop offset=".702" stop-color="#894900"/><stop offset=".7031" stop-color="#825500"/><stop offset=".7043" stop-color="#776a00"/><stop offset=".7078" stop-color="#4fbf00"/><stop offset=".7089" stop-color="#44da00"/><stop offset=".7101" stop-color="#3def00"/><stop offset=".7112" stop-color="#3afc00"/><stop offset=".7124" stop-color="#3cff00"/><stop offset=".7135" stop-color="#3fff00"/><stop offset=".7228" stop-color="#44ff00"/><stop offset=".7726" stop-color="#46ff00"/><stop offset=".7737" stop-color="#45ff00"/><stop offset=".7841" stop-color="#2dff00"/><stop offset=".8003" stop-color="#24ff00"/><stop offset=".827" stop-color="#1dff00"/><stop offset=".9994" stop-color="#1bff00"/></linearGradient>
<linearGradient id="e1"><stop offset=".0006" stop-color="#2fff00"/><stop offset=".0272" stop-color="#2bff00"/><stop offset=".3999" stop-color="#29ff00"/><stop offset=".5064" stop-color="#27ff00"/><stop offset=".6082" stop-color="#22ff00"/><stop offset=".6094" stop-color="#22fd00"/><stop offset=".6105" stop-color="#27f300"/><stop offset=".6117" stop-color="#2fe200"/><stop offset=".6128" stop-color="#3acc00"/><stop offset=".6175" stop-color="#6d6700"/><stop offset=".6186" stop-color="#785500"/><stop offset=".6198" stop-color="#7f4a00"/><stop offset=".6209" stop-color="#824700"/><stop offset=".6348" stop-color="#824700"/><stop offset=".6429" stop-color="#744700"/><stop offset=".6522" stop-color="#804700"/><stop offset=".6615" stop-color="#954700"/><stop offset=".6753" stop-color="#a04700"/><stop offset=".6881" stop-color="#994700"/><stop offset=".6962" stop-color="#8c4700"/><stop offset=".7008" stop-color="#8a4700"/><stop offset=".702" stop-color="#894900"/><stop offset=".7031" stop-color="#844d00"/><stop offset=".7043" stop-color="#815100"/><stop offset=".7054" stop-color="#825000"/><stop offset=".7078" stop-color="#874800"/><stop offset=".717" stop-color="#854700"/><stop offset=".7193" stop-color="#7c4700"/><stop offset=".7205" stop-color="#7b4700"/><stop offset=".7228" stop-color="#854700"/><stop offset=".7367" stop-color="#8a4700"/><stop offset=".7436" stop-color="#824700"/><stop offset=".7448" stop-color="#7f4a00"/><stop offset=".7459" stop-color="#775800"/><stop offset=".7471" stop-color="#6c6d00"/><stop offset=".7506" stop-color="#43c300"/><stop offset=".7517" stop-color="#38dd00"/><stop offset=".7529" stop-color="#30f100"/><stop offset=".7541" stop-color="#2cfd00"/><stop offset=".7552" stop-color="#2bff00"/><stop offset=".7841" stop-color="#2cff00"/><stop offset=".8003" stop-color="#23ff00"/><stop offset=".827" stop-color="#1cff00"/><stop offset=".9994" stop-color="#1aff00"/></linearGradient>
<linearGradient id="e2"><stop offset=".0006" stop-color="#45ff00"/><stop offset=".0341" stop-color="#41ff00"/><stop offset=".0457" stop-color="#4cff00"/><stop offset=".0608" stop-color="#4cff00"/><stop offset=".0723" stop-color="#3fff00"/><stop offset=".1071" stop-color="#3bff00"/><stop offset=".5064" stop-color="#31ff00"/><stop offset=".6128" stop-color="#28ff00"/><stop offset=".6973" stop-color="#27ff00"/><stop offset=".6985" stop-color="#2af900"/><stop offset=".6997" stop-color="#31e900"/><stop offset=".7008" stop-color="#3dd100"/><stop offset=".7043" stop-color="#687b00"/><stop offset=".7054" stop-color="#756200"/><stop offset=".7066" stop-color="#7f5000"/><stop offset=".7078" stop-color="#834800"/><stop offset=".7089" stop-color="#834700"/><stop offset=".717" stop-color="#824700"/><stop offset=".7193" stop-color="#794700"/><stop offset=".7205" stop-color="#794700"/><stop offset=".7228" stop-color="#824700"/><stop offset=".7367" stop-color="#874700"/><stop offset=".7448" stop-color="#7d4a00"/><stop offset=".7459" stop-color="#765800"/><stop offset=".7471" stop-color="#6c6d00"/><stop offset=".7506" stop-color="#47c300"/><stop offset=".7517" stop-color="#3ddd00"/><stop offset=".7529" stop-color="#36f100"/><stop offset=".7541" stop-color="#32fd00"/><stop offset=".7552" stop-color="#31ff00"/><stop offset=".7841" stop-color="#32ff00"/><stop offset=".8003" stop-color="#2aff00"/><stop offset=".827" stop-color="#22ff00"/><stop offset=".9994" stop-color="#20ff00"/></linearGradient>
<linearGradient id="e3"><stop offset=".0006" stop-color="#45ff00"/><stop offset=".0341" stop-color="#41ff00"/><stop offset=".0457" stop-color="#4cff00"/><stop offset=".0608" stop-color="#4cff00"/><stop offset=".0723" stop-color="#3fff00"/><stop offset=".1071" stop-color="#3bff00"/><stop offset=".5064" stop-color="#31ff00"/><stop offset=".614" stop-color="#28ff00"/><stop offset=".7066" stop-color="#27ff00"/><stop offset=".7228" stop-color="#30ff00"/><stop offset=".7841" stop-color="#32ff00"/><stop offset=".8003" stop-color="#2aff00"/><stop offset=".827" stop-color="#22ff00"/><stop offset=".9994" stop-color="#20ff00"/></linearGradient>
<linearGradient id="e4"><stop offset=".0006" stop-color="#3dff00"/><stop offset=".0341" stop-color="#39ff00"/><stop offset=".0457" stop-color="#3dff00"/><stop offset=".0608" stop-color="#3dff00"/><stop offset=".0723" stop-color="#38ff00"/><stop offset=".1071" stop-color="#36ff00"/><stop offset=".5064" stop-color="#2fff00"/><stop offset=".614" stop-color="#26ff00"/><stop offset=".7066" stop-color="#25ff00"/><stop offset=".7228" stop-color="#2fff00"/><stop offset=".783" stop-color="#31ff00"/><stop offset=".8003" stop-color="#28ff00"/><stop offset=".827" stop-color="#21ff00"/><stop offset=".9994" stop-color="#1fff00"/></linearGradient>
<linearGradient id="e5"><stop offset=".0006" stop-color="#34ff00"/><stop offset=".0272" stop-color="#30ff00"/><stop offset=".5064" stop-color="#2cff00"/><stop offset=".6128" stop-color="#25ff00"/><stop offset=".7066" stop-color="#23ff00"/><stop offset=".7228" stop-color="#2dff00"/><stop offset=".783" stop-color="#2fff00"/><stop offset=".8003" stop-color="#27ff00"/><stop offset=".827" stop-color="#1fff00"/><stop offset=".9994" stop-color="#1dff00"/></linearGradient>
<linearGradient id="e6"><stop offset=".0006" stop-color="#33ff00"/><stop offset=".0272" stop-color="#2fff00"/><stop offset=".401" stop-color="#2dff00"/><stop offset=".5064" stop-color="#2bff00"/><stop offset=".6128" stop-color="#24ff00"/><stop offset=".7066" stop-color="#23ff00"/><stop offset=".7228" stop-color="#2cff00"/><stop offset=".783" stop-color="#2fff00"/><stop offset=".8003" stop-color="#26ff00"/><stop offset=".827" stop-color="#1fff00"/><stop offset=".9994" stop-color="#1cff00"/></linearGradient>
<linearGradient id="e7"><stop offset=".0006" stop-color="#27ff00"/><stop offset=".0168" stop-color="#24ff00"/><stop offset=".0249" stop-color="#2cff00"/><stop offset=".3999" stop-color="#2aff00"/><stop offset=".5226" stop-color="#27ff00"/><stop offset=".5237" stop-color="#27fe00"/><stop offset=".5249" stop-color="#2af700"/><stop offset=".526" stop-color="#32e700"/><stop offset=".5272" stop-color="#3cd200"/><stop offset=".5284" stop-color="#4ab900"/><stop offset=".5318" stop-color="#766d00"/><stop offset=".533" stop-color="#835a00"/><stop offset=".5341" stop-color="#8d4c00"/><stop offset=".5353" stop-color="#924700"/><stop offset=".5365" stop-color="#944700"/><stop offset=".5411" stop-color="#9d4700"/><stop offset=".5538" stop-color="#a44700"/><stop offset=".5654" stop-color="#9c4700"/><stop offset=".577" stop-color="#8f4700"/><stop offset=".5943" stop-color="#964700"/><stop offset=".6082" stop-color="#8f4700"/><stop offset=".6175" stop-color="#864700"/><stop offset=".6186" stop-color="#834b00"/><stop offset=".6198" stop-color="#7d5300"/><stop offset=".6209" stop-color="#755f00"/><stop offset=".6267" stop-color="#42bb00"/><stop offset=".6291" stop-color="#30df00"/><stop offset=".6302" stop-color="#2aed00"/><stop offset=".6314" stop-color="#25f700"/><stop offset=".6337" stop-color="#22ff00"/><stop offset=".7066" stop-color="#21ff00"/><stop offset=".7228" stop-color="#2bff00"/><stop offset=".783" stop-color="#2dff00"/><stop offset=".8003" stop-color="#24ff00"/><stop offset=".827" stop-color="#1dff00"/><stop offset=".9994" stop-color="#1bff00"/></linearGradient>
<linearGradient id="e8"><stop offset=".0006" stop-color="#33ff00"/><stop offset=".0272" stop-color="#2fff00"/><stop offset=".3999" stop-color="#2dff00"/><stop offset=".5226" stop-color="#2aff00"/><stop offset=".5237" stop-color="#2afe00"/><stop offset=".5249" stop-color="#2df700"/><stop offset=".526" stop-color="#34e700"/><stop offset=".5272" stop-color="#3fd200"/><stop offset=".5284" stop-color="#4bb900"/><stop offset=".5318" stop-color="#776d00"/><stop offset=".533" stop-color="#835a00"/><stop offset=".5341" stop-color="#8d4c00"/><stop offset=".5353" stop-color="#924700"/><stop offset=".5365" stop-color="#944700"/><stop offset=".5411" stop-color="#9d4700"/><stop offset=".5538" stop-color="#a44700"/><stop offset=".5654" stop-color="#9c4700"/><stop offset=".577" stop-color="#8f4700"/><stop offset=".5943" stop-color="#964700"/><stop offset=".6082" stop-color="#8f4700"/><stop offset=".6175" stop-color="#864700"/><stop offset=".6198" stop-color="#814800"/><stop offset=".6221" stop-color="#824700"/><stop offset=".6348" stop-color="#824700"/><stop offset=".6429" stop-color="#744700"/><stop offset=".6522" stop-color="#804700"/><stop offset=".6615" stop-color="#954700"/><stop offset=".6742" stop-color="#a04700"/><stop offset=".6881" stop-color="#994700"/><stop offset=".6962" stop-color="#8c4700"/><stop offset=".7008" stop-color="#8a4700"/><stop offset=".702" stop-color="#894900"/><stop offset=".7031" stop-color="#815500"/><stop offset=".7043" stop-color="#766a00"/><stop offset=".7078" stop-color="#46bf00"/><stop offset=".7089" stop-color="#38da00"/><stop offset=".7101" stop-color="#2def00"/><stop offset=".7112" stop-color="#27fc00"/><stop offset=".7124" stop-color="#26ff00"/><stop offset=".7228" stop-color="#2cff00"/><stop offset=".783" stop-color="#2fff00"/><stop offset=".8003" stop-color="#26ff00"/><stop offset=".827" stop-color="#1fff00"/><stop offset=".9994" stop-color="#1cff00"/></linearGradient>
<linearGradient id="e9"><stop offset=".0006" stop-color="#34ff00"/><stop offset=".0272" stop-color="#30ff00"/><stop offset=".5064" stop-color="#2cff00"/><stop offset=".6082" stop-color="#25ff00"/><stop offset=".6094" stop-color="#26fd00"/><stop offset=".6105" stop-color="#2af300"/><stop offset=".6117" stop-color="#32e200"/><stop offset=".614" stop-color="#48b200"/><stop offset=".6175" stop-color="#6e6700"/><stop offset=".6186" stop-color="#785500"/><stop offset=".6198" stop-color="#7f4a00"/><stop offset=".6209" stop-color="#824700"/><stop offset=".6348" stop-color="#824700"/><stop offset=".6429" stop-color="#744700"/><stop offset=".6522" stop-color="#804700"/><stop offset=".6615" stop-color="#954700"/><stop offset=".6753" stop-color="#a04700"/><stop offset=".6881" stop-color="#994700"/><stop offset=".6962" stop-color="#8c4700"/><stop offset=".7008" stop-color="#8a4700"/><stop offset=".702" stop-color="#894900"/><stop offset=".7031" stop-color="#844d00"/><stop offset=".7043" stop-color="#815100"/><stop offset=".7054" stop-color="#825000"/><stop offset=".7078" stop-color="#874800"/><stop offset=".717" stop-color="#854700"/><stop offset=".7193" stop-color="#7c4700"/><stop offset=".7205" stop-color="#7b4700"/><stop offset=".7228" stop-color="#854700"/><stop offset=".7367" stop-color="#8a4700"/><stop offset=".7436" stop-color="#824700"/><stop offset=".7448" stop-color="#7f4a00"/><stop offset=".7459" stop-color="#785800"/><stop offset=".7471" stop-color="#6d6d00"/><stop offset=".7506" stop-color="#45c300"/><stop offset=".7517" stop-color="#3bdd00"/><stop offset=".7529" stop-color="#33f100"/><stop offset=".7541" stop-color="#2ffd00"/><stop offset=".7552" stop-color="#2eff00"/><stop offset=".7841" stop-color="#2fff00"/><stop offset=".8003" stop-color="#27ff00"/><stop offset=".827" stop-color="#1fff00"/><stop offset=".9994" stop-color="#1dff00"/></linearGradient>
<linearGradient id="e10"><stop offset=".0006" stop-color="#33ff00"/><stop offset=".0272" stop-color="#2fff00"/><stop offset=".401" stop-color="#2dff00"/><stop offset=".5064" stop-color="#2bff00"/><stop offset=".6128" stop-color="#24ff00"/><stop offset=".6973" stop-color="#23ff00"/><stop offset=".6985" stop-color="#26f900"/><stop offset=".6997" stop-color="#2ee900"/><stop offset=".7008" stop-color="#3ad100"/><stop offset=".7043" stop-color="#677b00"/><stop offset=".7054" stop-color="#746200"/><stop offset=".7066" stop-color="#7e5000"/><stop offset=".7078" stop-color="#824800"/><stop offset=".7089" stop-color="#824700"/><stop offset=".717" stop-color="#824700"/><stop offset=".7193" stop-color="#794700"/><stop offset=".7205" stop-color="#784700"/><stop offset=".7228" stop-color="#824700"/><stop offset=".7367" stop-color="#864700"/><stop offset=".7436" stop-color="#7f4700"/><stop offset=".7448" stop-color="#7c4a00"/><stop offset=".7459" stop-color="#755800"/><stop offset=".7471" stop-color="#6a6d00"/><stop offset=".7506" stop-color="#44c300"/><stop offset=".7517" stop-color="#3add00"/><stop offset=".7529" stop-color="#32f100"/><stop offset=".7541" stop-color="#2efd00"/><stop offset=".7552" stop-color="#2eff00"/><stop offset=".7841" stop-color="#2eff00"/><stop offset=".8003" stop-color="#26ff00"/><stop offset=".827" stop-color="#1fff00"/><stop offset=".9994" stop-color="#1cff00"/></linearGradient>
<linearGradient id="e11"><stop offset=".0006" stop-color="#35ff00"/><stop offset=".0272" stop-color="#31ff00"/><stop offset=".5064" stop-color="#2dff00"/><stop offset=".6128" stop-color="#25ff00"/><stop offset=".7066" stop-color="#24ff00"/><stop offset=".7228" stop-color="#2eff00"/><stop offset=".783" stop-color="#30ff00"/><stop offset=".8003" stop-color="#27ff00"/><stop offset=".827" stop-color="#20ff00"/><stop offset=".9994" stop-color="#1eff00"/></linearGradient>
<linearGradient id="e12"><stop offset=".0006" stop-color="#35ff00"/><stop offset=".0272" stop-color="#31ff00"/><stop offset=".5064" stop-color="#2dff00"/><stop offset=".6128" stop-color="#25ff00"/><stop offset=".7066" stop-color="#24ff00"/><stop offset=".7228" stop-color="#2eff00"/><stop offset=".783" stop-color="#30ff00"/><stop offset=".8003" stop-color="#27ff00"/><stop offset=".827" stop-color="#20ff00"/><stop offset=".9994" stop-color="#1eff00"/></linearGradient>
<linearGradient id="e13"><stop offset=".0006" stop-color="#37ff00"/><stop offset=".0272" stop-color="#32ff00"/><stop offset=".5064" stop-color="#2eff00"/><stop offset=".6128" stop-color="#26ff00"/><stop offset=".7066" stop-color="#25ff00"/><stop offset=".7228" stop-color="#2eff00"/><stop offset=".783" stop-color="#30ff00"/><stop offset=".8003" stop-color="#28ff00"/><stop offset=".827" stop-color="#21ff00"/><stop offset=".9994" stop-color="#1eff00"/></linearGradient>
<linearGradient id="e14"><stop offset=".0006" stop-color="#34ff00"/><stop offset=".0272" stop-color="#30ff00"/><stop offset=".5064" stop-color="#2cff00"/><stop offset=".6128" stop-color="#25ff00"/><stop offset=".7066" stop-color="#23ff00"/><stop offset=".7228" stop-color="#2dff00"/><stop offset=".783" stop-color="#2fff00"/><stop offset=".8003" stop-color="#27ff00"/><stop offset=".827" stop-color="#1fff00"/><stop offset=".9994" stop-color="#1dff00"/></linearGradient>
<linearGradient id="e15"><stop offset=".0006" stop-color="#31ff00"/><stop offset=".0272" stop-color="#2dff00"/><stop offset=".3999" stop-color="#2bff00"/><stop offset=".5226" stop-color="#28ff00"/><stop offset=".5237" stop-color="#28fe00"/><stop offset=".5249" stop-color="#2bf700"/><stop offset=".526" stop-color="#33e700"/><stop offset=".5272" stop-color="#3dd200"/><stop offset=".5284" stop-color="#4ab900"/><stop offset=".5318" stop-color="#766d00"/><stop offset=".533" stop-color="#835a00"/><stop offset=".5341" stop-color="#8d4c00"/><stop offset=".5353" stop-color="#924700"/><stop offset=".5365" stop-color="#944700"/><stop offset=".5411" stop-color="#9d4700"/><stop offset=".5538" stop-color="#a44700"/><stop offset=".5654" stop-color="#9c4700"/><stop offset=".577" stop-color="#8f4700"/><stop offset=".5943" stop-color="#964700"/><stop offset=".6082" stop-color="#8f4700"/><stop offset=".6175" stop-color="#864700"/><stop offset=".6186" stop-color="#834b00"/><stop offset=".6198" stop-color="#7d5300"/><stop offset=".6209" stop-color="#755f00"/><stop offset=".6267" stop-color="#42bb00"/><stop offset=".6291" stop-color="#31df00"/><stop offset=".6302" stop-color="#2aed00"/><stop offset=".6314" stop-color="#26f700"/><stop offset=".6337" stop-color="#22ff00"/><stop offset=".7066" stop-color="#22ff00"/><stop offset=".7228" stop-color="#2bff00"/><stop offset=".783" stop-color="#2dff00"/><stop offset=".8003" stop-color="#25ff00"/><stop offset=".827" stop-color="#1dff00"/><stop offset=".9994" stop-color="#1bff00"/></linearGradient>
<linearGradient id="e16"><stop offset=".0006" stop-color="#31ff00"/><stop offset=".0272" stop-color="#2dff00"/><stop offset=".3999" stop-color="#2bff00"/><stop offset=".5226" stop-color="#28ff00"/><stop offset=".5237" stop-color="#28fe00"/><stop offset=".5249" stop-color="#2bf700"/><stop offset=".526" stop-color="#33e700"/><stop offset=".5272" stop-color="#3dd200"/><stop offset=".5284" stop-color="#4ab900"/><stop offset=".5318" stop-color="#766d00"/><stop offset=".533" stop-color="#835a00"/><stop offset=".5341" stop-color="#8d4c00"/><stop offset=".5353" stop-color="#924700"/><stop offset=".5365" stop-color="#944700"/><stop offset=".5411" stop-color="#9d4700"/><stop offset=".5538" stop-color="#a44700"/><stop offset=".5654" stop-color="#9c4700"/><stop offset=".577" stop-color="#8f4700"/><stop offset=".5943" stop-color="#964700"/><stop offset=".6082" stop-color="#8f4700"/><stop offset=".6175" stop-color="#864700"/><stop offset=".6198" stop-color="#814800"/><stop offset=".6221" stop-color="#824700"/><stop offset=".6348" stop-color="#824700"/><stop offset=".6429" stop-color="#744700"/><stop offset=".6522" stop-color="#804700"/><stop offset=".6615" stop-color="#954700"/><stop offset=".6742" stop-color="#a04700"/><stop offset=".6881" stop-color="#994700"/><stop offset=".6962" stop-color="#8c4700"/><stop offset=".7008" stop-color="#8a4700"/><stop offset=".702" stop-color="#894900"/><stop offset=".7031" stop-color="#815500"/><stop offset=".7043" stop-color="#756a00"/><stop offset=".7078" stop-color="#46bf00"/><stop offset=".7089" stop-color="#37da00"/><stop offset=".7101" stop-color="#2cef00"/><stop offset=".7112" stop-color="#26fc00"/><stop offset=".7124" stop-color="#25ff00"/><stop offset=".7228" stop-color="#2bff00"/><stop offset=".783" stop-color="#2dff00"/><stop offset=".8003" stop-color="#25ff00"/><stop offset=".827" stop-color="#1dff00"/><stop offset=".9994" stop-color="#1bff00"/></linearGradient>
<linearGradient id="e17"><stop offset=".0006" stop-color="#30ff00"/><stop offset=".0272" stop-color="#2cff00"/><stop offset=".3999" stop-color="#2aff00"/><stop offset=".5064" stop-color="#28ff00"/><stop offset=".6082" stop-color="#22ff00"/><stop offset=".6094" stop-color="#23fd00"/><stop offset=".6105" stop-color="#28f300"/><stop offset=".6117" stop-color="#2fe200"/><stop offset=".6128" stop-color="#3acc00"/><stop offset=".6175" stop-color="#6e6700"/><stop offset=".6186" stop-color="#785500"/><stop offset=".6198" stop-color="#7f4a00"/><stop offset=".6209" stop-color="#824700"/><stop offset=".6348" stop-color="#824700"/><stop offset=".6429" stop-color="#744700"/><stop offset=".6522" stop-color="#804700"/><stop offset=".6615" stop-color="#954700"/><stop offset=".6753" stop-color="#a04700"/><stop offset=".6881" stop-color="#994700"/><stop offset=".6962" stop-color="#8c4700"/><stop offset=".7008" stop-color="#8a4700"/><stop offset=".702" stop-color="#894900"/><stop offset=".7031" stop-color="#844d00"/><stop offset=".7043" stop-color="#815100"/><stop offset=".7054" stop-color="#825000"/><stop offset=".7078" stop-color="#874800"/><stop offset=".717" stop-color="#854700"/><stop offset=".7193" stop-color="#7c4700"/><stop offset=".7205" stop-color="#7b4700"/><stop offset=".7228" stop-color="#854700"/><stop offset=".7367" stop-color="#8a4700"/><stop offset=".7436" stop-color="#824700"/><stop offset=".7448" stop-color="#7f4a00"/><stop offset=".7459" stop-color="#785800"/><stop offset=".7471" stop-color="#6c6d00"/><stop offset=".7506" stop-color="#43c300"/><stop offset=".7517" stop-color="#39dd00"/><stop offset=".7529" stop-color="#31f100"/><stop offset=".7541" stop-color="#2cfd00"/><stop offset=".7552" stop-color="#2cff00"/><stop offset=".7841" stop-color="#2dff00"/><stop offset=".8003" stop-color="#24ff00"/><stop offset=".827" stop-color="#1dff00"/><stop offset=".9994" stop-color="#1bff00"/></linearGradient>
<linearGradient id="e18"><stop offset=".0006" stop-color="#2eff00"/><stop offset=".0272" stop-color="#2aff00"/><stop offset=".3999" stop-color="#28ff00"/><stop offset=".5064" stop-color="#26ff00"/><stop offset=".6128" stop-color="#21ff00"/><stop offset=".6973" stop-color="#20ff00"/><stop offset=".6985" stop-color="#23f900"/><stop offset=".6997" stop-color="#2be900"/><stop offset=".7008" stop-color="#37d100"/><stop offset=".7043" stop-color="#667b00"/><stop offset=".7054" stop-color="#736200"/><stop offset=".7066" stop-color="#7e5000"/><stop offset=".7078" stop-color="#824800"/><stop offset=".7089" stop-color="#824700"/><stop offset=".717" stop-color="#814700"/><stop offset=".7193" stop-color="#794700"/><stop offset=".7205" stop-color="#784700"/><stop offset=".7228" stop-color="#824700"/><stop offset=".7367" stop-color="#864700"/><stop offset=".7436" stop-color="#7f4700"/><stop offset=".7448" stop-color="#7c4a00"/><stop offset=".7459" stop-color="#755800"/><stop offset=".7471" stop-color="#6a6d00"/><stop offset=".7506" stop-color="#42c300"/><stop offset=".7517" stop-color="#37dd00"/><stop offset=".7529" stop-color="#2ff100"/><stop offset=".7541" stop-color="#2bfd00"/><stop offset=".7552" stop-color="#2aff00"/><stop offset=".7841" stop-color="#2bff00"/><stop offset=".8003" stop-color="#23ff00"/><stop offset=".827" stop-color="#1bff00"/><stop offset=".9994" stop-color="#19ff00"/></linearGradient>
<linearGradient id="e19"><stop offset=".0006" stop-color="#27ff00"/><stop offset=".0168" stop-color="#24ff00"/><stop offset=".0249" stop-color="#29ff00"/><stop offset=".3999" stop-color="#27ff00"/><stop offset=".6128" stop-color="#20ff00"/><stop offset=".7066" stop-color="#1fff00"/><stop offset=".7228" stop-color="#29ff00"/><stop offset=".783" stop-color="#2bff00"/><stop offset=".8003" stop-color="#22ff00"/><stop offset=".827" stop-color="#1bff00"/><stop offset=".9994" stop-color="#19ff00"/></linearGradient>
<linearGradient id="e20"><stop offset=".0006" stop-color="#38ff00"/><stop offset=".0272" stop-color="#33ff00"/><stop offset=".3999" stop-color="#2eff00"/><stop offset=".5064" stop-color="#2aff00"/><stop offset=".614" stop-color="#23ff00"/><stop offset=".7066" stop-color="#22ff00"/><stop offset=".7228" stop-color="#2cff00"/><stop offset=".783" stop-color="#2eff00"/><stop offset=".8003" stop-color="#25ff00"/><stop offset=".827" stop-color="#1eff00"/><stop offset=".9994" stop-color="#1cff00"/></linearGradient>
<linearGradient id="e21"><stop offset=".0006" stop-color="#3dff00"/><stop offset=".0272" stop-color="#39ff00"/><stop offset=".401" stop-color="#33ff00"/><stop offset=".5064" stop-color="#2fff00"/><stop offset=".614" stop-color="#26ff00"/><stop offset=".7066" stop-color="#25ff00"/><stop offset=".7228" stop-color="#2fff00"/><stop offset=".783" stop-color="#31ff00"/><stop offset=".8003" stop-color="#28ff00"/><stop offset=".827" stop-color="#21ff00"/><stop offset=".9994" stop-color="#1fff00"/></linearGradient>
<linearGradient id="e22"><stop offset=".0006" stop-color="#3dff00"/><stop offset=".0272" stop-color="#39ff00"/><stop offset=".1302" stop-color="#38ff00"/><stop offset=".1418" stop-color="#3eff00"/><stop offset=".158" stop-color="#3eff00"/><stop offset=".1696" stop-color="#37ff00"/><stop offset=".401" stop-color="#33ff00"/><stop offset=".5064" stop-color="#2fff00"/><stop offset=".614" stop-color="#26ff00"/><stop offset=".7066" stop-color="#25ff00"/><stop offset=".7228" stop-color="#2fff00"/><stop offset=".783" stop-color="#31ff00"/><stop offset=".8003" stop-color="#28ff00"/><stop offset=".827" stop-color="#21ff00"/><stop offset=".9994" stop-color="#1fff00"/></linearGradient>
<linearGradient id="e23"><stop offset=".0006" stop-color="#3dff00"/><stop offset=".0272" stop-color="#39ff00"/><stop offset=".1302" stop-color="#38ff00"/><stop offset=".1418" stop-color="#42ff00"/><stop offset=".158" stop-color="#41ff00"/><stop offset=".1696" stop-color="#37ff00"/><stop offset=".3999" stop-color="#33ff00"/><stop offset=".5226" stop-color="#2eff00"/><stop offset=".5237" stop-color="#2efe00"/><stop offset=".5249" stop-color="#31f700"/><stop offset=".526" stop-color="#38e700"/><stop offset=".5272" stop-color="#42d200"/><stop offset=".533" stop-color="#845a00"/><stop offset=".5341" stop-color="#8d4c00"/><stop offset=".5353" stop-color="#924700"/><stop offset=".5365" stop-color="#944700"/><stop offset=".5411" stop-color="#9d4700"/><stop offset=".5538" stop-color="#a44700"/><stop offset=".5654" stop-color="#9c4700"/><stop offset=".577" stop-color="#8f4700"/><stop offset=".5943" stop-color="#964700"/><stop offset=".6082" stop-color="#8f4700"/><stop offset=".6175" stop-color="#864700"/><stop offset=".6186" stop-color="#834b00"/><stop offset=".6198" stop-color="#7e5300"/><stop offset=".6209" stop-color="#765f00"/><stop offset=".6267" stop-color="#45bb00"/><stop offset=".6291" stop-color="#34df00"/><stop offset=".6302" stop-color="#2eed00"/><stop offset=".6314" stop-color="#29f700"/><stop offset=".6337" stop-color="#26ff00"/><stop offset=".7066" stop-color="#25ff00"/><stop offset=".7228" stop-color="#2fff00"/><stop offset=".783" stop-color="#31ff00"/><stop offset=".8003" stop-color="#28ff00"/><stop offset=".827" stop-color="#21ff00"/><stop offset=".9994" stop-color="#1fff00"/></linearGradient>
<linearGradient id="e24"><stop offset=".0006" stop-color="#3cff00"/><stop offset=".0272" stop-color="#38ff00"/><stop offset=".1302" stop-color="#37ff00"/><stop offset=".1418" stop-color="#43ff00"/><stop offset=".158" stop-color="#43ff00"/><stop offset=".1696" stop-color="#36ff00"/><stop offset=".3999" stop-color="#32ff00"/><stop offset=".5226" stop-color="#2dff00"/><stop offset=".5237" stop-color="#2dfe00"/><stop offset=".5249" stop-color="#30f700"/><stop offset=".526" stop-color="#37e700"/><stop offset=".5272" stop-color="#41d200"/><stop offset=".533" stop-color="#835a00"/><stop offset=".5341" stop-color="#8d4c00"/><stop offset=".5353" stop-color="#924700"/><stop offset=".5365" stop-color="#944700"/><stop offset=".5411" stop-color="#9d4700"/><stop offset=".5538" stop-color="#a44700"/><stop offset=".5654" stop-color="#9c4700"/><stop offset=".577" stop-color="#8f4700"/><stop offset=".5943" stop-color="#964700"/><stop offset=".6082" stop-color="#8f4700"/><stop offset=".6175" stop-color="#864700"/><stop offset=".6198" stop-color="#814800"/><stop offset=".6348" stop-color="#824700"/><stop offset=".6429" stop-color="#744700"/><stop offset=".6522" stop-color="#804700"/><stop offset=".6615" stop-color="#954700"/><stop offset=".6742" stop-color="#a04700"/><stop offset=".6881" stop-color="#994700"/><stop offset=".6962" stop-color="#8c4700"/><stop offset=".7008" stop-color="#8a4700"/><stop offset=".702" stop-color="#894900"/><stop offset=".7031" stop-color="#825500"/><stop offset=".7043" stop-color="#766a00"/><stop offset=".7089" stop-color="#3ada00"/><stop offset=".7101" stop-color="#2fef00"/><stop offset=".7112" stop-color="#29fc00"/><stop offset=".7124" stop-color="#28ff00"/><stop offset=".7228" stop-color="#2eff00"/><stop offset=".783" stop-color="#30ff00"/><stop offset=".8003" stop-color="#28ff00"/><stop offset=".827" stop-color="#21ff00"/><stop offset=".9994" stop-color="#1eff00"/></linearGradient>
<linearGradient id="e25"><stop offset=".0006" stop-color="#33ff00"/><stop offset=".0272" stop-color="#2fff00"/><stop offset=".1302" stop-color="#2eff00"/><stop offset=".1418" stop-color="#3bff00"/><stop offset=".158" stop-color="#3bff00"/><stop offset=".1696" stop-color="#2eff00"/><stop offset=".3999" stop-color="#2dff00"/><stop offset=".5064" stop-color="#2bff00"/><stop offset=".6082" stop-color="#24ff00"/><stop offset=".6094" stop-color="#25fd00"/><stop offset=".6105" stop-color="#29f300"/><stop offset=".6117" stop-color="#31e200"/><stop offset=".6128" stop-color="#3bcc00"/><stop offset=".6175" stop-color="#6e6700"/><stop offset=".6186" stop-color="#785500"/><stop offset=".6198" stop-color="#7f4a00"/><stop offset=".6209" stop-color="#824700"/><stop offset=".6348" stop-color="#824700"/><stop offset=".6429" stop-color="#744700"/><stop offset=".6522" stop-color="#804700"/><stop offset=".6615" stop-color="#954700"/><stop offset=".6753" stop-color="#a04700"/><stop offset=".6881" stop-color="#994700"/><stop offset=".6962" stop-color="#8c4700"/><stop offset=".7008" stop-color="#8a4700"/><stop offset=".702" stop-color="#894900"/><stop offset=".7031" stop-color="#844d00"/><stop offset=".7043" stop-color="#815100"/><stop offset=".7054" stop-color="#825000"/><stop offset=".7078" stop-color="#874800"/><stop offset=".717" stop-color="#854700"/><stop offset=".7193" stop-color="#7c4700"/><stop offset=".7205" stop-color="#7b4700"/><stop offset=".7228" stop-color="#854700"/><stop offset=".7367" stop-color="#8a4700"/><stop offset=".7436" stop-color="#824700"/><stop offset=".7448" stop-color="#7f4a00"/><stop offset=".7459" stop-color="#785800"/><stop offset=".7471" stop-color="#6d6d00"/><stop offset=".7506" stop-color="#45c300"/><stop offset=".7517" stop-color="#3add00"/><stop offset=".7529" stop-color="#32f100"/><stop offset=".7541" stop-color="#2efd00"/><stop offset=".7552" stop-color="#2eff00"/><stop offset=".7841" stop-color="#2eff00"/><stop offset=".8003" stop-color="#26ff00"/><stop offset=".827" stop-color="#1fff00"/><stop offset=".9994" stop-color="#1cff00"/></linearGradient>
<linearGradient id="e26"><stop offset=".0006" stop-color="#30ff00"/><stop offset=".0272" stop-color="#2cff00"/><stop offset=".1302" stop-color="#2bff00"/><stop offset=".1418" stop-color="#38ff00"/><stop offset=".158" stop-color="#37ff00"/><stop offset=".1696" stop-color="#2bff00"/><stop offset=".4265" stop-color="#29ff00"/><stop offset=".4323" stop-color="#45ff00"/><stop offset=".4473" stop-color="#45ff00"/><stop offset=".4485" stop-color="#43ff00"/><stop offset=".4531" stop-color="#2aff00"/><stop offset=".4543" stop-color="#29ff00"/><stop offset=".6128" stop-color="#22ff00"/><stop offset=".6973" stop-color="#21ff00"/><stop offset=".6985" stop-color="#24f900"/><stop offset=".6997" stop-color="#2ce900"/><stop offset=".7008" stop-color="#38d100"/><stop offset=".7043" stop-color="#667b00"/><stop offset=".7054" stop-color="#746200"/><stop offset=".7066" stop-color="#7e5000"/><stop offset=".7078" stop-color="#824800"/><stop offset=".7089" stop-color="#824700"/><stop offset=".717" stop-color="#814700"/><stop offset=".7193" stop-color="#794700"/><stop offset=".7205" stop-color="#784700"/><stop offset=".7228" stop-color="#824700"/><stop offset=".7367" stop-color="#864700"/><stop offset=".7436" stop-color="#7f4700"/><stop offset=".7448" stop-color="#7c4a00"/><stop offset=".7459" stop-color="#755800"/><stop offset=".7471" stop-color="#6a6d00"/><stop offset=".7506" stop-color="#43c300"/><stop offset=".7517" stop-color="#38dd00"/><stop offset=".7529" stop-color="#30f100"/><stop offset=".7541" stop-color="#2cfd00"/><stop offset=".7552" stop-color="#2cff00"/><stop offset=".7841" stop-color="#2dff00"/><stop offset=".8003" stop-color="#24ff00"/><stop offset=".827" stop-color="#1dff00"/><stop offset=".9994" stop-color="#1bff00"/></linearGradient>
<linearGradient id="eL0" gradientUnits="userSpaceOnUse" x1="845.29" x2="872.25"><stop offset="0" stop-color="#37ff00" stop-opacity=".001"/><stop offset=".1538" stop-color="#37ff00" stop-opacity=".039"/><stop offset=".2692" stop-color="#37ff00" stop-opacity=".237"/><stop offset=".3654" stop-color="#37ff00" stop-opacity=".613"/><stop offset=".4423" stop-color="#37ff00" stop-opacity=".914"/><stop offset=".5" stop-color="#37ff00" stop-opacity="1"/><stop offset=".5577" stop-color="#37ff00" stop-opacity=".914"/><stop offset=".6346" stop-color="#37ff00" stop-opacity=".613"/><stop offset=".7308" stop-color="#37ff00" stop-opacity=".237"/><stop offset=".8462" stop-color="#37ff00" stop-opacity=".039"/><stop offset="1" stop-color="#37ff00" stop-opacity=".001"/></linearGradient>
<linearGradient id="eL1" gradientUnits="userSpaceOnUse" x1="1022.70" x2="1049.65"><stop offset="0" stop-color="#36ff00" stop-opacity=".001"/><stop offset=".1538" stop-color="#36ff00" stop-opacity=".039"/><stop offset=".2692" stop-color="#36ff00" stop-opacity=".237"/><stop offset=".3654" stop-color="#36ff00" stop-opacity=".613"/><stop offset=".4423" stop-color="#36ff00" stop-opacity=".914"/><stop offset=".5" stop-color="#36ff00" stop-opacity="1"/><stop offset=".5577" stop-color="#36ff00" stop-opacity=".914"/><stop offset=".6346" stop-color="#36ff00" stop-opacity=".613"/><stop offset=".7308" stop-color="#36ff00" stop-opacity=".237"/><stop offset=".8462" stop-color="#36ff00" stop-opacity=".039"/><stop offset="1" stop-color="#36ff00" stop-opacity=".001"/></linearGradient>
<linearGradient id="eL2" gradientUnits="userSpaceOnUse" x1="1000.28" x2="1007.56"><stop offset="0" stop-color="#ac0000" stop-opacity=".001"/><stop offset=".1538" stop-color="#ac0000" stop-opacity=".039"/><stop offset=".2692" stop-color="#ac0000" stop-opacity=".237"/><stop offset=".3654" stop-color="#ac0000" stop-opacity=".613"/><stop offset=".4423" stop-color="#ac0000" stop-opacity=".914"/><stop offset=".5" stop-color="#ac0000" stop-opacity="1"/><stop offset=".5577" stop-color="#ac0000" stop-opacity=".914"/><stop offset=".6346" stop-color="#ac0000" stop-opacity=".613"/><stop offset=".7308" stop-color="#ac0000" stop-opacity=".237"/><stop offset=".8462" stop-color="#ac0000" stop-opacity=".039"/><stop offset="1" stop-color="#ac0000" stop-opacity=".001"/></linearGradient>
<linearGradient id="eL3" gradientUnits="userSpaceOnUse" x1="998.53" x2="1009.31"><stop offset="0" stop-color="#a80000" stop-opacity=".001"/><stop offset=".1538" stop-color="#a80000" stop-opacity=".039"/><stop offset=".2692" stop-color="#a80000" stop-opacity=".237"/><stop offset=".3654" stop-color="#a80000" stop-opacity=".613"/><stop offset=".4423" stop-color="#a80000" stop-opacity=".914"/><stop offset=".5" stop-color="#a80000" stop-opacity="1"/><stop offset=".5577" stop-color="#a80000" stop-opacity=".914"/><stop offset=".6346" stop-color="#a80000" stop-opacity=".613"/><stop offset=".7308" stop-color="#a80000" stop-opacity=".237"/><stop offset=".8462" stop-color="#a80000" stop-opacity=".039"/><stop offset="1" stop-color="#a80000" stop-opacity=".001"/></linearGradient>
<linearGradient id="eL4" gradientUnits="userSpaceOnUse" x1="1090.55" x2="1138.47"><stop offset="0" stop-color="#900000" stop-opacity=".001"/><stop offset=".1538" stop-color="#900000" stop-opacity=".039"/><stop offset=".2692" stop-color="#900000" stop-opacity=".237"/><stop offset=".3654" stop-color="#900000" stop-opacity=".613"/><stop offset=".4423" stop-color="#900000" stop-opacity=".914"/><stop offset=".5" stop-color="#900000" stop-opacity="1"/><stop offset=".5577" stop-color="#900000" stop-opacity=".914"/><stop offset=".6346" stop-color="#900000" stop-opacity=".613"/><stop offset=".7308" stop-color="#900000" stop-opacity=".237"/><stop offset=".8462" stop-color="#900000" stop-opacity=".039"/><stop offset="1" stop-color="#900000" stop-opacity=".001"/></linearGradient>
<linearGradient id="eL5" gradientUnits="userSpaceOnUse" x1="1110.02" x2="1119.00"><stop offset="0" stop-color="#bf0000" stop-opacity=".001"/><stop offset=".1538" stop-color="#bf0000" stop-opacity=".039"/><stop offset=".2692" stop-color="#bf0000" stop-opacity=".237"/><stop offset=".3654" stop-color="#bf0000" stop-opacity=".613"/><stop offset=".4423" stop-color="#bf0000" stop-opacity=".914"/><stop offset=".5" stop-color="#bf0000" stop-opacity="1"/><stop offset=".5577" stop-color="#bf0000" stop-opacity=".914"/><stop offset=".6346" stop-color="#bf0000" stop-opacity=".613"/><stop offset=".7308" stop-color="#bf0000" stop-opacity=".237"/><stop offset=".8462" stop-color="#bf0000" stop-opacity=".039"/><stop offset="1" stop-color="#bf0000" stop-opacity=".001"/></linearGradient>
<linearGradient id="eL6" gradientUnits="userSpaceOnUse" x1="1141.63" x2="1147.29"><stop offset="0" stop-color="#8e0000" stop-opacity=".001"/><stop offset=".1538" stop-color="#8e0000" stop-opacity=".039"/><stop offset=".2692" stop-color="#8e0000" stop-opacity=".237"/><stop offset=".3654" stop-color="#8e0000" stop-opacity=".613"/><stop offset=".4423" stop-color="#8e0000" stop-opacity=".914"/><stop offset=".5" stop-color="#8e0000" stop-opacity="1"/><stop offset=".5577" stop-color="#8e0000" stop-opacity=".914"/><stop offset=".6346" stop-color="#8e0000" stop-opacity=".613"/><stop offset=".7308" stop-color="#8e0000" stop-opacity=".237"/><stop offset=".8462" stop-color="#8e0000" stop-opacity=".039"/><stop offset="1" stop-color="#8e0000" stop-opacity=".001"/></linearGradient>
<linearGradient id="eL7" gradientUnits="userSpaceOnUse" x1="1351.24" x2="1359.32"><stop offset="0" stop-color="#900000" stop-opacity=".001"/><stop offset=".1538" stop-color="#900000" stop-opacity=".039"/><stop offset=".2692" stop-color="#900000" stop-opacity=".237"/><stop offset=".3654" stop-color="#900000" stop-opacity=".613"/><stop offset=".4423" stop-color="#900000" stop-opacity=".914"/><stop offset=".5" stop-color="#900000" stop-opacity="1"/><stop offset=".5577" stop-color="#900000" stop-opacity=".914"/><stop offset=".6346" stop-color="#900000" stop-opacity=".613"/><stop offset=".7308" stop-color="#900000" stop-opacity=".237"/><stop offset=".8462" stop-color="#900000" stop-opacity=".039"/><stop offset="1" stop-color="#900000" stop-opacity=".001"/></linearGradient>
<linearGradient id="eL8" gradientUnits="userSpaceOnUse" x1="1394.91" x2="1430.85"><stop offset="0" stop-color="#8a0000" stop-opacity=".001"/><stop offset=".1538" stop-color="#8a0000" stop-opacity=".039"/><stop offset=".2692" stop-color="#8a0000" stop-opacity=".237"/><stop offset=".3654" stop-color="#8a0000" stop-opacity=".613"/><stop offset=".4423" stop-color="#8a0000" stop-opacity=".914"/><stop offset=".5" stop-color="#8a0000" stop-opacity="1"/><stop offset=".5577" stop-color="#8a0000" stop-opacity=".914"/><stop offset=".6346" stop-color="#8a0000" stop-opacity=".613"/><stop offset=".7308" stop-color="#8a0000" stop-opacity=".237"/><stop offset=".8462" stop-color="#8a0000" stop-opacity=".039"/><stop offset="1" stop-color="#8a0000" stop-opacity=".001"/></linearGradient>
<linearGradient id="eL9" gradientUnits="userSpaceOnUse" x1="1408.03" x2="1417.73"><stop offset="0" stop-color="#b90000" stop-opacity=".001"/><stop offset=".1538" stop-color="#b90000" stop-opacity=".039"/><stop offset=".2692" stop-color="#b90000" stop-opacity=".237"/><stop offset=".3654" stop-color="#b90000" stop-opacity=".613"/><stop offset=".4423" stop-color="#b90000" stop-opacity=".914"/><stop offset=".5" stop-color="#b90000" stop-opacity="1"/><stop offset=".5577" stop-color="#b90000" stop-opacity=".914"/><stop offset=".6346" stop-color="#b90000" stop-opacity=".613"/><stop offset=".7308" stop-color="#b90000" stop-opacity=".237"/><stop offset=".8462" stop-color="#b90000" stop-opacity=".039"/><stop offset="1" stop-color="#b90000" stop-opacity=".001"/></linearGradient>
<filter id="Fe" filterUnits="userSpaceOnUse" x="733" y="2096" width="864" height="760" color-interpolation-filters="sRGB"><feTurbulence type="fractalNoise" baseFrequency="0.3 0.0003" numOctaves="3" seed="13" x="733" y="2096" width="864" height="28" result="f0"/><feTurbulence type="fractalNoise" baseFrequency="0.045 0.0003" numOctaves="2" seed="113" x="733" y="2096" width="864" height="28" result="c0"/><feTurbulence type="fractalNoise" baseFrequency="0.3 0.0003" numOctaves="3" seed="20" x="733" y="2124" width="864" height="28" result="f1"/><feTurbulence type="fractalNoise" baseFrequency="0.045 0.0003" numOctaves="2" seed="120" x="733" y="2124" width="864" height="28" result="c1"/><feTurbulence type="fractalNoise" baseFrequency="0.3 0.0003" numOctaves="3" seed="27" x="733" y="2152" width="864" height="28" result="f2"/><feTurbulence type="fractalNoise" baseFrequency="0.045 0.0003" numOctaves="2" seed="127" x="733" y="2152" width="864" height="28" result="c2"/><feTurbulence type="fractalNoise" baseFrequency="0.3 0.0003" numOctaves="3" seed="34" x="733" y="2180" width="864" height="29" result="f3"/><feTurbulence type="fractalNoise" baseFrequency="0.045 0.0003" numOctaves="2" seed="134" x="733" y="2180" width="864" height="29" result="c3"/><feTurbulence type="fractalNoise" baseFrequency="0.3 0.0003" numOctaves="3" seed="41" x="733" y="2209" width="864" height="28" result="f4"/><feTurbulence type="fractalNoise" baseFrequency="0.045 0.0003" numOctaves="2" seed="141" x="733" y="2209" width="864" height="28" result="c4"/><feTurbulence type="fractalNoise" baseFrequency="0.3 0.0003" numOctaves="3" seed="48" x="733" y="2237" width="864" height="28" result="f5"/><feTurbulence type="fractalNoise" baseFrequency="0.045 0.0003" numOctaves="2" seed="148" x="733" y="2237" width="864" height="28" result="c5"/><feTurbulence type="fractalNoise" baseFrequency="0.3 0.0003" numOctaves="3" seed="55" x="733" y="2265" width="864" height="28" result="f6"/><feTurbulence type="fractalNoise" baseFrequency="0.045 0.0003" numOctaves="2" seed="155" x="733" y="2265" width="864" height="28" result="c6"/><feTurbulence type="fractalNoise" baseFrequency="0.3 0.0003" numOctaves="3" seed="62" x="733" y="2293" width="864" height="28" result="f7"/><feTurbulence type="fractalNoise" baseFrequency="0.045 0.0003" numOctaves="2" seed="162" x="733" y="2293" width="864" height="28" result="c7"/><feTurbulence type="fractalNoise" baseFrequency="0.3 0.0003" numOctaves="3" seed="69" x="733" y="2321" width="864" height="28" result="f8"/><feTurbulence type="fractalNoise" baseFrequency="0.045 0.0003" numOctaves="2" seed="169" x="733" y="2321" width="864" height="28" result="c8"/><feTurbulence type="fractalNoise" baseFrequency="0.3 0.0003" numOctaves="3" seed="76" x="733" y="2349" width="864" height="28" result="f9"/><feTurbulence type="fractalNoise" baseFrequency="0.045 0.0003" numOctaves="2" seed="176" x="733" y="2349" width="864" height="28" result="c9"/><feTurbulence type="fractalNoise" baseFrequency="0.3 0.0003" numOctaves="3" seed="83" x="733" y="2377" width="864" height="28" result="f10"/><feTurbulence type="fractalNoise" baseFrequency="0.045 0.0003" numOctaves="2" seed="183" x="733" y="2377" width="864" height="28" result="c10"/><feTurbulence type="fractalNoise" baseFrequency="0.3 0.0003" numOctaves="3" seed="90" x="733" y="2405" width="864" height="29" result="f11"/><feTurbulence type="fractalNoise" baseFrequency="0.045 0.0003" numOctaves="2" seed="190" x="733" y="2405" width="864" height="29" result="c11"/><feTurbulence type="fractalNoise" baseFrequency="0.3 0.0003" numOctaves="3" seed="97" x="733" y="2434" width="864" height="28" result="f12"/><feTurbulence type="fractalNoise" baseFrequency="0.045 0.0003" numOctaves="2" seed="197" x="733" y="2434" width="864" height="28" result="c12"/><feTurbulence type="fractalNoise" baseFrequency="0.3 0.0003" numOctaves="3" seed="7" x="733" y="2462" width="864" height="28" result="f13"/><feTurbulence type="fractalNoise" baseFrequency="0.045 0.0003" numOctaves="2" seed="107" x="733" y="2462" width="864" height="28" result="c13"/><feTurbulence type="fractalNoise" baseFrequency="0.3 0.0003" numOctaves="3" seed="14" x="733" y="2490" width="864" height="28" result="f14"/><feTurbulence type="fractalNoise" baseFrequency="0.045 0.0003" numOctaves="2" seed="114" x="733" y="2490" width="864" height="28" result="c14"/><feTurbulence type="fractalNoise" baseFrequency="0.3 0.0003" numOctaves="3" seed="21" x="733" y="2518" width="864" height="28" result="f15"/><feTurbulence type="fractalNoise" baseFrequency="0.045 0.0003" numOctaves="2" seed="121" x="733" y="2518" width="864" height="28" result="c15"/><feTurbulence type="fractalNoise" baseFrequency="0.3 0.0003" numOctaves="3" seed="28" x="733" y="2546" width="864" height="28" result="f16"/><feTurbulence type="fractalNoise" baseFrequency="0.045 0.0003" numOctaves="2" seed="128" x="733" y="2546" width="864" height="28" result="c16"/><feTurbulence type="fractalNoise" baseFrequency="0.3 0.0003" numOctaves="3" seed="35" x="733" y="2574" width="864" height="28" result="f17"/><feTurbulence type="fractalNoise" baseFrequency="0.045 0.0003" numOctaves="2" seed="135" x="733" y="2574" width="864" height="28" result="c17"/><feTurbulence type="fractalNoise" baseFrequency="0.3 0.0003" numOctaves="3" seed="42" x="733" y="2602" width="864" height="28" result="f18"/><feTurbulence type="fractalNoise" baseFrequency="0.045 0.0003" numOctaves="2" seed="142" x="733" y="2602" width="864" height="28" result="c18"/><feTurbulence type="fractalNoise" baseFrequency="0.3 0.0003" numOctaves="3" seed="49" x="733" y="2630" width="864" height="29" result="f19"/><feTurbulence type="fractalNoise" baseFrequency="0.045 0.0003" numOctaves="2" seed="149" x="733" y="2630" width="864" height="29" result="c19"/><feTurbulence type="fractalNoise" baseFrequency="0.3 0.0003" numOctaves="3" seed="56" x="733" y="2659" width="864" height="28" result="f20"/><feTurbulence type="fractalNoise" baseFrequency="0.045 0.0003" numOctaves="2" seed="156" x="733" y="2659" width="864" height="28" result="c20"/><feTurbulence type="fractalNoise" baseFrequency="0.3 0.0003" numOctaves="3" seed="63" x="733" y="2687" width="864" height="28" result="f21"/><feTurbulence type="fractalNoise" baseFrequency="0.045 0.0003" numOctaves="2" seed="163" x="733" y="2687" width="864" height="28" result="c21"/><feTurbulence type="fractalNoise" baseFrequency="0.3 0.0003" numOctaves="3" seed="70" x="733" y="2715" width="864" height="28" result="f22"/><feTurbulence type="fractalNoise" baseFrequency="0.045 0.0003" numOctaves="2" seed="170" x="733" y="2715" width="864" height="28" result="c22"/><feTurbulence type="fractalNoise" baseFrequency="0.3 0.0003" numOctaves="3" seed="77" x="733" y="2743" width="864" height="28" result="f23"/><feTurbulence type="fractalNoise" baseFrequency="0.045 0.0003" numOctaves="2" seed="177" x="733" y="2743" width="864" height="28" result="c23"/><feTurbulence type="fractalNoise" baseFrequency="0.3 0.0003" numOctaves="3" seed="84" x="733" y="2771" width="864" height="28" result="f24"/><feTurbulence type="fractalNoise" baseFrequency="0.045 0.0003" numOctaves="2" seed="184" x="733" y="2771" width="864" height="28" result="c24"/><feTurbulence type="fractalNoise" baseFrequency="0.3 0.0003" numOctaves="3" seed="91" x="733" y="2799" width="864" height="28" result="f25"/><feTurbulence type="fractalNoise" baseFrequency="0.045 0.0003" numOctaves="2" seed="191" x="733" y="2799" width="864" height="28" result="c25"/><feTurbulence type="fractalNoise" baseFrequency="0.3 0.0003" numOctaves="3" seed="1" x="733" y="2827" width="864" height="29" result="f26"/><feTurbulence type="fractalNoise" baseFrequency="0.045 0.0003" numOctaves="2" seed="101" x="733" y="2827" width="864" height="29" result="c26"/><feMerge><feMergeNode in="f0"/><feMergeNode in="f1"/><feMergeNode in="f2"/><feMergeNode in="f3"/><feMergeNode in="f4"/><feMergeNode in="f5"/><feMergeNode in="f6"/><feMergeNode in="f7"/><feMergeNode in="f8"/><feMergeNode in="f9"/><feMergeNode in="f10"/><feMergeNode in="f11"/><feMergeNode in="f12"/><feMergeNode in="f13"/><feMergeNode in="f14"/><feMergeNode in="f15"/><feMergeNode in="f16"/><feMergeNode in="f17"/><feMergeNode in="f18"/><feMergeNode in="f19"/><feMergeNode in="f20"/><feMergeNode in="f21"/><feMergeNode in="f22"/><feMergeNode in="f23"/><feMergeNode in="f24"/><feMergeNode in="f25"/><feMergeNode in="f26"/></feMerge><feColorMatrix type="matrix" values="1 0 0 0 0 1 0 0 0 0 1 0 0 0 0 0 0 0 0 1"/><feComponentTransfer result="F"><feFuncR type="table" tableValues="0 .2 .5 .66 .78"/><feFuncG type="table" tableValues="0 .2 .5 .66 .78"/><feFuncB type="table" tableValues="0 .2 .5 .66 .78"/></feComponentTransfer><feMerge><feMergeNode in="c0"/><feMergeNode in="c1"/><feMergeNode in="c2"/><feMergeNode in="c3"/><feMergeNode in="c4"/><feMergeNode in="c5"/><feMergeNode in="c6"/><feMergeNode in="c7"/><feMergeNode in="c8"/><feMergeNode in="c9"/><feMergeNode in="c10"/><feMergeNode in="c11"/><feMergeNode in="c12"/><feMergeNode in="c13"/><feMergeNode in="c14"/><feMergeNode in="c15"/><feMergeNode in="c16"/><feMergeNode in="c17"/><feMergeNode in="c18"/><feMergeNode in="c19"/><feMergeNode in="c20"/><feMergeNode in="c21"/><feMergeNode in="c22"/><feMergeNode in="c23"/><feMergeNode in="c24"/><feMergeNode in="c25"/><feMergeNode in="c26"/></feMerge><feColorMatrix type="matrix" values="1 0 0 0 0 1 0 0 0 0 1 0 0 0 0 0 0 0 0 1" result="C"/><feTurbulence type="fractalNoise" baseFrequency="0.3 0.0001" numOctaves="2" seed="101"/><feColorMatrix type="matrix" values="1 0 0 0 0 1 0 0 0 0 1 0 0 0 0 0 0 0 0 1"/><feComponentTransfer result="G"><feFuncR type="table" tableValues="0 .2 .5 .66 .78"/><feFuncG type="table" tableValues="0 .2 .5 .66 .78"/><feFuncB type="table" tableValues="0 .2 .5 .66 .78"/></feComponentTransfer><feComposite in="F" in2="C" operator="arithmetic" k1="0" k2="0.33" k3="0.05" k4="0" result="n1"/><feComposite in="n1" in2="G" operator="arithmetic" k1="0" k2="1" k3="0.2" k4="0" result="n"/><feColorMatrix in="SourceGraphic" type="matrix" values="1 0 0 0 0 1 0 0 0 0 1 0 0 0 0 0 0 0 0 1" result="V"/><feColorMatrix in="SourceGraphic" type="matrix" values="0 1 0 0 0 0 1 0 0 0 0 1 0 0 0 0 0 0 0 1" result="M"/><feComposite in="n" in2="M" operator="arithmetic" k1="1" k2="0" k3="0" k4="0" result="nm"/><feComposite in="V" in2="nm" operator="arithmetic" k1="0" k2="1" k3="1" k4="0"/><feComponentTransfer><feFuncR type="table" tableValues=".242 .250 .258 .265 .271 .275 .278 .280 .281 .281 .280 .276 .270 .260 .244 .221 .196 .183 .179 .176 .169 .154 .146 .138 .125 .111 .095 .069 .030 .004 .007 .043 .096 .141 .172 .194 .216 .247 .291 .341 .391 .446 .504 .562 .617 .672 .724 .774 .820 .863 .903 .939 .973 .996 .997 .995 .989 .979 .968 .961 .960 .963 .969 .977"/><feFuncG type="table" tableValues=".150 .165 .182 .198 .215 .234 .256 .278 .301 .323 .345 .367 .389 .412 .436 .460 .485 .507 .529 .550 .570 .590 .609 .628 .646 .663 .680 .695 .708 .720 .731 .741 .750 .758 .767 .776 .784 .792 .797 .801 .803 .802 .799 .794 .788 .779 .770 .760 .750 .741 .733 .729 .730 .743 .766 .789 .814 .839 .864 .889 .913 .937 .961 .984"/><feFuncB type="table" tableValues=".660 .708 .751 .795 .836 .871 .899 .922 .941 .958 .972 .983 .991 .995 .999 .997 .989 .980 .968 .952 .936 .922 .908 .897 .888 .876 .860 .839 .816 .792 .766 .739 .712 .684 .655 .625 .592 .557 .519 .479 .435 .391 .348 .304 .261 .223 .191 .165 .153 .160 .177 .210 .239 .237 .220 .203 .189 .177 .164 .154 .142 .127 .106 .081"/></feComponentTransfer></filter>
</defs>
<g filter="url(#Fa)"><rect x="133" y="70" width="867" height="29" fill="url(#a0)"/><rect x="133" y="99" width="867" height="28" fill="url(#a1)"/><rect x="133" y="127" width="867" height="28" fill="url(#a2)"/><rect x="133" y="155" width="867" height="28" fill="url(#a3)"/><rect x="133" y="183" width="867" height="28" fill="url(#a4)"/><rect x="133" y="211" width="867" height="29" fill="url(#a5)"/><rect x="133" y="240" width="867" height="28" fill="url(#a6)"/><rect x="133" y="268" width="867" height="28" fill="url(#a7)"/><rect x="133" y="296" width="867" height="28" fill="url(#a8)"/><rect x="133" y="324" width="867" height="28" fill="url(#a9)"/><rect x="133" y="352" width="867" height="29" fill="url(#a10)"/><rect x="133" y="381" width="867" height="28" fill="url(#a11)"/><rect x="133" y="409" width="867" height="28" fill="url(#a12)"/><rect x="133" y="437" width="867" height="28" fill="url(#a13)"/><rect x="133" y="465" width="867" height="28" fill="url(#a14)"/><rect x="133" y="493" width="867" height="29" fill="url(#a15)"/><rect x="133" y="522" width="867" height="28" fill="url(#a16)"/><rect x="133" y="550" width="867" height="28" fill="url(#a17)"/><rect x="133" y="578" width="867" height="28" fill="url(#a18)"/><rect x="133" y="606" width="867" height="28" fill="url(#a19)"/><rect x="133" y="634" width="867" height="29" fill="url(#a20)"/><rect x="133" y="663" width="867" height="28" fill="url(#a21)"/><rect x="133" y="691" width="867" height="28" fill="url(#a22)"/><rect x="133" y="719" width="867" height="28" fill="url(#a23)"/><rect x="133" y="747" width="867" height="28" fill="url(#a24)"/><rect x="133" y="775" width="867" height="29" fill="url(#a25)"/><rect x="133" y="804" width="867" height="28" fill="url(#a26)"/><rect x="245.63" y="70" width="27.04" height="762" fill="url(#aL0)"/><rect x="423.57" y="70" width="27.04" height="29" fill="url(#aL1)" opacity=".3"/><rect x="423.57" y="99" width="27.04" height="28" fill="url(#aL1)" opacity=".3"/><rect x="423.57" y="127" width="27.04" height="28" fill="url(#aL1)" opacity=".3"/><rect x="423.57" y="155" width="27.04" height="28" fill="url(#aL1)" opacity=".3"/><rect x="423.57" y="183" width="27.04" height="28" fill="url(#aL1)" opacity=".3"/><rect x="423.57" y="211" width="27.04" height="29" fill="url(#aL1)" opacity=".3"/><rect x="423.57" y="240" width="27.04" height="28" fill="url(#aL1)" opacity=".3"/><rect x="423.57" y="268" width="27.04" height="28" fill="url(#aL1)" opacity=".3"/><rect x="423.57" y="296" width="27.04" height="28" fill="url(#aL1)" opacity=".3"/><rect x="423.57" y="324" width="27.04" height="28" fill="url(#aL1)" opacity=".3"/><rect x="423.57" y="352" width="27.04" height="29" fill="url(#aL1)" opacity=".3"/><rect x="423.57" y="381" width="27.04" height="28" fill="url(#aL1)" opacity=".3"/><rect x="423.57" y="409" width="27.04" height="28" fill="url(#aL1)"/><rect x="423.57" y="437" width="27.04" height="28" fill="url(#aL1)"/><rect x="423.57" y="465" width="27.04" height="28" fill="url(#aL1)"/><rect x="423.57" y="493" width="27.04" height="29" fill="url(#aL1)"/><rect x="423.57" y="522" width="27.04" height="28" fill="url(#aL1)"/><rect x="423.57" y="550" width="27.04" height="28" fill="url(#aL1)"/><rect x="423.57" y="578" width="27.04" height="28" fill="url(#aL1)"/><rect x="423.57" y="606" width="27.04" height="28" fill="url(#aL1)"/><rect x="423.57" y="634" width="27.04" height="29" fill="url(#aL1)"/><rect x="423.57" y="663" width="27.04" height="28" fill="url(#aL1)"/><rect x="423.57" y="691" width="27.04" height="28" fill="url(#aL1)"/><rect x="423.57" y="719" width="27.04" height="28" fill="url(#aL1)"/><rect x="423.57" y="747" width="27.04" height="28" fill="url(#aL1)"/><rect x="423.57" y="775" width="27.04" height="29" fill="url(#aL1)"/><rect x="423.57" y="804" width="27.04" height="28" fill="url(#aL1)"/><rect x="293.28" y="70" width="5.68" height="762" fill="url(#aL2)"/><rect x="400.68" y="70" width="8.11" height="29" fill="url(#aL3)" opacity=".5"/><rect x="400.68" y="99" width="8.11" height="28" fill="url(#aL3)" opacity=".8"/><rect x="400.68" y="127" width="8.11" height="28" fill="url(#aL3)"/><rect x="400.68" y="155" width="8.11" height="28" fill="url(#aL3)" opacity=".9"/><rect x="400.68" y="183" width="8.11" height="28" fill="url(#aL3)"/><rect x="400.68" y="211" width="8.11" height="29" fill="url(#aL3)" opacity=".9"/><rect x="400.68" y="240" width="8.11" height="28" fill="url(#aL3)" opacity=".85"/><rect x="400.68" y="268" width="8.11" height="28" fill="url(#aL3)" opacity=".9"/><rect x="400.68" y="296" width="8.11" height="28" fill="url(#aL3)" opacity=".85"/><rect x="400.68" y="324" width="8.11" height="28" fill="url(#aL3)"/><rect x="400.68" y="352" width="8.11" height="29" fill="url(#aL3)" opacity=".85"/><rect x="400.68" y="381" width="8.11" height="28" fill="url(#aL3)" opacity=".85"/><rect x="400.68" y="409" width="8.11" height="28" fill="url(#aL3)" opacity=".85"/><rect x="400.68" y="437" width="8.11" height="28" fill="url(#aL3)" opacity=".85"/><rect x="400.68" y="465" width="8.11" height="28" fill="url(#aL3)" opacity=".9"/><rect x="400.68" y="493" width="8.11" height="29" fill="url(#aL3)" opacity=".9"/><rect x="400.68" y="522" width="8.11" height="28" fill="url(#aL3)" opacity=".9"/><rect x="400.68" y="550" width="8.11" height="28" fill="url(#aL3)" opacity=".9"/><rect x="400.68" y="578" width="8.11" height="28" fill="url(#aL3)" opacity=".9"/><rect x="400.68" y="606" width="8.11" height="28" fill="url(#aL3)" opacity=".9"/><rect x="400.68" y="634" width="8.11" height="29" fill="url(#aL3)" opacity=".9"/><rect x="400.68" y="663" width="8.11" height="28" fill="url(#aL3)" opacity=".9"/><rect x="400.68" y="691" width="8.11" height="28" fill="url(#aL3)" opacity=".95"/><rect x="400.68" y="719" width="8.11" height="28" fill="url(#aL3)" opacity=".9"/><rect x="400.68" y="747" width="8.11" height="28" fill="url(#aL3)"/><rect x="400.68" y="775" width="8.11" height="29" fill="url(#aL3)" opacity=".95"/><rect x="400.68" y="804" width="8.11" height="28" fill="url(#aL3)" opacity=".9"/><rect x="398.73" y="127" width="12.02" height="28" fill="url(#aL4)"/><rect x="398.73" y="183" width="12.02" height="28" fill="url(#aL4)"/><rect x="398.73" y="324" width="12.02" height="28" fill="url(#aL4)"/><rect x="398.73" y="747" width="12.02" height="28" fill="url(#aL4)"/><rect x="491.97" y="70" width="45.06" height="762" fill="url(#aL5)"/><rect x="505.72" y="70" width="18.03" height="762" fill="url(#aL6)"/><rect x="509.87" y="70" width="9.73" height="762" fill="url(#aL7)"/><rect x="542.86" y="70" width="5.68" height="762" fill="url(#aL8)"/><rect x="743.63" y="70" width="27.04" height="762" fill="url(#aL9)"/><rect x="753.10" y="70" width="8.11" height="762" fill="url(#aL10)"/><rect x="796.90" y="70" width="36.05" height="762" fill="url(#aL11)"/><rect x="809.25" y="70" width="11.36" height="762" fill="url(#aL12)"/><rect x="827.05" y="70" width="8.11" height="762" fill="url(#aL13)"/></g>
<rect x="1023.3" y="70.4" width="47.9" height="763.6" fill="url(#cb)" filter="url(#cm)"/>
<g filter="url(#Fb)"><rect x="1332" y="66" width="864" height="28" fill="url(#b0)"/><rect x="1332" y="94" width="864" height="28" fill="url(#b1)"/><rect x="1332" y="122" width="864" height="28" fill="url(#b2)"/><rect x="1332" y="150" width="864" height="29" fill="url(#b3)"/><rect x="1332" y="179" width="864" height="28" fill="url(#b4)"/><rect x="1332" y="207" width="864" height="28" fill="url(#b5)"/><rect x="1332" y="235" width="864" height="28" fill="url(#b6)"/><rect x="1332" y="263" width="864" height="28" fill="url(#b7)"/><rect x="1332" y="291" width="864" height="28" fill="url(#b8)"/><rect x="1332" y="319" width="864" height="28" fill="url(#b9)"/><rect x="1332" y="347" width="864" height="28" fill="url(#b10)"/><rect x="1332" y="375" width="864" height="29" fill="url(#b11)"/><rect x="1332" y="404" width="864" height="28" fill="url(#b12)"/><rect x="1332" y="432" width="864" height="28" fill="url(#b13)"/><rect x="1332" y="460" width="864" height="28" fill="url(#b14)"/><rect x="1332" y="488" width="864" height="28" fill="url(#b15)"/><rect x="1332" y="516" width="864" height="28" fill="url(#b16)"/><rect x="1332" y="544" width="864" height="28" fill="url(#b17)"/><rect x="1332" y="572" width="864" height="28" fill="url(#b18)"/><rect x="1332" y="600" width="864" height="29" fill="url(#b19)"/><rect x="1332" y="629" width="864" height="28" fill="url(#b20)"/><rect x="1332" y="657" width="864" height="28" fill="url(#b21)"/><rect x="1332" y="685" width="864" height="28" fill="url(#b22)"/><rect x="1332" y="713" width="864" height="28" fill="url(#b23)"/><rect x="1332" y="741" width="864" height="28" fill="url(#b24)"/><rect x="1332" y="769" width="864" height="28" fill="url(#b25)"/><rect x="1332" y="797" width="864" height="28" fill="url(#b26)"/><rect x="1443.93" y="66" width="26.97" height="759" fill="url(#bL0)"/><rect x="1621.40" y="66" width="26.97" height="28" fill="url(#bL1)" opacity=".3"/><rect x="1621.40" y="94" width="26.97" height="28" fill="url(#bL1)" opacity=".3"/><rect x="1621.40" y="122" width="26.97" height="28" fill="url(#bL1)" opacity=".3"/><rect x="1621.40" y="150" width="26.97" height="29" fill="url(#bL1)" opacity=".3"/><rect x="1621.40" y="179" width="26.97" height="28" fill="url(#bL1)" opacity=".3"/><rect x="1621.40" y="207" width="26.97" height="28" fill="url(#bL1)" opacity=".3"/><rect x="1621.40" y="235" width="26.97" height="28" fill="url(#bL1)" opacity=".3"/><rect x="1621.40" y="263" width="26.97" height="28" fill="url(#bL1)" opacity=".3"/><rect x="1621.40" y="291" width="26.97" height="28" fill="url(#bL1)" opacity=".3"/><rect x="1621.40" y="319" width="26.97" height="28" fill="url(#bL1)" opacity=".3"/><rect x="1621.40" y="347" width="26.97" height="28" fill="url(#bL1)" opacity=".3"/><rect x="1621.40" y="375" width="26.97" height="29" fill="url(#bL1)" opacity=".3"/><rect x="1621.40" y="404" width="26.97" height="28" fill="url(#bL1)"/><rect x="1621.40" y="432" width="26.97" height="28" fill="url(#bL1)"/><rect x="1621.40" y="460" width="26.97" height="28" fill="url(#bL1)"/><rect x="1621.40" y="488" width="26.97" height="28" fill="url(#bL1)"/><rect x="1621.40" y="516" width="26.97" height="28" fill="url(#bL1)"/><rect x="1621.40" y="544" width="26.97" height="28" fill="url(#bL1)"/><rect x="1621.40" y="572" width="26.97" height="28" fill="url(#bL1)"/><rect x="1621.40" y="600" width="26.97" height="29" fill="url(#bL1)"/><rect x="1621.40" y="629" width="26.97" height="28" fill="url(#bL1)"/><rect x="1621.40" y="657" width="26.97" height="28" fill="url(#bL1)"/><rect x="1621.40" y="685" width="26.97" height="28" fill="url(#bL1)"/><rect x="1621.40" y="713" width="26.97" height="28" fill="url(#bL1)"/><rect x="1621.40" y="741" width="26.97" height="28" fill="url(#bL1)"/><rect x="1621.40" y="769" width="26.97" height="28" fill="url(#bL1)"/><rect x="1621.40" y="797" width="26.97" height="28" fill="url(#bL1)"/><rect x="1599.38" y="66" width="6.47" height="28" fill="url(#bL2)" opacity=".5"/><rect x="1599.38" y="94" width="6.47" height="28" fill="url(#bL2)" opacity=".8"/><rect x="1599.38" y="122" width="6.47" height="28" fill="url(#bL2)"/><rect x="1599.38" y="150" width="6.47" height="29" fill="url(#bL2)" opacity=".9"/><rect x="1599.38" y="179" width="6.47" height="28" fill="url(#bL2)"/><rect x="1599.38" y="207" width="6.47" height="28" fill="url(#bL2)" opacity=".9"/><rect x="1599.38" y="235" width="6.47" height="28" fill="url(#bL2)" opacity=".85"/><rect x="1599.38" y="263" width="6.47" height="28" fill="url(#bL2)" opacity=".9"/><rect x="1599.38" y="291" width="6.47" height="28" fill="url(#bL2)" opacity=".85"/><rect x="1599.38" y="319" width="6.47" height="28" fill="url(#bL2)"/><rect x="1599.38" y="347" width="6.47" height="28" fill="url(#bL2)" opacity=".85"/><rect x="1599.38" y="375" width="6.47" height="29" fill="url(#bL2)" opacity=".85"/><rect x="1599.38" y="404" width="6.47" height="28" fill="url(#bL2)" opacity=".85"/><rect x="1599.38" y="432" width="6.47" height="28" fill="url(#bL2)" opacity=".85"/><rect x="1599.38" y="460" width="6.47" height="28" fill="url(#bL2)" opacity=".9"/><rect x="1599.38" y="488" width="6.47" height="28" fill="url(#bL2)" opacity=".9"/><rect x="1599.38" y="516" width="6.47" height="28" fill="url(#bL2)" opacity=".9"/><rect x="1599.38" y="544" width="6.47" height="28" fill="url(#bL2)" opacity=".9"/><rect x="1599.38" y="572" width="6.47" height="28" fill="url(#bL2)" opacity=".9"/><rect x="1599.38" y="600" width="6.47" height="29" fill="url(#bL2)" opacity=".9"/><rect x="1599.38" y="629" width="6.47" height="28" fill="url(#bL2)" opacity=".9"/><rect x="1599.38" y="657" width="6.47" height="28" fill="url(#bL2)" opacity=".9"/><rect x="1599.38" y="685" width="6.47" height="28" fill="url(#bL2)" opacity=".95"/><rect x="1599.38" y="713" width="6.47" height="28" fill="url(#bL2)" opacity=".9"/><rect x="1599.38" y="741" width="6.47" height="28" fill="url(#bL2)"/><rect x="1599.38" y="769" width="6.47" height="28" fill="url(#bL2)" opacity=".95"/><rect x="1599.38" y="797" width="6.47" height="28" fill="url(#bL2)" opacity=".9"/><rect x="1692.27" y="66" width="41.95" height="759" fill="url(#bL3)"/><rect x="1708.39" y="66" width="9.71" height="759" fill="url(#bL4)"/><rect x="1740.38" y="66" width="5.66" height="759" fill="url(#bL5)"/><rect x="1942.11" y="66" width="23.97" height="759" fill="url(#bL6)"/><rect x="1950.46" y="66" width="7.28" height="759" fill="url(#bL7)"/><rect x="1995.24" y="66" width="32.96" height="759" fill="url(#bL8)"/><rect x="2007.27" y="66" width="8.90" height="759" fill="url(#bL9)"/><rect x="2024.21" y="66" width="7.28" height="759" fill="url(#bL10)"/></g>
<rect x="2219.6" y="66.0" width="47.9" height="761.5" fill="url(#cb)" filter="url(#cm)"/>
<g filter="url(#Fc)"><rect x="134" y="1085" width="865" height="29" fill="url(#c0)"/><rect x="134" y="1114" width="865" height="28" fill="url(#c1)"/><rect x="134" y="1142" width="865" height="28" fill="url(#c2)"/><rect x="134" y="1170" width="865" height="28" fill="url(#c3)"/><rect x="134" y="1198" width="865" height="28" fill="url(#c4)"/><rect x="134" y="1226" width="865" height="28" fill="url(#c5)"/><rect x="134" y="1254" width="865" height="28" fill="url(#c6)"/><rect x="134" y="1282" width="865" height="28" fill="url(#c7)"/><rect x="134" y="1310" width="865" height="29" fill="url(#c8)"/><rect x="134" y="1339" width="865" height="28" fill="url(#c9)"/><rect x="134" y="1367" width="865" height="28" fill="url(#c10)"/><rect x="134" y="1395" width="865" height="28" fill="url(#c11)"/><rect x="134" y="1423" width="865" height="28" fill="url(#c12)"/><rect x="134" y="1451" width="865" height="28" fill="url(#c13)"/><rect x="134" y="1479" width="865" height="28" fill="url(#c14)"/><rect x="134" y="1507" width="865" height="29" fill="url(#c15)"/><rect x="134" y="1536" width="865" height="28" fill="url(#c16)"/><rect x="134" y="1564" width="865" height="28" fill="url(#c17)"/><rect x="134" y="1592" width="865" height="28" fill="url(#c18)"/><rect x="134" y="1620" width="865" height="28" fill="url(#c19)"/><rect x="134" y="1648" width="865" height="28" fill="url(#c20)"/><rect x="134" y="1676" width="865" height="28" fill="url(#c21)"/><rect x="134" y="1704" width="865" height="28" fill="url(#c22)"/><rect x="134" y="1732" width="865" height="29" fill="url(#c23)"/><rect x="134" y="1761" width="865" height="28" fill="url(#c24)"/><rect x="134" y="1789" width="865" height="28" fill="url(#c25)"/><rect x="134" y="1817" width="865" height="28" fill="url(#c26)"/><rect x="246.25" y="1085" width="26.97" height="760" fill="url(#cL0)"/><rect x="423.77" y="1085" width="26.97" height="29" fill="url(#cL1)" opacity=".3"/><rect x="423.77" y="1114" width="26.97" height="28" fill="url(#cL1)" opacity=".3"/><rect x="423.77" y="1142" width="26.97" height="28" fill="url(#cL1)" opacity=".3"/><rect x="423.77" y="1170" width="26.97" height="28" fill="url(#cL1)" opacity=".3"/><rect x="423.77" y="1198" width="26.97" height="28" fill="url(#cL1)" opacity=".3"/><rect x="423.77" y="1226" width="26.97" height="28" fill="url(#cL1)" opacity=".3"/><rect x="423.77" y="1254" width="26.97" height="28" fill="url(#cL1)" opacity=".3"/><rect x="423.77" y="1282" width="26.97" height="28" fill="url(#cL1)" opacity=".3"/><rect x="423.77" y="1310" width="26.97" height="29" fill="url(#cL1)" opacity=".3"/><rect x="423.77" y="1339" width="26.97" height="28" fill="url(#cL1)" opacity=".3"/><rect x="423.77" y="1367" width="26.97" height="28" fill="url(#cL1)" opacity=".3"/><rect x="423.77" y="1395" width="26.97" height="28" fill="url(#cL1)" opacity=".3"/><rect x="423.77" y="1423" width="26.97" height="28" fill="url(#cL1)"/><rect x="423.77" y="1451" width="26.97" height="28" fill="url(#cL1)"/><rect x="423.77" y="1479" width="26.97" height="28" fill="url(#cL1)"/><rect x="423.77" y="1507" width="26.97" height="29" fill="url(#cL1)"/><rect x="423.77" y="1536" width="26.97" height="28" fill="url(#cL1)"/><rect x="423.77" y="1564" width="26.97" height="28" fill="url(#cL1)"/><rect x="423.77" y="1592" width="26.97" height="28" fill="url(#cL1)"/><rect x="423.77" y="1620" width="26.97" height="28" fill="url(#cL1)"/><rect x="423.77" y="1648" width="26.97" height="28" fill="url(#cL1)"/><rect x="423.77" y="1676" width="26.97" height="28" fill="url(#cL1)"/><rect x="423.77" y="1704" width="26.97" height="28" fill="url(#cL1)"/><rect x="423.77" y="1732" width="26.97" height="29" fill="url(#cL1)"/><rect x="423.77" y="1761" width="26.97" height="28" fill="url(#cL1)"/><rect x="423.77" y="1789" width="26.97" height="28" fill="url(#cL1)"/><rect x="423.77" y="1817" width="26.97" height="28" fill="url(#cL1)"/><rect x="258.06" y="1085" width="5.66" height="760" fill="url(#cL2)"/><rect x="293.79" y="1085" width="5.66" height="760" fill="url(#cL3)"/><rect x="399.72" y="1085" width="10.52" height="29" fill="url(#cL4)" opacity=".5"/><rect x="399.72" y="1114" width="10.52" height="28" fill="url(#cL4)" opacity=".8"/><rect x="399.72" y="1142" width="10.52" height="28" fill="url(#cL4)"/><rect x="399.72" y="1170" width="10.52" height="28" fill="url(#cL4)" opacity=".9"/><rect x="399.72" y="1198" width="10.52" height="28" fill="url(#cL4)"/><rect x="399.72" y="1226" width="10.52" height="28" fill="url(#cL4)" opacity=".9"/><rect x="399.72" y="1254" width="10.52" height="28" fill="url(#cL4)" opacity=".85"/><rect x="399.72" y="1282" width="10.52" height="28" fill="url(#cL4)" opacity=".9"/><rect x="399.72" y="1310" width="10.52" height="29" fill="url(#cL4)" opacity=".85"/><rect x="399.72" y="1339" width="10.52" height="28" fill="url(#cL4)"/><rect x="399.72" y="1367" width="10.52" height="28" fill="url(#cL4)" opacity=".85"/><rect x="399.72" y="1395" width="10.52" height="28" fill="url(#cL4)" opacity=".85"/><rect x="399.72" y="1423" width="10.52" height="28" fill="url(#cL4)" opacity=".85"/><rect x="399.72" y="1451" width="10.52" height="28" fill="url(#cL4)" opacity=".85"/><rect x="399.72" y="1479" width="10.52" height="28" fill="url(#cL4)" opacity=".9"/><rect x="399.72" y="1507" width="10.52" height="29" fill="url(#cL4)" opacity=".9"/><rect x="399.72" y="1536" width="10.52" height="28" fill="url(#cL4)" opacity=".9"/><rect x="399.72" y="1564" width="10.52" height="28" fill="url(#cL4)" opacity=".9"/><rect x="399.72" y="1592" width="10.52" height="28" fill="url(#cL4)" opacity=".9"/><rect x="399.72" y="1620" width="10.52" height="28" fill="url(#cL4)" opacity=".9"/><rect x="399.72" y="1648" width="10.52" height="28" fill="url(#cL4)" opacity=".9"/><rect x="399.72" y="1676" width="10.52" height="28" fill="url(#cL4)" opacity=".9"/><rect x="399.72" y="1704" width="10.52" height="28" fill="url(#cL4)" opacity=".95"/><rect x="399.72" y="1732" width="10.52" height="29" fill="url(#cL4)" opacity=".9"/><rect x="399.72" y="1761" width="10.52" height="28" fill="url(#cL4)"/><rect x="399.72" y="1789" width="10.52" height="28" fill="url(#cL4)" opacity=".95"/><rect x="399.72" y="1817" width="10.52" height="28" fill="url(#cL4)" opacity=".9"/><rect x="398.98" y="1142" width="11.99" height="28" fill="url(#cL5)"/><rect x="398.98" y="1198" width="11.99" height="28" fill="url(#cL5)"/><rect x="398.98" y="1339" width="11.99" height="28" fill="url(#cL5)"/><rect x="398.98" y="1761" width="11.99" height="28" fill="url(#cL5)"/><rect x="497.65" y="1085" width="35.96" height="760" fill="url(#cL6)"/><rect x="510.78" y="1085" width="9.71" height="760" fill="url(#cL7)"/><rect x="542.77" y="1085" width="5.66" height="760" fill="url(#cL8)"/><rect x="743.05" y="1085" width="26.97" height="29" fill="url(#cL9)"/><rect x="743.05" y="1114" width="26.97" height="28" fill="url(#cL9)"/><rect x="743.05" y="1142" width="26.97" height="28" fill="url(#cL9)"/><rect x="743.05" y="1170" width="26.97" height="28" fill="url(#cL9)"/><rect x="743.05" y="1198" width="26.97" height="28" fill="url(#cL9)"/><rect x="743.05" y="1226" width="26.97" height="28" fill="url(#cL9)"/><rect x="743.05" y="1254" width="26.97" height="28" fill="url(#cL9)"/><rect x="743.05" y="1282" width="26.97" height="28" fill="url(#cL9)"/><rect x="743.05" y="1310" width="26.97" height="29" fill="url(#cL9)"/><rect x="743.05" y="1339" width="26.97" height="28" fill="url(#cL9)"/><rect x="743.05" y="1367" width="26.97" height="28" fill="url(#cL9)"/><rect x="743.05" y="1395" width="26.97" height="28" fill="url(#cL9)"/><rect x="743.05" y="1423" width="26.97" height="28" fill="url(#cL9)"/><rect x="743.05" y="1451" width="26.97" height="28" fill="url(#cL9)"/><rect x="743.05" y="1479" width="26.97" height="28" fill="url(#cL9)"/><rect x="743.05" y="1507" width="26.97" height="29" fill="url(#cL9)"/><rect x="743.05" y="1536" width="26.97" height="28" fill="url(#cL9)"/><rect x="743.05" y="1564" width="26.97" height="28" fill="url(#cL9)"/><rect x="743.05" y="1592" width="26.97" height="28" fill="url(#cL9)"/><rect x="743.05" y="1620" width="26.97" height="28" fill="url(#cL9)"/><rect x="743.05" y="1648" width="26.97" height="28" fill="url(#cL9)"/><rect x="743.05" y="1676" width="26.97" height="28" fill="url(#cL9)"/><rect x="743.05" y="1704" width="26.97" height="28" fill="url(#cL9)"/><rect x="743.05" y="1732" width="26.97" height="29" fill="url(#cL9)"/><rect x="743.05" y="1761" width="26.97" height="28" fill="url(#cL9)" opacity=".6"/><rect x="743.05" y="1789" width="26.97" height="28" fill="url(#cL9)" opacity=".3"/><rect x="743.05" y="1817" width="26.97" height="28" fill="url(#cL9)" opacity=".3"/><rect x="752.49" y="1085" width="8.09" height="29" fill="url(#cL10)"/><rect x="752.49" y="1114" width="8.09" height="28" fill="url(#cL10)"/><rect x="752.49" y="1142" width="8.09" height="28" fill="url(#cL10)"/><rect x="752.49" y="1170" width="8.09" height="28" fill="url(#cL10)"/><rect x="752.49" y="1198" width="8.09" height="28" fill="url(#cL10)"/><rect x="752.49" y="1226" width="8.09" height="28" fill="url(#cL10)"/><rect x="752.49" y="1254" width="8.09" height="28" fill="url(#cL10)"/><rect x="752.49" y="1282" width="8.09" height="28" fill="url(#cL10)"/><rect x="752.49" y="1310" width="8.09" height="29" fill="url(#cL10)"/><rect x="752.49" y="1339" width="8.09" height="28" fill="url(#cL10)"/><rect x="752.49" y="1367" width="8.09" height="28" fill="url(#cL10)"/><rect x="752.49" y="1395" width="8.09" height="28" fill="url(#cL10)"/><rect x="752.49" y="1423" width="8.09" height="28" fill="url(#cL10)"/><rect x="752.49" y="1451" width="8.09" height="28" fill="url(#cL10)"/><rect x="752.49" y="1479" width="8.09" height="28" fill="url(#cL10)"/><rect x="752.49" y="1507" width="8.09" height="29" fill="url(#cL10)"/><rect x="752.49" y="1536" width="8.09" height="28" fill="url(#cL10)"/><rect x="752.49" y="1564" width="8.09" height="28" fill="url(#cL10)"/><rect x="752.49" y="1592" width="8.09" height="28" fill="url(#cL10)"/><rect x="752.49" y="1620" width="8.09" height="28" fill="url(#cL10)"/><rect x="752.49" y="1648" width="8.09" height="28" fill="url(#cL10)"/><rect x="752.49" y="1676" width="8.09" height="28" fill="url(#cL10)"/><rect x="752.49" y="1704" width="8.09" height="28" fill="url(#cL10)"/><rect x="752.49" y="1732" width="8.09" height="29" fill="url(#cL10)"/><rect x="752.49" y="1761" width="8.09" height="28" fill="url(#cL10)" opacity=".5"/><rect x="752.49" y="1789" width="8.09" height="28" fill="url(#cL10)" opacity=".2"/><rect x="752.49" y="1817" width="8.09" height="28" fill="url(#cL10)" opacity=".2"/><rect x="797.69" y="1085" width="32.97" height="760" fill="url(#cL11)"/><rect x="809.32" y="1085" width="9.71" height="760" fill="url(#cL12)"/></g>
<rect x="1022.1" y="1085.4" width="47.9" height="761.7" fill="url(#cb)" filter="url(#cm)"/>
<g filter="url(#Fd)"><rect x="1330" y="1080" width="866" height="28" fill="url(#d0)"/><rect x="1330" y="1108" width="866" height="28" fill="url(#d1)"/><rect x="1330" y="1136" width="866" height="28" fill="url(#d2)"/><rect x="1330" y="1164" width="866" height="28" fill="url(#d3)"/><rect x="1330" y="1192" width="866" height="28" fill="url(#d4)"/><rect x="1330" y="1220" width="866" height="28" fill="url(#d5)"/><rect x="1330" y="1248" width="866" height="29" fill="url(#d6)"/><rect x="1330" y="1277" width="866" height="28" fill="url(#d7)"/><rect x="1330" y="1305" width="866" height="28" fill="url(#d8)"/><rect x="1330" y="1333" width="866" height="28" fill="url(#d9)"/><rect x="1330" y="1361" width="866" height="28" fill="url(#d10)"/><rect x="1330" y="1389" width="866" height="28" fill="url(#d11)"/><rect x="1330" y="1417" width="866" height="29" fill="url(#d12)"/><rect x="1330" y="1446" width="866" height="28" fill="url(#d13)"/><rect x="1330" y="1474" width="866" height="28" fill="url(#d14)"/><rect x="1330" y="1502" width="866" height="28" fill="url(#d15)"/><rect x="1330" y="1530" width="866" height="28" fill="url(#d16)"/><rect x="1330" y="1558" width="866" height="28" fill="url(#d17)"/><rect x="1330" y="1586" width="866" height="29" fill="url(#d18)"/><rect x="1330" y="1615" width="866" height="28" fill="url(#d19)"/><rect x="1330" y="1643" width="866" height="28" fill="url(#d20)"/><rect x="1330" y="1671" width="866" height="28" fill="url(#d21)"/><rect x="1330" y="1699" width="866" height="28" fill="url(#d22)"/><rect x="1330" y="1727" width="866" height="28" fill="url(#d23)"/><rect x="1330" y="1755" width="866" height="28" fill="url(#d24)"/><rect x="1330" y="1783" width="866" height="29" fill="url(#d25)"/><rect x="1330" y="1812" width="866" height="28" fill="url(#d26)"/><rect x="1442.61" y="1080" width="27.01" height="760" fill="url(#dL0)"/><rect x="1620.37" y="1080" width="27.01" height="28" fill="url(#dL1)" opacity=".3"/><rect x="1620.37" y="1108" width="27.01" height="28" fill="url(#dL1)" opacity=".3"/><rect x="1620.37" y="1136" width="27.01" height="28" fill="url(#dL1)" opacity=".3"/><rect x="1620.37" y="1164" width="27.01" height="28" fill="url(#dL1)" opacity=".3"/><rect x="1620.37" y="1192" width="27.01" height="28" fill="url(#dL1)" opacity=".3"/><rect x="1620.37" y="1220" width="27.01" height="28" fill="url(#dL1)" opacity=".3"/><rect x="1620.37" y="1248" width="27.01" height="29" fill="url(#dL1)" opacity=".3"/><rect x="1620.37" y="1277" width="27.01" height="28" fill="url(#dL1)" opacity=".3"/><rect x="1620.37" y="1305" width="27.01" height="28" fill="url(#dL1)" opacity=".3"/><rect x="1620.37" y="1333" width="27.01" height="28" fill="url(#dL1)" opacity=".3"/><rect x="1620.37" y="1361" width="27.01" height="28" fill="url(#dL1)" opacity=".3"/><rect x="1620.37" y="1389" width="27.01" height="28" fill="url(#dL1)" opacity=".3"/><rect x="1620.37" y="1417" width="27.01" height="29" fill="url(#dL1)"/><rect x="1620.37" y="1446" width="27.01" height="28" fill="url(#dL1)"/><rect x="1620.37" y="1474" width="27.01" height="28" fill="url(#dL1)"/><rect x="1620.37" y="1502" width="27.01" height="28" fill="url(#dL1)"/><rect x="1620.37" y="1530" width="27.01" height="28" fill="url(#dL1)"/><rect x="1620.37" y="1558" width="27.01" height="28" fill="url(#dL1)"/><rect x="1620.37" y="1586" width="27.01" height="29" fill="url(#dL1)"/><rect x="1620.37" y="1615" width="27.01" height="28" fill="url(#dL1)"/><rect x="1620.37" y="1643" width="27.01" height="28" fill="url(#dL1)"/><rect x="1620.37" y="1671" width="27.01" height="28" fill="url(#dL1)"/><rect x="1620.37" y="1699" width="27.01" height="28" fill="url(#dL1)"/><rect x="1620.37" y="1727" width="27.01" height="28" fill="url(#dL1)"/><rect x="1620.37" y="1755" width="27.01" height="28" fill="url(#dL1)"/><rect x="1620.37" y="1783" width="27.01" height="29" fill="url(#dL1)"/><rect x="1620.37" y="1812" width="27.01" height="28" fill="url(#dL1)"/><rect x="1490.22" y="1080" width="5.67" height="760" fill="url(#dL2)"/><rect x="1597.10" y="1080" width="8.91" height="28" fill="url(#dL3)" opacity=".5"/><rect x="1597.10" y="1108" width="8.91" height="28" fill="url(#dL3)" opacity=".8"/><rect x="1597.10" y="1136" width="8.91" height="28" fill="url(#dL3)"/><rect x="1597.10" y="1164" width="8.91" height="28" fill="url(#dL3)" opacity=".9"/><rect x="1597.10" y="1192" width="8.91" height="28" fill="url(#dL3)"/><rect x="1597.10" y="1220" width="8.91" height="28" fill="url(#dL3)" opacity=".9"/><rect x="1597.10" y="1248" width="8.91" height="29" fill="url(#dL3)" opacity=".85"/><rect x="1597.10" y="1277" width="8.91" height="28" fill="url(#dL3)" opacity=".9"/><rect x="1597.10" y="1305" width="8.91" height="28" fill="url(#dL3)" opacity=".85"/><rect x="1597.10" y="1333" width="8.91" height="28" fill="url(#dL3)"/><rect x="1597.10" y="1361" width="8.91" height="28" fill="url(#dL3)" opacity=".85"/><rect x="1597.10" y="1389" width="8.91" height="28" fill="url(#dL3)" opacity=".85"/><rect x="1597.10" y="1417" width="8.91" height="29" fill="url(#dL3)" opacity=".85"/><rect x="1597.10" y="1446" width="8.91" height="28" fill="url(#dL3)" opacity=".85"/><rect x="1597.10" y="1474" width="8.91" height="28" fill="url(#dL3)" opacity=".9"/><rect x="1597.10" y="1502" width="8.91" height="28" fill="url(#dL3)" opacity=".9"/><rect x="1597.10" y="1530" width="8.91" height="28" fill="url(#dL3)" opacity=".9"/><rect x="1597.10" y="1558" width="8.91" height="28" fill="url(#dL3)" opacity=".9"/><rect x="1597.10" y="1586" width="8.91" height="29" fill="url(#dL3)" opacity=".9"/><rect x="1597.10" y="1615" width="8.91" height="28" fill="url(#dL3)" opacity=".9"/><rect x="1597.10" y="1643" width="8.91" height="28" fill="url(#dL3)" opacity=".9"/><rect x="1597.10" y="1671" width="8.91" height="28" fill="url(#dL3)" opacity=".9"/><rect x="1597.10" y="1699" width="8.91" height="28" fill="url(#dL3)" opacity=".95"/><rect x="1597.10" y="1727" width="8.91" height="28" fill="url(#dL3)" opacity=".9"/><rect x="1597.10" y="1755" width="8.91" height="28" fill="url(#dL3)"/><rect x="1597.10" y="1783" width="8.91" height="29" fill="url(#dL3)" opacity=".95"/><rect x="1597.10" y="1812" width="8.91" height="28" fill="url(#dL3)" opacity=".9"/><rect x="1596.15" y="1136" width="10.80" height="28" fill="url(#dL4)"/><rect x="1596.15" y="1192" width="10.80" height="28" fill="url(#dL4)"/><rect x="1596.15" y="1333" width="10.80" height="28" fill="url(#dL4)"/><rect x="1596.15" y="1755" width="10.80" height="28" fill="url(#dL4)"/><rect x="1686.85" y="1080" width="51.02" height="760" fill="url(#dL5)"/><rect x="1707.26" y="1080" width="10.20" height="760" fill="url(#dL6)"/><rect x="1739.54" y="1080" width="5.67" height="760" fill="url(#dL7)"/><rect x="1949.55" y="1080" width="8.10" height="760" fill="url(#dL8)"/><rect x="1993.31" y="1080" width="36.01" height="760" fill="url(#dL9)"/><rect x="2006.05" y="1080" width="10.53" height="760" fill="url(#dL10)"/></g>
<rect x="2219.5" y="1079.5" width="47.9" height="762.4" fill="url(#cb)" filter="url(#cm)"/>
<g filter="url(#Fe)"><rect x="733" y="2096" width="864" height="28" fill="url(#e0)"/><rect x="733" y="2124" width="864" height="28" fill="url(#e1)"/><rect x="733" y="2152" width="864" height="28" fill="url(#e2)"/><rect x="733" y="2180" width="864" height="29" fill="url(#e3)"/><rect x="733" y="2209" width="864" height="28" fill="url(#e4)"/><rect x="733" y="2237" width="864" height="28" fill="url(#e5)"/><rect x="733" y="2265" width="864" height="28" fill="url(#e6)"/><rect x="733" y="2293" width="864" height="28" fill="url(#e7)"/><rect x="733" y="2321" width="864" height="28" fill="url(#e8)"/><rect x="733" y="2349" width="864" height="28" fill="url(#e9)"/><rect x="733" y="2377" width="864" height="28" fill="url(#e10)"/><rect x="733" y="2405" width="864" height="29" fill="url(#e11)"/><rect x="733" y="2434" width="864" height="28" fill="url(#e12)"/><rect x="733" y="2462" width="864" height="28" fill="url(#e13)"/><rect x="733" y="2490" width="864" height="28" fill="url(#e14)"/><rect x="733" y="2518" width="864" height="28" fill="url(#e15)"/><rect x="733" y="2546" width="864" height="28" fill="url(#e16)"/><rect x="733" y="2574" width="864" height="28" fill="url(#e17)"/><rect x="733" y="2602" width="864" height="28" fill="url(#e18)"/><rect x="733" y="2630" width="864" height="29" fill="url(#e19)"/><rect x="733" y="2659" width="864" height="28" fill="url(#e20)"/><rect x="733" y="2687" width="864" height="28" fill="url(#e21)"/><rect x="733" y="2715" width="864" height="28" fill="url(#e22)"/><rect x="733" y="2743" width="864" height="28" fill="url(#e23)"/><rect x="733" y="2771" width="864" height="28" fill="url(#e24)"/><rect x="733" y="2799" width="864" height="28" fill="url(#e25)"/><rect x="733" y="2827" width="864" height="29" fill="url(#e26)"/><rect x="845.29" y="2096" width="26.96" height="760" fill="url(#eL0)"/><rect x="1022.70" y="2096" width="26.96" height="28" fill="url(#eL1)" opacity=".3"/><rect x="1022.70" y="2124" width="26.96" height="28" fill="url(#eL1)" opacity=".3"/><rect x="1022.70" y="2152" width="26.96" height="28" fill="url(#eL1)" opacity=".3"/><rect x="1022.70" y="2180" width="26.96" height="29" fill="url(#eL1)" opacity=".3"/><rect x="1022.70" y="2209" width="26.96" height="28" fill="url(#eL1)" opacity=".3"/><rect x="1022.70" y="2237" width="26.96" height="28" fill="url(#eL1)" opacity=".3"/><rect x="1022.70" y="2265" width="26.96" height="28" fill="url(#eL1)" opacity=".3"/><rect x="1022.70" y="2293" width="26.96" height="28" fill="url(#eL1)" opacity=".3"/><rect x="1022.70" y="2321" width="26.96" height="28" fill="url(#eL1)" opacity=".3"/><rect x="1022.70" y="2349" width="26.96" height="28" fill="url(#eL1)" opacity=".3"/><rect x="1022.70" y="2377" width="26.96" height="28" fill="url(#eL1)" opacity=".3"/><rect x="1022.70" y="2405" width="26.96" height="29" fill="url(#eL1)" opacity=".3"/><rect x="1022.70" y="2434" width="26.96" height="28" fill="url(#eL1)"/><rect x="1022.70" y="2462" width="26.96" height="28" fill="url(#eL1)"/><rect x="1022.70" y="2490" width="26.96" height="28" fill="url(#eL1)"/><rect x="1022.70" y="2518" width="26.96" height="28" fill="url(#eL1)"/><rect x="1022.70" y="2546" width="26.96" height="28" fill="url(#eL1)"/><rect x="1022.70" y="2574" width="26.96" height="28" fill="url(#eL1)"/><rect x="1022.70" y="2602" width="26.96" height="28" fill="url(#eL1)"/><rect x="1022.70" y="2630" width="26.96" height="29" fill="url(#eL1)"/><rect x="1022.70" y="2659" width="26.96" height="28" fill="url(#eL1)"/><rect x="1022.70" y="2687" width="26.96" height="28" fill="url(#eL1)"/><rect x="1022.70" y="2715" width="26.96" height="28" fill="url(#eL1)"/><rect x="1022.70" y="2743" width="26.96" height="28" fill="url(#eL1)"/><rect x="1022.70" y="2771" width="26.96" height="28" fill="url(#eL1)"/><rect x="1022.70" y="2799" width="26.96" height="28" fill="url(#eL1)"/><rect x="1022.70" y="2827" width="26.96" height="29" fill="url(#eL1)"/><rect x="1000.28" y="2096" width="7.28" height="28" fill="url(#eL2)" opacity=".5"/><rect x="1000.28" y="2124" width="7.28" height="28" fill="url(#eL2)" opacity=".8"/><rect x="1000.28" y="2152" width="7.28" height="28" fill="url(#eL2)"/><rect x="1000.28" y="2180" width="7.28" height="29" fill="url(#eL2)" opacity=".9"/><rect x="1000.28" y="2209" width="7.28" height="28" fill="url(#eL2)"/><rect x="1000.28" y="2237" width="7.28" height="28" fill="url(#eL2)" opacity=".9"/><rect x="1000.28" y="2265" width="7.28" height="28" fill="url(#eL2)" opacity=".85"/><rect x="1000.28" y="2293" width="7.28" height="28" fill="url(#eL2)" opacity=".9"/><rect x="1000.28" y="2321" width="7.28" height="28" fill="url(#eL2)" opacity=".85"/><rect x="1000.28" y="2349" width="7.28" height="28" fill="url(#eL2)"/><rect x="1000.28" y="2377" width="7.28" height="28" fill="url(#eL2)" opacity=".85"/><rect x="1000.28" y="2405" width="7.28" height="29" fill="url(#eL2)" opacity=".85"/><rect x="1000.28" y="2434" width="7.28" height="28" fill="url(#eL2)" opacity=".85"/><rect x="1000.28" y="2462" width="7.28" height="28" fill="url(#eL2)" opacity=".85"/><rect x="1000.28" y="2490" width="7.28" height="28" fill="url(#eL2)" opacity=".9"/><rect x="1000.28" y="2518" width="7.28" height="28" fill="url(#eL2)" opacity=".9"/><rect x="1000.28" y="2546" width="7.28" height="28" fill="url(#eL2)" opacity=".9"/><rect x="1000.28" y="2574" width="7.28" height="28" fill="url(#eL2)" opacity=".9"/><rect x="1000.28" y="2602" width="7.28" height="28" fill="url(#eL2)" opacity=".9"/><rect x="1000.28" y="2630" width="7.28" height="29" fill="url(#eL2)" opacity=".9"/><rect x="1000.28" y="2659" width="7.28" height="28" fill="url(#eL2)" opacity=".9"/><rect x="1000.28" y="2687" width="7.28" height="28" fill="url(#eL2)" opacity=".9"/><rect x="1000.28" y="2715" width="7.28" height="28" fill="url(#eL2)" opacity=".95"/><rect x="1000.28" y="2743" width="7.28" height="28" fill="url(#eL2)" opacity=".9"/><rect x="1000.28" y="2771" width="7.28" height="28" fill="url(#eL2)"/><rect x="1000.28" y="2799" width="7.28" height="28" fill="url(#eL2)" opacity=".95"/><rect x="1000.28" y="2827" width="7.28" height="29" fill="url(#eL2)" opacity=".9"/><rect x="998.53" y="2152" width="10.78" height="28" fill="url(#eL3)"/><rect x="998.53" y="2209" width="10.78" height="28" fill="url(#eL3)"/><rect x="998.53" y="2349" width="10.78" height="28" fill="url(#eL3)"/><rect x="998.53" y="2771" width="10.78" height="28" fill="url(#eL3)"/><rect x="1090.55" y="2096" width="47.92" height="760" fill="url(#eL4)"/><rect x="1110.02" y="2096" width="8.99" height="760" fill="url(#eL5)"/><rect x="1141.63" y="2096" width="5.66" height="760" fill="url(#eL6)"/><rect x="1351.24" y="2096" width="8.09" height="760" fill="url(#eL7)"/><rect x="1394.91" y="2096" width="35.94" height="760" fill="url(#eL8)"/><rect x="1408.03" y="2096" width="9.70" height="760" fill="url(#eL9)"/></g>
<rect x="1620.7" y="2096.1" width="47.9" height="761.5" fill="url(#cb)" filter="url(#cm)"/>
<rect x="133.2" y="70.4" width="866.6" height="761.5" fill="none" stroke="#262626" stroke-width="2"/>
<rect x="1023.3" y="70.4" width="47.9" height="763.6" fill="none" stroke="#262626" stroke-width="2"/>
<text transform="translate(248.7 874.9) scale(0.93 1)" font-size="31" text-anchor="middle">60</text>
<text transform="translate(364.3 874.9) scale(0.93 1)" font-size="31" text-anchor="middle">70</text>
<text transform="translate(479.8 874.9) scale(0.93 1)" font-size="31" text-anchor="middle">80</text>
<text transform="translate(595.4 874.9) scale(0.93 1)" font-size="31" text-anchor="middle">90</text>
<text transform="translate(710.9 874.9) scale(0.93 1)" font-size="31" text-anchor="middle">100</text>
<text transform="translate(826.5 874.9) scale(0.93 1)" font-size="31" text-anchor="middle">110</text>
<text transform="translate(942.0 874.9) scale(0.93 1)" font-size="31" text-anchor="middle">120</text>
<text transform="translate(119.7 208.6) scale(0.93 1)" font-size="31" text-anchor="end">50</text>
<text transform="translate(119.7 349.7) scale(0.93 1)" font-size="31" text-anchor="end">100</text>
<text transform="translate(119.7 490.9) scale(0.93 1)" font-size="31" text-anchor="end">150</text>
<text transform="translate(119.7 632.1) scale(0.93 1)" font-size="31" text-anchor="end">200</text>
<text transform="translate(119.7 773.3) scale(0.93 1)" font-size="31" text-anchor="end">250</text>
<text transform="translate(1082.7 716.9)" font-size="26">100</text>
<text transform="translate(1082.7 557.8)" font-size="26">150</text>
<text transform="translate(1082.7 398.8)" font-size="26">200</text>
<text transform="translate(1082.7 239.7)" font-size="26">250</text>
<text transform="translate(1082.7 80.7)" font-size="26">300</text>
<path d="M248.7 831.9v-9.5M248.7 70.4v9.5M364.3 831.9v-9.5M364.3 70.4v9.5M479.8 831.9v-9.5M479.8 70.4v9.5M595.4 831.9v-9.5M595.4 70.4v9.5M710.9 831.9v-9.5M710.9 70.4v9.5M826.5 831.9v-9.5M826.5 70.4v9.5M942.0 831.9v-9.5M942.0 70.4v9.5M133.2 196.8h9.5M999.8 196.8h-9.5M133.2 337.9h9.5M999.8 337.9h-9.5M133.2 479.1h9.5M999.8 479.1h-9.5M133.2 620.3h9.5M999.8 620.3h-9.5M133.2 761.5h9.5M999.8 761.5h-9.5M1071.2 706.6h-9M1071.2 547.5h-9M1071.2 388.5h-9M1071.2 229.4h-9" stroke="#262626" stroke-width="2" fill="none"/>
<text fill="#000" transform="translate(566.5 53.4) scale(0.94 1)" font-size="44.3" text-anchor="middle">ORPF</text>
<text transform="translate(566.5 926.9) scale(0.94 1)" font-size="44.3" text-anchor="middle">Frequency/Hz</text>
<text transform="translate(52.4 451.6) rotate(-90) scale(0.94 1)" font-size="44.3" text-anchor="middle">Time/s</text>
<text transform="translate(1166.7 451.6) rotate(-90)" font-size="27" text-anchor="middle">Power/dB</text>
<text transform="translate(594.5 1008.9) scale(.96 1)" font-size="63" text-anchor="middle" class="s">(<tspan font-weight="bold">a</tspan>)</text>
<rect x="1331.8" y="66.0" width="864.3" height="759.4" fill="none" stroke="#262626" stroke-width="2"/>
<rect x="2219.6" y="66.0" width="47.9" height="761.5" fill="none" stroke="#262626" stroke-width="2"/>
<text transform="translate(1447.0 868.4) scale(0.93 1)" font-size="31" text-anchor="middle">60</text>
<text transform="translate(1562.3 868.4) scale(0.93 1)" font-size="31" text-anchor="middle">70</text>
<text transform="translate(1677.5 868.4) scale(0.93 1)" font-size="31" text-anchor="middle">80</text>
<text transform="translate(1792.8 868.4) scale(0.93 1)" font-size="31" text-anchor="middle">90</text>
<text transform="translate(1908.0 868.4) scale(0.93 1)" font-size="31" text-anchor="middle">100</text>
<text transform="translate(2023.2 868.4) scale(0.93 1)" font-size="31" text-anchor="middle">110</text>
<text transform="translate(2138.5 868.4) scale(0.93 1)" font-size="31" text-anchor="middle">120</text>
<text transform="translate(1318.3 203.8) scale(0.93 1)" font-size="31" text-anchor="end">50</text>
<text transform="translate(1318.3 344.6) scale(0.93 1)" font-size="31" text-anchor="end">100</text>
<text transform="translate(1318.3 485.4) scale(0.93 1)" font-size="31" text-anchor="end">150</text>
<text transform="translate(1318.3 626.2) scale(0.93 1)" font-size="31" text-anchor="end">200</text>
<text transform="translate(1318.3 766.9) scale(0.93 1)" font-size="31" text-anchor="end">250</text>
<text transform="translate(2279.0 710.7)" font-size="26">100</text>
<text transform="translate(2279.0 552.1)" font-size="26">150</text>
<text transform="translate(2279.0 393.5)" font-size="26">200</text>
<text transform="translate(2279.0 234.9)" font-size="26">250</text>
<text transform="translate(2279.0 76.3)" font-size="26">300</text>
<path d="M1447.0 825.4v-9.5M1447.0 66.0v9.5M1562.3 825.4v-9.5M1562.3 66.0v9.5M1677.5 825.4v-9.5M1677.5 66.0v9.5M1792.8 825.4v-9.5M1792.8 66.0v9.5M1908.0 825.4v-9.5M1908.0 66.0v9.5M2023.2 825.4v-9.5M2023.2 66.0v9.5M2138.5 825.4v-9.5M2138.5 66.0v9.5M1331.8 192.0h9.5M2196.1 192.0h-9.5M1331.8 332.8h9.5M2196.1 332.8h-9.5M1331.8 473.6h9.5M2196.1 473.6h-9.5M1331.8 614.4h9.5M2196.1 614.4h-9.5M1331.8 755.1h9.5M2196.1 755.1h-9.5M2267.5 700.4h-9M2267.5 541.8h-9M2267.5 383.2h-9M2267.5 224.6h-9" stroke="#262626" stroke-width="2" fill="none"/>
<text fill="#000" transform="translate(1763.9 49.0) scale(0.94 1)" font-size="44.3" text-anchor="middle">Average</text>
<text transform="translate(1763.9 920.4) scale(0.94 1)" font-size="44.3" text-anchor="middle">Frequency/Hz</text>
<text transform="translate(1251.0 446.2) rotate(-90) scale(0.94 1)" font-size="44.3" text-anchor="middle">Time/s</text>
<text transform="translate(2363.0 446.2) rotate(-90)" font-size="27" text-anchor="middle">Power/dB</text>
<text transform="translate(1791.9 1002.4) scale(.96 1)" font-size="63" text-anchor="middle" class="s">(<tspan font-weight="bold">b</tspan>)</text>
<rect x="134.1" y="1085.4" width="864.5" height="759.6" fill="none" stroke="#262626" stroke-width="2"/>
<rect x="1022.1" y="1085.4" width="47.9" height="761.7" fill="none" stroke="#262626" stroke-width="2"/>
<text transform="translate(249.4 1888.0) scale(0.93 1)" font-size="31" text-anchor="middle">60</text>
<text transform="translate(364.6 1888.0) scale(0.93 1)" font-size="31" text-anchor="middle">70</text>
<text transform="translate(479.9 1888.0) scale(0.93 1)" font-size="31" text-anchor="middle">80</text>
<text transform="translate(595.2 1888.0) scale(0.93 1)" font-size="31" text-anchor="middle">90</text>
<text transform="translate(710.4 1888.0) scale(0.93 1)" font-size="31" text-anchor="middle">100</text>
<text transform="translate(825.7 1888.0) scale(0.93 1)" font-size="31" text-anchor="middle">110</text>
<text transform="translate(941.0 1888.0) scale(0.93 1)" font-size="31" text-anchor="middle">120</text>
<text transform="translate(120.6 1223.2) scale(0.93 1)" font-size="31" text-anchor="end">50</text>
<text transform="translate(120.6 1364.1) scale(0.93 1)" font-size="31" text-anchor="end">100</text>
<text transform="translate(120.6 1504.9) scale(0.93 1)" font-size="31" text-anchor="end">150</text>
<text transform="translate(120.6 1645.7) scale(0.93 1)" font-size="31" text-anchor="end">200</text>
<text transform="translate(120.6 1786.5) scale(0.93 1)" font-size="31" text-anchor="end">250</text>
<text transform="translate(1081.5 1730.3)" font-size="26">100</text>
<text transform="translate(1081.5 1571.6)" font-size="26">150</text>
<text transform="translate(1081.5 1413.0)" font-size="26">200</text>
<text transform="translate(1081.5 1254.3)" font-size="26">250</text>
<text transform="translate(1081.5 1095.7)" font-size="26">300</text>
<path d="M249.4 1845.0v-9.5M249.4 1085.4v9.5M364.6 1845.0v-9.5M364.6 1085.4v9.5M479.9 1845.0v-9.5M479.9 1085.4v9.5M595.2 1845.0v-9.5M595.2 1085.4v9.5M710.4 1845.0v-9.5M710.4 1085.4v9.5M825.7 1845.0v-9.5M825.7 1085.4v9.5M941.0 1845.0v-9.5M941.0 1085.4v9.5M134.1 1211.4h9.5M998.6 1211.4h-9.5M134.1 1352.3h9.5M998.6 1352.3h-9.5M134.1 1493.1h9.5M998.6 1493.1h-9.5M134.1 1633.9h9.5M998.6 1633.9h-9.5M134.1 1774.7h9.5M998.6 1774.7h-9.5M1070.0 1720.0h-9M1070.0 1561.3h-9M1070.0 1402.7h-9M1070.0 1244.0h-9" stroke="#262626" stroke-width="2" fill="none"/>
<text fill="#000" transform="translate(566.4 1068.4) scale(0.94 1)" font-size="44.3" text-anchor="middle">Subspace</text>
<text transform="translate(566.4 1940.0) scale(0.94 1)" font-size="44.3" text-anchor="middle">Frequency/Hz</text>
<text transform="translate(53.3 1465.7) rotate(-90) scale(0.94 1)" font-size="44.3" text-anchor="middle">Time/s</text>
<text transform="translate(1165.5 1465.7) rotate(-90)" font-size="27" text-anchor="middle">Power/dB</text>
<text transform="translate(594.4 2022.0) scale(.96 1)" font-size="63" text-anchor="middle" class="s">(<tspan font-weight="bold">c</tspan>)</text>
<rect x="1330.3" y="1079.5" width="865.7" height="760.3" fill="none" stroke="#262626" stroke-width="2"/>
<rect x="2219.5" y="1079.5" width="47.9" height="762.4" fill="none" stroke="#262626" stroke-width="2"/>
<text transform="translate(1445.7 1882.8) scale(0.93 1)" font-size="31" text-anchor="middle">60</text>
<text transform="translate(1561.2 1882.8) scale(0.93 1)" font-size="31" text-anchor="middle">70</text>
<text transform="translate(1676.6 1882.8) scale(0.93 1)" font-size="31" text-anchor="middle">80</text>
<text transform="translate(1792.0 1882.8) scale(0.93 1)" font-size="31" text-anchor="middle">90</text>
<text transform="translate(1907.4 1882.8) scale(0.93 1)" font-size="31" text-anchor="middle">100</text>
<text transform="translate(2022.9 1882.8) scale(0.93 1)" font-size="31" text-anchor="middle">110</text>
<text transform="translate(2138.3 1882.8) scale(0.93 1)" font-size="31" text-anchor="middle">120</text>
<text transform="translate(1316.8 1217.5) scale(0.93 1)" font-size="31" text-anchor="end">50</text>
<text transform="translate(1316.8 1358.4) scale(0.93 1)" font-size="31" text-anchor="end">100</text>
<text transform="translate(1316.8 1499.4) scale(0.93 1)" font-size="31" text-anchor="end">150</text>
<text transform="translate(1316.8 1640.3) scale(0.93 1)" font-size="31" text-anchor="end">200</text>
<text transform="translate(1316.8 1781.3) scale(0.93 1)" font-size="31" text-anchor="end">250</text>
<text transform="translate(2278.9 1725.0)" font-size="26">100</text>
<text transform="translate(2278.9 1566.2)" font-size="26">150</text>
<text transform="translate(2278.9 1407.4)" font-size="26">200</text>
<text transform="translate(2278.9 1248.6)" font-size="26">250</text>
<text transform="translate(2278.9 1089.8)" font-size="26">300</text>
<path d="M1445.7 1839.8v-9.5M1445.7 1079.5v9.5M1561.2 1839.8v-9.5M1561.2 1079.5v9.5M1676.6 1839.8v-9.5M1676.6 1079.5v9.5M1792.0 1839.8v-9.5M1792.0 1079.5v9.5M1907.4 1839.8v-9.5M1907.4 1079.5v9.5M2022.9 1839.8v-9.5M2022.9 1079.5v9.5M2138.3 1839.8v-9.5M2138.3 1079.5v9.5M1330.3 1205.7h9.5M2196.0 1205.7h-9.5M1330.3 1346.6h9.5M2196.0 1346.6h-9.5M1330.3 1487.6h9.5M2196.0 1487.6h-9.5M1330.3 1628.5h9.5M2196.0 1628.5h-9.5M1330.3 1769.5h9.5M2196.0 1769.5h-9.5M2267.4 1714.7h-9M2267.4 1555.9h-9M2267.4 1397.1h-9M2267.4 1238.3h-9" stroke="#262626" stroke-width="2" fill="none"/>
<text fill="#000" transform="translate(1763.2 1062.5) scale(0.94 1)" font-size="44.3" text-anchor="middle">ORKF</text>
<text transform="translate(1763.2 1934.8) scale(0.94 1)" font-size="44.3" text-anchor="middle">Frequency/Hz</text>
<text transform="translate(1249.5 1460.2) rotate(-90) scale(0.94 1)" font-size="44.3" text-anchor="middle">Time/s</text>
<text transform="translate(2362.9 1460.2) rotate(-90)" font-size="27" text-anchor="middle">Power/dB</text>
<text transform="translate(1791.2 2016.8) scale(.96 1)" font-size="63" text-anchor="middle" class="s">(<tspan font-weight="bold">d</tspan>)</text>
<rect x="733.2" y="2096.1" width="864.0" height="759.4" fill="none" stroke="#262626" stroke-width="2"/>
<rect x="1620.7" y="2096.1" width="47.9" height="761.5" fill="none" stroke="#262626" stroke-width="2"/>
<text transform="translate(848.4 2898.5) scale(0.93 1)" font-size="31" text-anchor="middle">60</text>
<text transform="translate(963.6 2898.5) scale(0.93 1)" font-size="31" text-anchor="middle">70</text>
<text transform="translate(1078.8 2898.5) scale(0.93 1)" font-size="31" text-anchor="middle">80</text>
<text transform="translate(1194.0 2898.5) scale(0.93 1)" font-size="31" text-anchor="middle">90</text>
<text transform="translate(1309.2 2898.5) scale(0.93 1)" font-size="31" text-anchor="middle">100</text>
<text transform="translate(1424.4 2898.5) scale(0.93 1)" font-size="31" text-anchor="middle">110</text>
<text transform="translate(1539.6 2898.5) scale(0.93 1)" font-size="31" text-anchor="middle">120</text>
<text transform="translate(719.7 2233.9) scale(0.93 1)" font-size="31" text-anchor="end">50</text>
<text transform="translate(719.7 2374.7) scale(0.93 1)" font-size="31" text-anchor="end">100</text>
<text transform="translate(719.7 2515.5) scale(0.93 1)" font-size="31" text-anchor="end">150</text>
<text transform="translate(719.7 2656.3) scale(0.93 1)" font-size="31" text-anchor="end">200</text>
<text transform="translate(719.7 2797.0) scale(0.93 1)" font-size="31" text-anchor="end">250</text>
<text transform="translate(1680.1 2740.8)" font-size="26">100</text>
<text transform="translate(1680.1 2582.2)" font-size="26">150</text>
<text transform="translate(1680.1 2423.6)" font-size="26">200</text>
<text transform="translate(1680.1 2265.0)" font-size="26">250</text>
<text transform="translate(1680.1 2106.4)" font-size="26">300</text>
<path d="M848.4 2855.5v-9.5M848.4 2096.1v9.5M963.6 2855.5v-9.5M963.6 2096.1v9.5M1078.8 2855.5v-9.5M1078.8 2096.1v9.5M1194.0 2855.5v-9.5M1194.0 2096.1v9.5M1309.2 2855.5v-9.5M1309.2 2096.1v9.5M1424.4 2855.5v-9.5M1424.4 2096.1v9.5M1539.6 2855.5v-9.5M1539.6 2096.1v9.5M733.2 2222.1h9.5M1597.2 2222.1h-9.5M733.2 2362.9h9.5M1597.2 2362.9h-9.5M733.2 2503.7h9.5M1597.2 2503.7h-9.5M733.2 2644.5h9.5M1597.2 2644.5h-9.5M733.2 2785.2h9.5M1597.2 2785.2h-9.5M1668.6 2730.5h-9M1668.6 2571.9h-9M1668.6 2413.3h-9M1668.6 2254.7h-9" stroke="#262626" stroke-width="2" fill="none"/>
<text fill="#000" transform="translate(1165.2 2079.1) scale(0.94 1)" font-size="44.3" text-anchor="middle">CBF</text>
<text transform="translate(1165.2 2950.5) scale(0.94 1)" font-size="44.3" text-anchor="middle">Frequency/Hz</text>
<text transform="translate(652.4 2476.3) rotate(-90) scale(0.94 1)" font-size="44.3" text-anchor="middle">Time/s</text>
<text transform="translate(1764.1 2476.3) rotate(-90)" font-size="27" text-anchor="middle">Power/dB</text>
<text transform="translate(1193.2 3032.5) scale(.96 1)" font-size="63" text-anchor="middle" class="s">(<tspan font-weight="bold">e</tspan>)</text>
</svg>
</body></html>
